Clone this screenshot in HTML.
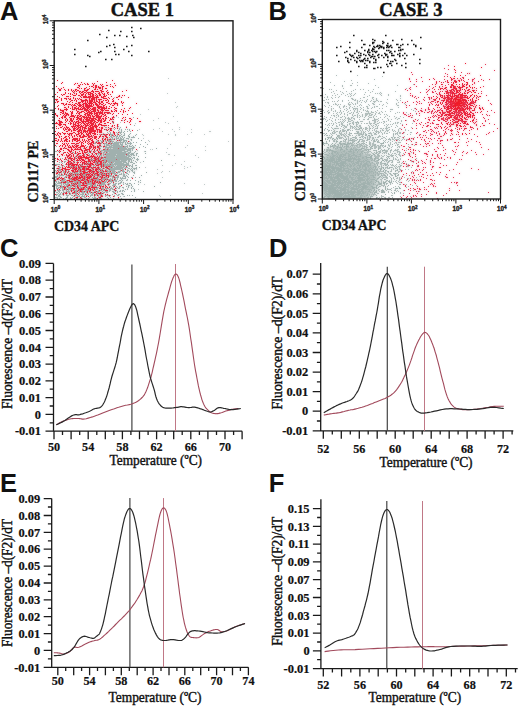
<!DOCTYPE html>
<html><head><meta charset="utf-8"><title>Figure</title>
<style>
html,body{margin:0;padding:0;background:#fff;}
body{width:520px;height:707px;position:relative;overflow:hidden;font-family:"Liberation Sans", sans-serif;}
</style></head><body>
<svg width="520" height="707" viewBox="0 0 520 707" style="position:absolute;left:0;top:0">
<defs><filter id="bl" x="-30%" y="-30%" width="160%" height="160%"><feGaussianBlur stdDeviation="5"/></filter><filter id="bl2" x="-100%" y="-100%" width="300%" height="300%"><feGaussianBlur stdDeviation="2.5"/></filter><filter id="sb" x="0" y="0" width="100%" height="100%"><feGaussianBlur stdDeviation="0.8"/></filter><filter id="hz" x="-5%" y="-5%" width="110%" height="110%"><feGaussianBlur stdDeviation="1.2"/></filter></defs>
<g>
<g opacity="0.5" filter="url(#hz)"><path d="M107 155.5h1M83 191.5h1M68 186.5h1M81 165.5h1M69 181.5h1M71 184.5h1M121 181.5h1M73 177.5h1M60 170.5h1M64 192.5h1M76 182.5h1M86 195.5h1M84 189.5h1M92 174.5h1M86 186.5h1M68 191.5h1M67 173.5h1M67 164.5h1M64 177.5h1M97 188.5h1M89 172.5h1M104 183.5h1M66 175.5h1M83 173.5h1M89 173.5h1M115 190.5h1M103 189.5h1M72 193.5h1M115 185.5h1M123 164.5h1M71 195.5h1M93 158.5h1M80 167.5h1M110 172.5h1M103 179.5h1M107 188.5h1M72 174.5h1M91 171.5h1M100 169.5h1M83 177.5h1M60 185.5h1M90 165.5h1M94 181.5h1M118 175.5h1M133 188.5h1M107 158.5h1M61 161.5h1M104 178.5h1M121 173.5h1M111 188.5h1M105 191.5h1M56 184.5h1M79 180.5h1M99 182.5h1M56 176.5h1M98 185.5h1M73 176.5h1M66 182.5h1M69 177.5h1M61 183.5h1M94 182.5h1M76 198.5h1M60 190.5h1M61 179.5h1M90 180.5h1M103 178.5h1M69 188.5h1M108 155.5h1M120 196.5h1M96 191.5h1M64 178.5h1M80 175.5h1M56 197.5h1M111 175.5h1M91 184.5h1M92 178.5h1M70 185.5h1M64 185.5h1M84 188.5h1M84 181.5h1M84 166.5h1M64 166.5h1M57 155.5h1M85 182.5h1M85 174.5h1M63 186.5h1M68 159.5h1M101 165.5h1M112 179.5h1M101 181.5h1M87 193.5h1M90 167.5h1M59 192.5h1M74 179.5h1M118 195.5h1M63 175.5h1M110 155.5h1M81 177.5h1M60 180.5h1M76 189.5h1M82 173.5h1M75 170.5h1M88 176.5h1M68 176.5h1M91 182.5h1M113 180.5h1M58 195.5h1M102 171.5h1M87 192.5h1M67 156.5h1M93 176.5h1M78 143.5h1M91 179.5h1M82 183.5h1M104 181.5h1M126 186.5h1M64 180.5h1M69 191.5h1M82 182.5h1M64 186.5h1M85 193.5h1M83 174.5h1M109 167.5h1M55 185.5h1M68 184.5h1M55 151.5h1M106 176.5h1M83 163.5h1M74 190.5h1M88 188.5h1M131 177.5h1M86 198.5h1M90 186.5h1M69 184.5h1M81 189.5h1M78 183.5h1M110 183.5h1M65 181.5h1M76 171.5h1M66 159.5h1M72 165.5h1M98 191.5h1M59 190.5h1M114 185.5h1M79 190.5h1M94 156.5h1M78 186.5h1M118 198.5h1M102 193.5h1M78 192.5h1M108 153.5h1M79 182.5h1M89 192.5h1M77 155.5h1M102 183.5h1M101 185.5h1M69 185.5h1M105 149.5h1M91 159.5h1M95 183.5h1M59 167.5h1M80 155.5h1M96 163.5h1M83 196.5h1M76 174.5h1M90 185.5h1M70 152.5h1M105 171.5h1M80 158.5h1M63 184.5h1M63 180.5h1M89 183.5h1M93 193.5h1M119 180.5h1M106 162.5h1M94 191.5h1M79 184.5h1M75 175.5h1M75 187.5h1M65 186.5h1M62 180.5h1M63 179.5h1M73 169.5h1M123 175.5h1M88 198.5h1M95 180.5h1M83 179.5h1M99 183.5h1M63 192.5h1M82 160.5h1M81 169.5h1M87 191.5h1M69 175.5h1M91 175.5h1M83 193.5h1M105 195.5h1M82 193.5h1M131 154.5h1M61 184.5h1M106 189.5h1M66 184.5h1M109 179.5h1M102 176.5h1M73 171.5h1M55 164.5h1M100 177.5h1M82 176.5h1M113 185.5h1M79 169.5h1M80 179.5h1M91 177.5h1M64 172.5h1M96 177.5h1M84 177.5h1M72 181.5h1M99 194.5h1M92 185.5h1M84 182.5h1M111 181.5h1M68 182.5h1M55 179.5h1M56 178.5h1M77 172.5h1M84 195.5h1M69 174.5h1M94 180.5h1M88 189.5h1M88 184.5h1M82 178.5h1M73 164.5h1M55 176.5h1M107 191.5h1M87 187.5h1M136 169.5h1M92 186.5h1M96 161.5h1M100 162.5h1M85 171.5h1M87 180.5h1M65 177.5h1M81 185.5h1M84 174.5h1M86 190.5h1M62 158.5h1M85 180.5h1M117 187.5h1M79 172.5h1M64 171.5h1M74 185.5h1M72 179.5h1M107 184.5h1M62 179.5h1M93 165.5h1M85 173.5h1M93 179.5h1M87 161.5h1M63 189.5h1M67 182.5h1M64 183.5h1M80 178.5h1M63 187.5h1M84 163.5h1M102 170.5h1M73 183.5h1M86 177.5h1M91 178.5h1M77 196.5h1M124 174.5h1M69 187.5h1M98 190.5h1M85 175.5h1M116 163.5h1M115 181.5h1M69 162.5h1M122 191.5h1M85 179.5h1M89 155.5h1M75 188.5h1M85 148.5h1M82 196.5h1M75 169.5h1M65 174.5h1M96 189.5h1M110 181.5h1M116 180.5h1M91 174.5h1M60 183.5h1M112 181.5h1M82 165.5h1M80 173.5h1M67 160.5h1M58 182.5h1M78 165.5h1M68 183.5h1M66 191.5h1M90 195.5h1M60 175.5h1M85 178.5h1M76 172.5h1M75 177.5h1M57 192.5h1M95 191.5h1M63 178.5h1M96 170.5h1M96 174.5h1M108 180.5h1M57 188.5h1M59 176.5h1M90 192.5h1M107 178.5h1M113 191.5h1M98 183.5h1M78 170.5h1M74 174.5h1M119 167.5h1M81 176.5h1M59 182.5h1M77 174.5h1M110 165.5h1M96 179.5h1M69 178.5h1M77 197.5h1M75 191.5h1M77 170.5h1M70 189.5h1M59 173.5h1M92 182.5h1M90 196.5h1M66 195.5h1M83 178.5h1M76 184.5h1M83 194.5h1M70 172.5h1M102 178.5h1M86 183.5h1M84 151.5h1M90 163.5h1M87 189.5h1M96 175.5h1M68 174.5h1M81 190.5h1M78 153.5h1M80 172.5h1M75 168.5h1M69 165.5h1M92 169.5h1M88 180.5h1M72 184.5h1M94 188.5h1M58 187.5h1M106 192.5h1M79 166.5h1M88 183.5h1M55 160.5h1M56 179.5h1M85 170.5h1M74 188.5h1M102 165.5h1M125 167.5h1M79 196.5h1M71 156.5h1M94 165.5h1M75 158.5h1M92 192.5h1M58 178.5h1M83 187.5h1M70 194.5h1M77 180.5h1M97 174.5h1M81 174.5h1M75 184.5h1M128 185.5h1M59 162.5h1M65 184.5h1M90 179.5h1M72 173.5h1M80 182.5h1M80 188.5h1M69 192.5h1M93 178.5h1M67 172.5h1M56 192.5h1M121 168.5h1M138 184.5h1M64 173.5h1M113 189.5h1M101 190.5h1M73 189.5h1M92 187.5h1M58 170.5h1M122 177.5h1M109 186.5h1M106 177.5h1M116 177.5h1M90 181.5h1M92 188.5h1M91 183.5h1M123 190.5h1M90 190.5h1M73 161.5h1M102 177.5h1M61 177.5h1M89 169.5h1M120 166.5h1M98 175.5h1M92 181.5h1M78 167.5h1M84 168.5h1M83 180.5h1M116 183.5h1M111 182.5h1M95 197.5h1M93 182.5h1M117 167.5h1M70 164.5h1M84 187.5h1M85 181.5h1M66 171.5h1M74 193.5h1M97 168.5h1M113 187.5h1M81 172.5h1M128 187.5h1M87 182.5h1M88 187.5h1M81 182.5h1M59 164.5h1M74 181.5h1M70 190.5h1M61 174.5h1M95 179.5h1M75 180.5h1M87 163.5h1M61 192.5h1M68 187.5h1M96 168.5h1M96 187.5h1M79 176.5h1M76 144.5h1M95 184.5h1M72 171.5h1M88 163.5h1M89 175.5h1M58 179.5h1M82 190.5h1M71 179.5h1M58 164.5h1M91 168.5h1M61 186.5h1M83 183.5h1M100 176.5h1M110 195.5h1M62 193.5h1M66 194.5h1M87 177.5h1M119 194.5h1M80 198.5h1M72 190.5h1M67 197.5h1M85 186.5h1M70 175.5h1M74 157.5h1M72 185.5h1M103 164.5h1M98 172.5h1M77 185.5h1M83 148.5h1M89 178.5h1M70 186.5h1M76 197.5h1M62 155.5h1M61 182.5h1M76 173.5h1M86 174.5h1M101 160.5h1M78 168.5h1M96 169.5h1M98 167.5h1M93 173.5h1M80 166.5h1M96 194.5h1M112 163.5h1M79 171.5h1M85 188.5h1M110 188.5h1M106 180.5h1M58 190.5h1M73 172.5h1M55 170.5h1M110 150.5h1M91 167.5h1M79 178.5h1M84 184.5h1M86 194.5h1M110 175.5h1M54 171.5h1M108 185.5h1M57 198.5h1M85 197.5h1M80 183.5h1M100 174.5h1M81 170.5h1M91 187.5h1M83 160.5h1M128 162.5h1M84 175.5h1M89 174.5h1M84 183.5h1M108 195.5h1M92 164.5h1M95 182.5h1M97 181.5h1M101 158.5h1M85 189.5h1M91 170.5h1M100 187.5h1M96 181.5h1M92 170.5h1M73 181.5h1M106 168.5h1M73 193.5h1M72 167.5h1M113 184.5h1M78 166.5h1M93 175.5h1M105 178.5h1M63 194.5h1M67 181.5h1M55 181.5h1M61 173.5h1M98 182.5h1M64 162.5h1M66 177.5h1M85 159.5h1M66 186.5h1M67 167.5h1M63 195.5h1M62 182.5h1M68 177.5h1M64 181.5h1M94 198.5h1M96 182.5h1M77 178.5h1M79 181.5h1M82 188.5h1M96 178.5h1M72 188.5h1M65 188.5h1M68 192.5h1M112 177.5h1M60 169.5h1M66 190.5h1M104 173.5h1M73 152.5h1M126 159.5h1M73 174.5h1M66 185.5h1M99 190.5h1M105 179.5h1M75 178.5h1M55 183.5h1M112 170.5h1M89 177.5h1M72 183.5h1M130 180.5h1M96 172.5h1M64 188.5h1M59 198.5h1M98 176.5h1M102 175.5h1M82 189.5h1M109 171.5h1M64 187.5h1M63 183.5h1M95 195.5h1M98 196.5h1M59 185.5h1M99 147.5h1M75 195.5h1M69 176.5h1M95 185.5h1M78 173.5h1M94 186.5h1M87 174.5h1M66 188.5h1M59 195.5h1M98 179.5h1M78 177.5h1M67 184.5h1M92 163.5h1M90 177.5h1M62 186.5h1M108 184.5h1M100 155.5h1M77 175.5h1M63 191.5h1M97 155.5h1M71 189.5h1M126 164.5h1M56 186.5h1M78 189.5h1M66 169.5h1M88 193.5h1M69 179.5h1M75 197.5h1M57 183.5h1M73 168.5h1M74 173.5h1M61 172.5h1M98 180.5h1M79 160.5h1M98 154.5h1M59 175.5h1M94 196.5h1M82 198.5h1M106 158.5h1M66 189.5h1M95 177.5h1M122 169.5h1M94 179.5h1M87 176.5h1M70 187.5h1M102 182.5h1M70 181.5h1M72 169.5h1M78 181.5h1M104 177.5h1M123 187.5h1M87 185.5h1M93 171.5h1M83 192.5h1M92 183.5h1M83 171.5h1M94 195.5h1M80 164.5h1M92 193.5h1M65 189.5h1M84 179.5h1M89 188.5h1M113 176.5h1M110 186.5h1M59 187.5h1M103 192.5h1M67 195.5h1M96 180.5h1M81 197.5h1M115 174.5h1M55 190.5h1M100 198.5h1M115 191.5h1M72 180.5h1M97 167.5h1M87 178.5h1M58 185.5h1M82 159.5h1M100 181.5h1M60 171.5h1M107 192.5h1M62 166.5h1M70 179.5h1M101 178.5h1M74 161.5h1M88 182.5h1M77 173.5h1M104 175.5h1M79 193.5h1M87 171.5h1M73 190.5h1M115 177.5h1M115 178.5h1M73 162.5h1M95 181.5h1M104 192.5h1M86 182.5h1M82 194.5h1M75 172.5h1M103 186.5h1M90 173.5h1M58 188.5h1M80 185.5h1M103 175.5h1M72 152.5h1M59 169.5h1M62 163.5h1M75 185.5h1M68 165.5h1M106 175.5h1M76 153.5h1M97 164.5h1M55 191.5h1M81 171.5h1M94 197.5h1M80 168.5h1M68 149.5h1M91 185.5h1M97 161.5h1M93 187.5h1M94 176.5h1M88 169.5h1M114 180.5h1M71 163.5h1M76 176.5h1M58 172.5h1M68 178.5h1M55 180.5h1M85 164.5h1M77 165.5h1M72 187.5h1M92 190.5h1M84 196.5h1M58 166.5h1M84 167.5h1M90 171.5h1M81 188.5h1M92 180.5h1M70 176.5h1M71 178.5h1M77 188.5h1M67 183.5h1M57 194.5h1M70 166.5h1M131 168.5h1M94 187.5h1M57 179.5h1M98 192.5h1M76 155.5h1M108 198.5h1M88 173.5h1M82 150.5h1M96 171.5h1M80 177.5h1M68 175.5h1M72 178.5h1M87 179.5h1M58 181.5h1M93 152.5h1M68 160.5h1M76 190.5h1M84 171.5h1M67 193.5h1M89 170.5h1M75 157.5h1M82 191.5h1M66 197.5h1M87 150.5h1M98 169.5h1M122 193.5h1M105 177.5h1M65 159.5h1M84 186.5h1M115 183.5h1M77 149.5h1M106 188.5h1M66 170.5h1M102 184.5h1M104 179.5h1M91 186.5h1M70 182.5h1M55 197.5h1M122 180.5h1M88 153.5h1M112 172.5h1M103 181.5h1M81 196.5h1M117 191.5h1M82 184.5h1M71 182.5h1M76 180.5h1M79 192.5h1M100 157.5h1M54 172.5h1M103 184.5h1M95 151.5h1M62 190.5h1M81 175.5h1M96 198.5h1M85 190.5h1M72 195.5h1M97 191.5h1M113 192.5h1M69 182.5h1M88 178.5h1M71 151.5h1M95 187.5h1M99 176.5h1M74 153.5h1M81 191.5h1M98 171.5h1M123 184.5h1M69 194.5h1M87 164.5h1M60 194.5h1M94 167.5h1M89 156.5h1M101 188.5h1M90 162.5h1M102 188.5h1M65 198.5h1M61 162.5h1M154 186.5h1M61 154.5h1M87 165.5h1M56 185.5h1M101 171.5h1M76 181.5h1M89 180.5h1M101 163.5h1M112 194.5h1M74 182.5h1M77 198.5h1M58 191.5h1M104 166.5h1M59 194.5h1M73 167.5h1M109 191.5h1M102 191.5h1M75 182.5h1M106 179.5h1M61 197.5h1M74 168.5h1M92 179.5h1M109 189.5h1M110 179.5h1M94 158.5h1M99 167.5h1M80 180.5h1M108 175.5h1M101 193.5h1M64 161.5h1M68 172.5h1M65 161.5h1M79 185.5h1M70 197.5h1M61 181.5h1M107 195.5h1M95 167.5h1M84 192.5h1M59 170.5h1M86 187.5h1M76 179.5h1M134 190.5h1M78 179.5h1M84 180.5h1M79 177.5h1M63 190.5h1M104 174.5h1M61 180.5h1M146 172.5h1M81 180.5h1M109 187.5h1M76 191.5h1M60 197.5h1M71 164.5h1M81 164.5h1M87 195.5h1M135 177.5h1M108 181.5h1M100 196.5h1M56 174.5h1M56 195.5h1M109 170.5h1M60 186.5h1M63 152.5h1M132 186.5h1M73 188.5h1M129 171.5h1M88 186.5h1M100 171.5h1M82 180.5h1M75 193.5h1M57 178.5h1M80 184.5h1M118 188.5h1M57 186.5h1M90 184.5h1M110 197.5h1M105 173.5h1M58 183.5h1M105 187.5h1M134 191.5h1M73 196.5h1M104 164.5h1M94 162.5h1M75 179.5h1M73 184.5h1M88 175.5h1M75 156.5h1M66 176.5h1M91 180.5h1M104 182.5h1M96 186.5h1M91 195.5h1M106 174.5h1M86 181.5h1M109 184.5h1M68 189.5h1M122 178.5h1M68 163.5h1M104 165.5h1M68 195.5h1M111 173.5h1M82 187.5h1M103 174.5h1M76 168.5h1M71 198.5h1M76 186.5h1M82 167.5h1M94 157.5h1M106 190.5h1M102 174.5h1M67 155.5h1M69 166.5h1M56 188.5h1M80 191.5h1M125 178.5h1M99 188.5h1M92 168.5h1M99 186.5h1M110 157.5h1M82 177.5h1M58 193.5h1M121 193.5h1M77 195.5h1M101 175.5h1M56 182.5h1M86 167.5h1M62 187.5h1M66 181.5h1M85 168.5h1M81 173.5h1M60 158.5h1M79 186.5h1M76 178.5h1M113 181.5h1M84 176.5h1M87 152.5h1M97 195.5h1M65 182.5h1M101 177.5h1M106 195.5h1M94 154.5h1M60 193.5h1M71 185.5h1M118 156.5h1M101 174.5h1M76 162.5h1M69 155.5h1M102 160.5h1M103 190.5h1M72 177.5h1M124 196.5h1M60 167.5h1M119 191.5h1M92 184.5h1M60 196.5h1M95 168.5h1M94 185.5h1M105 184.5h1M95 186.5h1M102 169.5h1M100 192.5h1M85 177.5h1M100 179.5h1M70 167.5h1M87 188.5h1M61 187.5h1M93 184.5h1M92 173.5h1M85 183.5h1M95 174.5h1M64 148.5h1M67 175.5h1M97 165.5h1M84 169.5h1M88 159.5h1M80 186.5h1M131 185.5h1M62 174.5h1M76 177.5h1M65 173.5h1M91 189.5h1M66 198.5h1M56 151.5h1M102 187.5h1M106 167.5h1M131 155.5h1M73 170.5h1M85 176.5h1M74 196.5h1M58 174.5h1M74 189.5h1M70 174.5h1M64 179.5h1M99 168.5h1M55 177.5h1M59 174.5h1M86 192.5h1M73 185.5h1M72 175.5h1M69 189.5h1M80 174.5h1M79 170.5h1M57 197.5h1M77 157.5h1M101 196.5h1M81 187.5h1M131 187.5h1M71 180.5h1M98 197.5h1M56 181.5h1M64 189.5h1M92 153.5h1M92 175.5h1M60 187.5h1M58 196.5h1M89 165.5h1M98 181.5h1M72 176.5h1M94 159.5h1M67 185.5h1M77 179.5h1M73 163.5h1M60 188.5h1M80 165.5h1M93 190.5h1M91 164.5h1M101 182.5h1M99 177.5h1M75 174.5h1M95 189.5h1M92 194.5h1M55 158.5h1M118 177.5h1M81 167.5h1M79 191.5h1M103 193.5h1M119 183.5h1M79 188.5h1M63 172.5h1M103 177.5h1M98 170.5h1M93 188.5h1M110 190.5h1M73 159.5h1M123 172.5h1M74 165.5h1M72 172.5h1M98 187.5h1M101 164.5h1M94 192.5h1M78 184.5h1M127 173.5h1M74 160.5h1M64 182.5h1M107 182.5h1M70 173.5h1M84 197.5h1M101 198.5h1M58 177.5h1M75 186.5h1M132 195.5h1M88 194.5h1M106 169.5h1M98 140.5h1M86 158.5h1M134 173.5h1M121 178.5h1M97 184.5h1M81 192.5h1M120 182.5h1M76 183.5h1M54 180.5h1M108 188.5h1M94 172.5h1M113 166.5h1M106 160.5h1M59 183.5h1M78 187.5h1M89 164.5h1M99 163.5h1M94 173.5h1M78 180.5h1M69 163.5h1M74 192.5h1M67 187.5h1M59 177.5h1M87 190.5h1M62 188.5h1M99 174.5h1M56 177.5h1M65 176.5h1M59 179.5h1M76 194.5h1M56 168.5h1M95 162.5h1M74 184.5h1M93 186.5h1M84 161.5h1M118 160.5h1M73 179.5h1M87 181.5h1M79 198.5h1M79 183.5h1M86 189.5h1M57 190.5h1M62 170.5h1M71 174.5h1M78 174.5h1M93 192.5h1M65 179.5h1M83 188.5h1M56 172.5h1M70 159.5h1M69 180.5h1M77 191.5h1M99 198.5h1M131 191.5h1M78 196.5h1M98 162.5h1M68 170.5h1M78 190.5h1M117 175.5h1M76 175.5h1M62 181.5h1M75 167.5h1M121 174.5h1M82 195.5h1M110 162.5h1M76 156.5h1M70 188.5h1M83 170.5h1M74 177.5h1M123 178.5h1M61 178.5h1M76 188.5h1M71 186.5h1M95 178.5h1M73 192.5h1M85 191.5h1M114 190.5h1M99 180.5h1M62 189.5h1M110 168.5h1M69 157.5h1M74 176.5h1M97 182.5h1M60 182.5h1M73 165.5h1M124 191.5h1M105 156.5h1M65 192.5h1M78 171.5h1M102 195.5h1M111 176.5h1M74 166.5h1M61 165.5h1M103 182.5h1M86 164.5h1M77 181.5h1M105 190.5h1M77 190.5h1M97 192.5h1M96 165.5h1M70 162.5h1M115 187.5h1M111 172.5h1M89 190.5h1M55 184.5h1M90 191.5h1M87 183.5h1M90 170.5h1M66 180.5h1M105 169.5h1M59 151.5h1M83 184.5h1M56 187.5h1M99 164.5h1M56 194.5h1M106 151.5h1M78 175.5h1M64 169.5h1M115 169.5h1M89 176.5h1M104 162.5h1M90 161.5h1M102 179.5h1M77 183.5h1M103 165.5h1M116 164.5h1M89 179.5h1M105 186.5h1M79 157.5h1M54 184.5h1M102 189.5h1M63 198.5h1M77 161.5h1M88 190.5h1M98 166.5h1M78 154.5h1M65 183.5h1M73 180.5h1M127 195.5h1M120 168.5h1M57 173.5h1M86 175.5h1M89 187.5h1M59 191.5h1M100 165.5h1M79 174.5h1M63 181.5h1M56 164.5h1M72 182.5h1M92 172.5h1M97 162.5h1M101 176.5h1M109 157.5h1M85 185.5h1M126 180.5h1M75 190.5h1M113 177.5h1M88 181.5h1M94 171.5h1M109 196.5h1M99 185.5h1M104 184.5h1M95 190.5h1M75 173.5h1M95 198.5h1M119 187.5h1M140 180.5h1M92 195.5h1M62 194.5h1M89 152.5h1M75 149.5h1M77 176.5h1M114 192.5h1M72 197.5h1M105 188.5h1M99 175.5h1M93 168.5h1M86 173.5h1M83 176.5h1M107 197.5h1M102 180.5h1M92 197.5h1M73 175.5h1M74 159.5h1M75 194.5h1M112 178.5h1M82 192.5h1M102 181.5h1M63 170.5h1M58 169.5h1M88 161.5h1M65 193.5h1M62 175.5h1M116 188.5h1M87 184.5h1M120 180.5h1M101 154.5h1M89 163.5h1M68 188.5h1M120 178.5h1M95 170.5h1M101 184.5h1M87 173.5h1M79 189.5h1M67 191.5h1M81 194.5h1M90 157.5h1M98 178.5h1M109 159.5h1M160 182.5h1M106 166.5h1M121 179.5h1M78 185.5h1M115 184.5h1M72 192.5h1M84 154.5h1M70 198.5h1M57 185.5h1M93 198.5h1M69 171.5h1M56 165.5h1M83 157.5h1M61 185.5h1M83 167.5h1M138 181.5h1M67 189.5h1M75 192.5h1M97 178.5h1M94 183.5h1M131 157.5h1M59 196.5h1M103 188.5h1M120 186.5h1M67 196.5h1M70 156.5h1M92 167.5h1M109 181.5h1M63 171.5h1M89 181.5h1M83 175.5h1M85 172.5h1M56 171.5h1M112 185.5h1M78 182.5h1M86 191.5h1M101 195.5h1M71 191.5h1M91 181.5h1M99 171.5h1M105 174.5h1M72 166.5h1M86 176.5h1M104 171.5h1M90 175.5h1M84 155.5h1M106 191.5h1M76 193.5h1M61 175.5h1M58 151.5h1M121 158.5h1M100 158.5h1M110 173.5h1M96 162.5h1M93 170.5h1M99 173.5h1M80 194.5h1M98 195.5h1M65 164.5h1M57 175.5h1M62 167.5h1M76 195.5h1M82 185.5h1M119 172.5h1M113 171.5h1M91 165.5h1M96 193.5h1M80 190.5h1M90 193.5h1M121 182.5h1M92 159.5h1M59 168.5h1M74 183.5h1M112 189.5h1M57 176.5h1M56 146.5h1M70 193.5h1M141 175.5h1M73 186.5h1M59 160.5h1M86 185.5h1M76 166.5h1M78 178.5h1M76 192.5h1M100 194.5h1M77 186.5h1M63 165.5h1M58 168.5h1M90 188.5h1M75 166.5h1M59 166.5h1M88 167.5h1M97 187.5h1M95 143.5h1M93 166.5h1M104 190.5h1M97 194.5h1M96 188.5h1M112 188.5h1M108 161.5h1M104 180.5h1M103 171.5h1M119 171.5h1M90 147.5h1M95 194.5h1M86 184.5h1M113 186.5h1M122 187.5h1M113 173.5h1M128 177.5h1M95 166.5h1M113 183.5h1M135 197.5h1M97 177.5h1M81 159.5h1M103 166.5h1M100 160.5h1M161 160.5h1M114 170.5h1M103 158.5h1M112 168.5h1M112 171.5h1M115 161.5h1M109 153.5h1M117 161.5h1M91 157.5h1M94 175.5h1M115 180.5h1M96 141.5h1M121 167.5h1M100 185.5h1M95 159.5h1M86 166.5h1M116 169.5h1M109 183.5h1M112 161.5h1M113 156.5h1M118 183.5h1M120 156.5h1M106 181.5h1M118 184.5h1M120 164.5h1M111 187.5h1M116 186.5h1M123 170.5h1M100 166.5h1M114 178.5h1M122 154.5h1M101 194.5h1M112 191.5h1M127 170.5h1M116 172.5h1M122 194.5h1M120 190.5h1M86 162.5h1M98 164.5h1M131 166.5h1M111 170.5h1M123 182.5h1M101 169.5h1M143 191.5h1M118 176.5h1M105 182.5h1M103 187.5h1M116 194.5h1M113 169.5h1M129 166.5h1M99 157.5h1M108 162.5h1M120 174.5h1M123 154.5h1M124 171.5h1M108 159.5h1M111 179.5h1M125 176.5h1M89 154.5h1M125 183.5h1M112 166.5h1M127 165.5h1M100 195.5h1M99 184.5h1M103 173.5h1M97 169.5h1M117 195.5h1M89 184.5h1M117 177.5h1M107 173.5h1M79 155.5h1M107 157.5h1M117 192.5h1M94 161.5h1M120 191.5h1M119 174.5h1M102 172.5h1M98 157.5h1M103 163.5h1M123 174.5h1M114 154.5h1M115 168.5h1M118 194.5h1M116 161.5h1M108 183.5h1M105 196.5h1M109 175.5h1M109 174.5h1M99 191.5h1M107 194.5h1M119 156.5h1M133 168.5h1M101 183.5h1M98 161.5h1M124 168.5h1M77 168.5h1M75 171.5h1M112 162.5h1M118 172.5h1M127 189.5h1M127 176.5h1M103 159.5h1M101 192.5h1M102 196.5h1M97 150.5h1M117 154.5h1M85 169.5h1M116 167.5h1M85 163.5h1M113 172.5h1M107 187.5h1M105 181.5h1M94 177.5h1M81 179.5h1M126 172.5h1M123 165.5h1M105 165.5h1M92 149.5h1M120 183.5h1M108 174.5h1M95 163.5h1M129 195.5h1M114 193.5h1M98 168.5h1M122 171.5h1M107 163.5h1M89 135.5h1M105 163.5h1M96 154.5h1M115 164.5h1M95 161.5h1M77 177.5h1M101 161.5h1M103 161.5h1M112 157.5h1M86 170.5h1M96 158.5h1M90 169.5h1M135 180.5h1M101 189.5h1M109 190.5h1M99 181.5h1M133 163.5h1M118 167.5h1M116 166.5h1M126 162.5h1M114 196.5h1M131 188.5h1M126 184.5h1M91 194.5h1M131 184.5h1M105 160.5h1M90 182.5h1M115 179.5h1M119 155.5h1M110 164.5h1M114 160.5h1M107 177.5h1M97 179.5h1M127 183.5h1M78 149.5h1M115 173.5h1M124 176.5h1M112 158.5h1M126 154.5h1M110 180.5h1M57 164.5h1M93 180.5h1M103 183.5h1M100 168.5h1M97 189.5h1M116 181.5h1M71 158.5h1M140 182.5h1M97 175.5h1M98 147.5h1M97 176.5h1M107 165.5h1M109 173.5h1M92 189.5h1M118 168.5h1M80 187.5h1M109 160.5h1M118 164.5h1M86 163.5h1M106 178.5h1M101 186.5h1M101 179.5h1M101 173.5h1M119 188.5h1M98 160.5h1M123 176.5h1M120 159.5h1M105 170.5h1M137 159.5h1M120 170.5h1M134 189.5h1M86 180.5h1M115 149.5h1M124 175.5h1M116 190.5h1M113 168.5h1M85 167.5h1M90 183.5h1M114 164.5h1M115 158.5h1M103 155.5h1M119 186.5h1M120 165.5h1M97 180.5h1M129 185.5h1M124 178.5h1M129 183.5h1M98 163.5h1M80 156.5h1M89 197.5h1M121 198.5h1M99 146.5h1M126 160.5h1M113 198.5h1M97 173.5h1M112 167.5h1M110 178.5h1M130 183.5h1M106 164.5h1M101 151.5h1M128 170.5h1M125 189.5h1M70 178.5h1M89 182.5h1M103 153.5h1M122 190.5h1M97 153.5h1M94 184.5h1M100 190.5h1M84 185.5h1M118 171.5h1M110 189.5h1M107 171.5h1M97 172.5h1M82 175.5h1M124 154.5h1M71 166.5h1M105 153.5h1M113 175.5h1M114 171.5h1M123 161.5h1M90 159.5h1M117 172.5h1M104 168.5h1M114 195.5h1M117 156.5h1M102 166.5h1M97 160.5h1M86 196.5h1M99 158.5h1M113 170.5h1M102 158.5h1M107 170.5h1M133 172.5h1M102 140.5h1M79 195.5h1M100 184.5h1M119 168.5h1M104 157.5h1M105 176.5h1M117 176.5h1M109 180.5h1M105 175.5h1M133 175.5h1M110 160.5h1M91 150.5h1M139 167.5h1M92 136.5h1M106 173.5h1M75 181.5h1M112 154.5h1M118 163.5h1M118 159.5h1M68 190.5h1M100 173.5h1M86 169.5h1M95 175.5h1M74 171.5h1M108 166.5h1M118 155.5h1M80 170.5h1M81 149.5h1M103 170.5h1M123 194.5h1M128 186.5h1M97 193.5h1M107 164.5h1M108 179.5h1M111 160.5h1M115 142.5h1M133 117.5h1M106 171.5h1M96 159.5h1M118 166.5h1M111 162.5h1M106 146.5h1M109 154.5h1M122 168.5h1M131 160.5h1M128 152.5h1M103 167.5h1M115 154.5h1M112 139.5h1M117 146.5h1M107 148.5h1M108 145.5h1M113 148.5h1M118 150.5h1M106 141.5h1M126 140.5h1M125 143.5h1M120 133.5h1M124 164.5h1M113 123.5h1M111 137.5h1M124 148.5h1M107 172.5h1M106 156.5h1M125 140.5h1M127 179.5h1M110 169.5h1M116 157.5h1M115 155.5h1M139 177.5h1M115 144.5h1M120 155.5h1M104 151.5h1M100 134.5h1M123 148.5h1M130 148.5h1M99 153.5h1M111 157.5h1M104 135.5h1M121 147.5h1M132 149.5h1M107 140.5h1M132 150.5h1M129 149.5h1M100 143.5h1M103 172.5h1M122 156.5h1M138 159.5h1M128 143.5h1M121 142.5h1M118 145.5h1M116 159.5h1M110 152.5h1M131 159.5h1M132 154.5h1M127 154.5h1M118 147.5h1M119 160.5h1M126 167.5h1M119 129.5h1M136 162.5h1M114 150.5h1M101 141.5h1M131 162.5h1M116 139.5h1M100 146.5h1M121 129.5h1M105 164.5h1M116 149.5h1M121 136.5h1M121 144.5h1M105 154.5h1M100 161.5h1M108 158.5h1M125 156.5h1M102 157.5h1M137 130.5h1M119 132.5h1M108 143.5h1M118 126.5h1M118 153.5h1M119 135.5h1M118 169.5h1M103 160.5h1M103 154.5h1M140 162.5h1M125 157.5h1M140 144.5h1M130 131.5h1M123 167.5h1M110 133.5h1M113 139.5h1M130 156.5h1M118 137.5h1M100 164.5h1M133 137.5h1M112 150.5h1M134 158.5h1M104 160.5h1M121 161.5h1M127 129.5h1M118 142.5h1M113 132.5h1M102 141.5h1M124 137.5h1M120 142.5h1M110 154.5h1M121 146.5h1M112 138.5h1M124 152.5h1M111 147.5h1M134 137.5h1M104 156.5h1M145 151.5h1M102 134.5h1M112 145.5h1M109 113.5h1M118 152.5h1M125 153.5h1M114 167.5h1M129 137.5h1M117 135.5h1M113 162.5h1M119 146.5h1M108 141.5h1M87 168.5h1M125 154.5h1M97 159.5h1M111 180.5h1M122 150.5h1M115 146.5h1M99 148.5h1M108 133.5h1M117 160.5h1M128 164.5h1M120 141.5h1M117 155.5h1M129 148.5h1M109 137.5h1M121 155.5h1M116 146.5h1M100 120.5h1M127 145.5h1M110 129.5h1M133 157.5h1M113 147.5h1M129 130.5h1M110 158.5h1M129 145.5h1M101 142.5h1M122 143.5h1M127 150.5h1M127 163.5h1M116 155.5h1M99 144.5h1M119 166.5h1M107 150.5h1M114 117.5h1M112 119.5h1M122 160.5h1M104 161.5h1M123 135.5h1M106 135.5h1M99 150.5h1M112 147.5h1M117 142.5h1M110 166.5h1M131 139.5h1M93 146.5h1M121 145.5h1M156 148.5h1M114 143.5h1M118 149.5h1M118 144.5h1M111 141.5h1M121 150.5h1M128 138.5h1M111 150.5h1M100 144.5h1M121 134.5h1M124 160.5h1M121 139.5h1M134 125.5h1M135 161.5h1M115 175.5h1M129 158.5h1M113 164.5h1M135 151.5h1M137 160.5h1M129 156.5h1M106 147.5h1M109 140.5h1M119 139.5h1M99 155.5h1M129 146.5h1M133 136.5h1M134 172.5h1M120 151.5h1M106 152.5h1M120 138.5h1M113 135.5h1M99 143.5h1M120 158.5h1M145 147.5h1M100 145.5h1M127 138.5h1M117 144.5h1M114 149.5h1M117 162.5h1M127 149.5h1M122 164.5h1M104 154.5h1M109 128.5h1M101 150.5h1M95 142.5h1M124 140.5h1M108 151.5h1M103 152.5h1M114 155.5h1M108 169.5h1M130 133.5h1M121 151.5h1M111 166.5h1M117 179.5h1M117 134.5h1M105 141.5h1M114 156.5h1M121 131.5h1M120 177.5h1M107 168.5h1M141 140.5h1M118 161.5h1M87 146.5h1M131 146.5h1M130 150.5h1M108 147.5h1M117 138.5h1M94 151.5h1M120 132.5h1M133 146.5h1M104 144.5h1M109 147.5h1M105 140.5h1M119 150.5h1M122 139.5h1M145 142.5h1M107 154.5h1M115 135.5h1M100 152.5h1M97 149.5h1M117 163.5h1M123 160.5h1M123 139.5h1M107 149.5h1M98 141.5h1M100 130.5h1M89 148.5h1M124 147.5h1M131 140.5h1M123 153.5h1M114 172.5h1M121 166.5h1M122 142.5h1M109 172.5h1M121 132.5h1M118 132.5h1M109 142.5h1M112 159.5h1M104 145.5h1M126 149.5h1M124 153.5h1M115 162.5h1M120 137.5h1M100 136.5h1M107 151.5h1M107 175.5h1M124 156.5h1M133 147.5h1M132 171.5h1M115 165.5h1M128 149.5h1M109 155.5h1M120 157.5h1M128 150.5h1M122 148.5h1M138 156.5h1M100 151.5h1M122 158.5h1M107 145.5h1M110 153.5h1M117 143.5h1M111 136.5h1M111 149.5h1M130 158.5h1M110 119.5h1M135 145.5h1M96 142.5h1M110 176.5h1M133 148.5h1M125 142.5h1M124 141.5h1M120 147.5h1M105 148.5h1M118 134.5h1M132 169.5h1M119 164.5h1M117 149.5h1M104 143.5h1M112 149.5h1M114 184.5h1M89 160.5h1M104 146.5h1M110 170.5h1M110 146.5h1M120 153.5h1M96 150.5h1M127 143.5h1M118 151.5h1M111 161.5h1M106 145.5h1M119 151.5h1M135 135.5h1M105 134.5h1M111 128.5h1M113 151.5h1M103 162.5h1M130 151.5h1M124 133.5h1M109 165.5h1M116 143.5h1M123 155.5h1M121 148.5h1M130 149.5h1M116 137.5h1M125 149.5h1M115 128.5h1M103 137.5h1M97 145.5h1M124 146.5h1M107 132.5h1M109 131.5h1M116 132.5h1M106 155.5h1M122 153.5h1M143 146.5h1M128 154.5h1M122 149.5h1M108 165.5h1M105 157.5h1M134 183.5h1M118 158.5h1M127 157.5h1M132 147.5h1M113 121.5h1M131 170.5h1M106 149.5h1M126 153.5h1M119 159.5h1M109 146.5h1M123 158.5h1M113 145.5h1M119 140.5h1M87 149.5h1M115 151.5h1M117 127.5h1M134 147.5h1M128 136.5h1M133 160.5h1M113 149.5h1M114 159.5h1M105 127.5h1M116 145.5h1M131 137.5h1M114 139.5h1M104 149.5h1M147 144.5h1M104 159.5h1M121 152.5h1M117 166.5h1M111 151.5h1M128 156.5h1M114 157.5h1M122 159.5h1M116 147.5h1M124 162.5h1M122 120.5h1M117 152.5h1M143 161.5h1M123 169.5h1M114 145.5h1M123 140.5h1M109 162.5h1M114 136.5h1M105 143.5h1M115 167.5h1M125 152.5h1M114 138.5h1M117 145.5h1M126 157.5h1M116 138.5h1M101 170.5h1M129 153.5h1M118 181.5h1M111 156.5h1M109 163.5h1M123 141.5h1M85 153.5h1M120 148.5h1M119 128.5h1M90 146.5h1M113 141.5h1M128 168.5h1M139 147.5h1M96 160.5h1M110 161.5h1M111 152.5h1M107 137.5h1M103 146.5h1M134 169.5h1M121 156.5h1M115 147.5h1M113 157.5h1M117 151.5h1M136 165.5h1M130 143.5h1M114 129.5h1M117 159.5h1M105 162.5h1M107 138.5h1M137 150.5h1M136 134.5h1M133 142.5h1M133 153.5h1M121 153.5h1M123 166.5h1M112 122.5h1M88 139.5h1M145 153.5h1M109 139.5h1M115 163.5h1M132 167.5h1M113 161.5h1M100 148.5h1M124 150.5h1M112 152.5h1M111 145.5h1M136 153.5h1M97 140.5h1M120 127.5h1M123 157.5h1M111 146.5h1M109 141.5h1M126 138.5h1M106 170.5h1M124 155.5h1M110 132.5h1M116 148.5h1M103 140.5h1M131 161.5h1M145 157.5h1M138 138.5h1M135 165.5h1M128 148.5h1M113 133.5h1M112 141.5h1M111 126.5h1M104 126.5h1M121 157.5h1M117 168.5h1M119 153.5h1M129 134.5h1M106 144.5h1M114 148.5h1M88 162.5h1M118 138.5h1M132 137.5h1M118 143.5h1M103 185.5h1M111 154.5h1M127 159.5h1M122 136.5h1M120 171.5h1M97 156.5h1M111 129.5h1M124 134.5h1M98 153.5h1M120 161.5h1M125 158.5h1M130 165.5h1M116 142.5h1M123 138.5h1M111 139.5h1M129 168.5h1M125 129.5h1M128 159.5h1M110 144.5h1M130 154.5h1M126 144.5h1M112 137.5h1M114 146.5h1M102 163.5h1M123 150.5h1M112 155.5h1M99 134.5h1M122 145.5h1M106 130.5h1M106 154.5h1M124 161.5h1M132 170.5h1M103 147.5h1M98 148.5h1M120 162.5h1M103 138.5h1M91 153.5h1" stroke="#a2b2b0" stroke-width="1.0" fill="none" id="d1"/></g>
<use href="#d1" stroke-opacity="1.0"/>
<g opacity="0.5" filter="url(#hz)"><path d="M111 176.5h1M159 195.5h1M138 182.5h1M195 155.5h1M160 196.5h1M114 97.5h1M228 141.5h1M140 162.5h1M134 171.5h1M162 131.5h1M143 138.5h1M144 151.5h1M127 153.5h1M118 124.5h1M115 164.5h1M153 120.5h1M153 129.5h1M140 114.5h1M123 196.5h1M161 172.5h1M143 135.5h1M130 144.5h1M176 107.5h1M120 151.5h1M139 129.5h1M105 141.5h1M116 116.5h1M159 128.5h1M64 155.5h1M210 131.5h1M138 189.5h1M123 175.5h1M177 121.5h1M114 136.5h1M152 149.5h1M175 135.5h1M187 134.5h1M136 169.5h1M169 171.5h1M114 156.5h1M157 169.5h1M187 145.5h1M113 128.5h1M144 184.5h1M205 146.5h1M117 156.5h1M190 166.5h1M165 122.5h1M168 154.5h1M94 130.5h1M157 173.5h1M170 144.5h1M111 152.5h1M184 183.5h1M166 152.5h1M170 195.5h1M172 129.5h1M142 134.5h1M162 165.5h1M174 131.5h1M125 148.5h1M174 155.5h1M168 134.5h1M162 171.5h1M116 146.5h1M209 131.5h1M168 78.5h1M101 146.5h1M191 129.5h1M162 177.5h1M169 154.5h1M204 184.5h1M126 126.5h1M179 127.5h1M184 166.5h1M74 92.5h1M191 132.5h1M122 180.5h1M117 128.5h1M173 116.5h1M135 123.5h1M111 111.5h1M148 109.5h1M148 140.5h1M184 161.5h1M150 149.5h1M137 150.5h1M167 93.5h1M198 157.5h1M204 134.5h1M167 148.5h1M127 188.5h1M120 122.5h1M119 131.5h1M125 156.5h1M145 167.5h1M127 180.5h1M123 188.5h1M175 163.5h1M129 172.5h1M175 102.5h1M184 168.5h1M185 147.5h1M100 160.5h1M127 169.5h1M130 139.5h1M128 139.5h1M149 141.5h1M205 150.5h1M202 193.5h1M168 123.5h1M115 149.5h1M123 183.5h1M179 129.5h1M172 165.5h1M118 117.5h1M91 151.5h1M158 118.5h1M175 134.5h1M181 164.5h1M187 167.5h1M99 164.5h1M132 177.5h1M177 106.5h1" stroke="#c3cccb" stroke-width="1.0" fill="none" id="d2"/></g>
<use href="#d2" stroke-opacity="1.0"/>
<g opacity="0.5" filter="url(#hz)"><path d="M77 128.5h1M93 128.5h1M91 109.5h1M99 106.5h1M95 121.5h1M86 126.5h1M85 110.5h1M89 109.5h1M89 96.5h1M97 117.5h1M83 141.5h1M102 110.5h1M89 148.5h1M84 103.5h1M84 136.5h1M84 108.5h1M86 96.5h1M89 130.5h1M87 120.5h1M89 92.5h1M110 118.5h1M95 86.5h1M87 115.5h1M76 108.5h1M106 112.5h1M90 96.5h1M92 116.5h1M80 84.5h1M84 100.5h1M110 113.5h1M84 97.5h1M89 126.5h1M84 83.5h1M97 109.5h1M96 103.5h1M98 108.5h1M99 88.5h1M96 101.5h1M95 124.5h1M101 120.5h1M99 92.5h1M98 107.5h1M88 134.5h1M82 122.5h1M73 124.5h1M100 88.5h1M103 125.5h1M86 107.5h1M104 112.5h1M96 100.5h1M101 99.5h1M91 113.5h1M105 138.5h1M83 101.5h1M82 129.5h1M87 109.5h1M79 92.5h1M88 103.5h1M105 104.5h1M79 103.5h1M91 111.5h1M80 128.5h1M91 130.5h1M88 107.5h1M74 107.5h1M80 141.5h1M100 103.5h1M95 113.5h1M76 113.5h1M85 102.5h1M91 86.5h1M107 93.5h1M88 136.5h1M86 113.5h1M97 129.5h1M105 100.5h1M83 108.5h1M91 136.5h1M93 108.5h1M79 113.5h1M103 91.5h1M75 138.5h1M101 129.5h1M70 101.5h1M92 115.5h1M110 139.5h1M88 122.5h1M79 105.5h1M101 92.5h1M89 101.5h1M111 110.5h1M98 121.5h1M73 98.5h1M85 109.5h1M104 129.5h1M97 131.5h1M78 111.5h1M77 136.5h1M85 103.5h1M96 85.5h1M94 114.5h1M96 113.5h1M93 124.5h1M100 131.5h1M89 136.5h1M70 94.5h1M84 89.5h1M90 101.5h1M90 132.5h1M99 118.5h1M98 142.5h1M82 137.5h1M96 98.5h1M80 102.5h1M94 102.5h1M92 101.5h1M89 112.5h1M104 94.5h1M106 108.5h1M82 91.5h1M75 103.5h1M89 128.5h1M78 123.5h1M97 116.5h1M107 134.5h1M98 117.5h1M107 110.5h1M100 112.5h1M84 130.5h1M98 106.5h1M99 94.5h1M118 132.5h1M92 109.5h1M102 104.5h1M94 137.5h1M95 97.5h1M83 104.5h1M81 123.5h1M83 116.5h1M103 97.5h1M80 96.5h1M96 117.5h1M90 120.5h1M83 122.5h1M92 120.5h1M101 110.5h1M88 105.5h1M87 121.5h1M79 116.5h1M101 125.5h1M91 120.5h1M72 106.5h1M100 90.5h1M85 84.5h1M84 92.5h1M95 133.5h1M94 89.5h1M81 101.5h1M90 100.5h1M81 94.5h1M108 122.5h1M99 117.5h1M95 85.5h1M77 119.5h1M108 117.5h1M84 107.5h1M81 143.5h1M77 117.5h1M99 137.5h1M90 102.5h1M100 106.5h1M105 114.5h1M116 108.5h1M80 115.5h1M88 94.5h1M85 119.5h1M87 125.5h1M92 137.5h1M108 97.5h1M85 88.5h1M91 102.5h1M94 118.5h1M104 121.5h1M91 106.5h1M98 105.5h1M80 91.5h1M89 119.5h1M94 110.5h1M107 112.5h1M101 107.5h1M99 120.5h1M85 126.5h1M91 118.5h1M89 107.5h1M82 127.5h1M104 120.5h1M101 127.5h1M91 101.5h1M106 85.5h1M96 127.5h1M98 151.5h1M104 98.5h1M89 106.5h1M90 130.5h1M91 143.5h1M97 96.5h1M103 136.5h1M103 149.5h1M86 128.5h1M85 108.5h1M73 90.5h1M86 121.5h1M101 109.5h1M78 90.5h1M89 103.5h1M78 108.5h1M101 131.5h1M100 111.5h1M107 140.5h1M88 133.5h1M79 118.5h1M83 105.5h1M92 95.5h1M88 115.5h1M105 167.5h1M99 123.5h1M91 103.5h1M92 96.5h1M91 132.5h1M85 104.5h1M74 124.5h1M100 84.5h1M82 128.5h1M86 109.5h1M109 103.5h1M72 102.5h1M93 105.5h1M83 103.5h1M108 108.5h1M95 125.5h1M95 89.5h1M100 143.5h1M89 115.5h1M97 130.5h1M92 129.5h1M93 95.5h1M82 136.5h1M86 105.5h1M77 131.5h1M97 126.5h1M98 97.5h1M96 116.5h1M90 126.5h1M91 91.5h1M83 117.5h1M89 88.5h1M116 97.5h1M90 110.5h1M80 93.5h1M89 137.5h1M92 153.5h1M103 141.5h1M93 110.5h1M102 118.5h1M72 109.5h1M86 99.5h1M89 105.5h1M85 97.5h1M90 108.5h1M96 137.5h1M98 138.5h1M79 125.5h1M99 132.5h1M93 123.5h1M99 103.5h1M74 130.5h1M106 129.5h1M101 121.5h1M91 121.5h1M88 97.5h1M87 124.5h1M80 104.5h1M87 84.5h1M87 100.5h1M84 112.5h1M97 134.5h1M112 91.5h1M88 130.5h1M102 142.5h1M102 89.5h1M90 105.5h1M84 121.5h1M89 102.5h1M106 102.5h1M84 109.5h1M94 126.5h1M104 123.5h1M83 120.5h1M94 108.5h1M110 147.5h1M104 109.5h1M100 120.5h1M110 104.5h1M86 119.5h1M102 93.5h1M99 116.5h1M78 95.5h1M89 124.5h1M106 106.5h1M99 124.5h1M106 98.5h1M91 128.5h1M69 129.5h1M79 114.5h1M83 97.5h1M83 106.5h1M95 137.5h1M86 120.5h1M98 143.5h1M78 122.5h1M102 114.5h1M103 108.5h1M86 125.5h1M91 122.5h1M98 111.5h1M94 100.5h1M80 109.5h1M89 120.5h1M93 98.5h1M95 108.5h1M98 110.5h1M84 150.5h1M81 95.5h1M83 153.5h1M81 117.5h1M101 130.5h1M100 122.5h1M98 119.5h1M78 105.5h1M92 100.5h1M87 107.5h1M107 102.5h1M96 86.5h1M92 118.5h1M97 185.5h1M96 99.5h1M82 146.5h1M83 96.5h1M113 103.5h1M97 97.5h1M87 110.5h1M75 130.5h1M79 142.5h1M85 114.5h1M63 150.5h1M87 101.5h1M81 112.5h1M88 139.5h1M107 122.5h1M90 125.5h1M86 93.5h1M91 125.5h1M106 110.5h1M90 115.5h1M74 84.5h1M81 105.5h1M94 134.5h1M102 113.5h1M80 136.5h1M82 104.5h1M82 142.5h1M95 126.5h1M85 136.5h1M85 158.5h1M77 108.5h1M69 99.5h1M92 133.5h1M92 123.5h1M100 107.5h1M81 111.5h1M94 109.5h1M100 118.5h1M93 133.5h1M98 86.5h1M76 127.5h1M79 88.5h1M100 136.5h1M79 127.5h1M88 116.5h1M107 90.5h1M79 131.5h1M99 148.5h1M107 85.5h1M94 83.5h1M96 97.5h1M86 123.5h1M74 108.5h1M93 111.5h1M81 92.5h1M86 104.5h1M68 129.5h1M76 122.5h1M104 107.5h1M88 135.5h1M102 97.5h1M85 100.5h1M81 130.5h1M102 127.5h1M95 115.5h1M103 138.5h1M102 128.5h1M91 105.5h1M80 112.5h1M116 103.5h1M77 111.5h1M86 134.5h1M76 121.5h1M78 134.5h1M90 134.5h1M112 99.5h1M96 115.5h1M77 112.5h1M99 99.5h1M79 98.5h1M76 91.5h1M74 117.5h1M87 108.5h1M99 114.5h1M81 100.5h1M96 126.5h1M93 119.5h1M83 132.5h1M81 118.5h1M82 100.5h1M90 127.5h1M90 112.5h1M88 111.5h1M85 121.5h1M87 135.5h1M85 131.5h1M92 124.5h1M108 113.5h1M81 126.5h1M87 90.5h1M110 123.5h1M99 112.5h1M85 122.5h1M98 115.5h1M86 149.5h1M116 110.5h1M80 116.5h1M85 106.5h1M105 119.5h1M100 132.5h1M97 112.5h1M87 104.5h1M87 119.5h1M84 124.5h1M83 91.5h1M74 138.5h1M99 127.5h1M97 147.5h1M67 101.5h1M97 95.5h1M96 105.5h1M90 118.5h1M71 156.5h1M88 127.5h1M112 114.5h1M80 153.5h1M77 98.5h1M101 113.5h1M85 101.5h1M95 130.5h1M86 97.5h1M92 121.5h1M91 140.5h1M96 96.5h1M66 118.5h1M89 118.5h1M87 114.5h1M101 124.5h1M95 103.5h1M102 108.5h1M88 121.5h1M89 129.5h1M83 121.5h1M77 126.5h1M93 122.5h1M100 135.5h1M100 130.5h1M92 86.5h1M108 110.5h1M103 98.5h1M97 91.5h1M91 104.5h1M89 97.5h1M103 103.5h1M81 142.5h1M85 94.5h1M99 102.5h1M91 114.5h1M77 121.5h1M104 105.5h1M73 92.5h1M80 130.5h1M75 105.5h1M110 128.5h1M100 117.5h1M112 92.5h1M100 87.5h1M83 94.5h1M85 105.5h1M94 98.5h1M100 121.5h1M102 91.5h1M93 87.5h1M84 96.5h1M97 110.5h1M96 112.5h1M89 122.5h1M94 121.5h1M90 117.5h1M95 102.5h1M88 117.5h1M93 117.5h1M98 102.5h1M81 120.5h1M69 140.5h1M109 120.5h1M94 107.5h1M112 101.5h1M100 116.5h1M87 117.5h1M83 111.5h1M113 119.5h1M85 96.5h1M112 111.5h1M76 135.5h1M95 111.5h1M85 132.5h1M86 136.5h1M81 119.5h1M78 130.5h1M77 123.5h1M85 99.5h1M90 113.5h1M82 151.5h1M109 143.5h1M91 99.5h1M88 108.5h1M86 106.5h1M92 83.5h1M99 142.5h1M96 128.5h1M111 103.5h1M90 131.5h1M88 93.5h1M87 118.5h1M98 112.5h1M99 129.5h1M89 113.5h1M108 101.5h1M88 114.5h1M78 99.5h1M91 131.5h1M94 111.5h1M92 119.5h1M96 91.5h1M83 125.5h1M79 112.5h1M106 91.5h1M93 126.5h1M96 119.5h1M103 114.5h1M103 94.5h1M93 104.5h1M78 124.5h1M78 87.5h1M94 132.5h1M102 88.5h1M87 102.5h1M77 129.5h1M85 113.5h1M87 131.5h1M74 121.5h1M89 99.5h1M79 129.5h1M78 127.5h1M97 104.5h1M93 141.5h1M100 99.5h1M97 132.5h1M96 122.5h1M80 99.5h1M88 84.5h1M108 112.5h1M93 118.5h1M106 82.5h1M85 115.5h1M101 106.5h1M96 114.5h1M90 123.5h1M93 107.5h1M93 130.5h1M91 144.5h1M75 90.5h1M92 97.5h1M100 113.5h1M90 128.5h1M72 112.5h1M92 108.5h1M94 116.5h1M97 115.5h1M86 133.5h1M93 102.5h1M97 105.5h1M95 93.5h1M84 151.5h1M98 129.5h1M88 110.5h1M94 99.5h1M80 119.5h1M101 85.5h1M81 131.5h1M114 107.5h1M83 135.5h1M111 119.5h1M81 133.5h1M92 130.5h1M101 96.5h1M79 106.5h1M74 126.5h1M92 127.5h1M86 118.5h1M85 128.5h1M89 104.5h1M92 145.5h1M88 128.5h1M88 144.5h1M105 117.5h1M83 136.5h1M75 139.5h1M95 107.5h1M110 119.5h1M80 108.5h1M96 87.5h1M78 102.5h1M84 140.5h1M78 147.5h1M92 90.5h1M85 117.5h1M88 125.5h1M101 108.5h1M84 88.5h1M85 142.5h1M104 125.5h1M92 103.5h1M117 104.5h1M84 117.5h1M113 101.5h1M93 120.5h1M90 148.5h1M90 129.5h1M75 95.5h1M90 116.5h1M103 143.5h1M87 123.5h1M72 126.5h1M72 120.5h1M90 156.5h1M75 122.5h1M87 130.5h1M90 93.5h1M107 130.5h1M87 168.5h1M91 119.5h1M92 98.5h1M69 128.5h1M117 126.5h1M97 122.5h1M81 88.5h1M102 86.5h1M89 139.5h1M101 102.5h1M92 125.5h1M101 101.5h1M99 104.5h1M80 135.5h1M106 127.5h1M84 129.5h1M91 112.5h1M104 115.5h1M76 119.5h1M88 106.5h1M89 132.5h1M114 111.5h1M82 108.5h1M99 149.5h1M95 95.5h1M106 134.5h1M92 106.5h1M76 106.5h1M91 129.5h1M102 101.5h1M70 96.5h1M93 99.5h1M86 111.5h1M88 142.5h1M97 107.5h1M93 116.5h1M90 106.5h1M111 128.5h1M104 113.5h1M91 142.5h1M109 106.5h1M92 131.5h1M84 127.5h1M87 105.5h1M105 123.5h1M82 121.5h1M94 122.5h1M81 115.5h1M105 135.5h1M98 120.5h1M88 96.5h1M74 132.5h1M96 125.5h1M106 137.5h1M97 163.5h1M85 92.5h1M100 94.5h1M73 105.5h1M84 114.5h1M99 93.5h1M91 93.5h1M69 104.5h1M101 115.5h1M94 120.5h1M95 123.5h1M92 126.5h1M88 129.5h1M92 94.5h1M112 125.5h1M97 89.5h1M106 136.5h1M98 116.5h1M90 136.5h1M121 120.5h1M85 125.5h1M95 118.5h1M82 84.5h1M66 104.5h1M73 126.5h1M85 130.5h1M83 143.5h1M89 94.5h1M77 83.5h1M106 125.5h1M81 109.5h1M110 140.5h1M73 129.5h1M103 106.5h1M89 98.5h1M99 95.5h1M80 122.5h1M103 100.5h1M107 113.5h1M103 118.5h1M95 119.5h1M78 115.5h1M79 86.5h1M88 120.5h1M88 119.5h1M89 111.5h1M81 121.5h1M75 125.5h1M93 84.5h1M105 96.5h1M84 110.5h1M82 95.5h1M90 92.5h1M82 126.5h1M82 116.5h1M113 116.5h1M92 91.5h1M93 96.5h1M83 130.5h1M103 121.5h1M80 126.5h1M81 125.5h1M93 91.5h1M101 112.5h1M113 105.5h1M97 113.5h1M103 116.5h1M101 97.5h1M103 105.5h1M76 101.5h1M93 92.5h1M105 98.5h1M99 145.5h1M79 104.5h1M108 103.5h1M101 104.5h1M90 103.5h1M94 101.5h1M77 139.5h1M82 139.5h1M78 107.5h1M84 135.5h1M83 107.5h1M77 118.5h1M98 87.5h1M93 109.5h1M69 169.5h1M99 152.5h1M95 178.5h1M110 141.5h1M72 158.5h1M68 164.5h1M97 162.5h1M93 146.5h1M67 131.5h1M98 140.5h1M87 180.5h1M89 171.5h1M72 164.5h1M92 156.5h1M77 125.5h1M88 168.5h1M58 171.5h1M106 152.5h1M85 172.5h1M88 164.5h1M96 161.5h1M105 179.5h1M91 160.5h1M78 194.5h1M78 169.5h1M109 169.5h1M97 146.5h1M84 167.5h1M86 177.5h1M105 171.5h1M92 189.5h1M93 164.5h1M93 127.5h1M107 190.5h1M84 172.5h1M94 187.5h1M79 178.5h1M86 175.5h1M71 151.5h1M92 160.5h1M57 179.5h1M94 195.5h1M89 143.5h1M68 149.5h1M96 173.5h1M62 168.5h1M64 174.5h1M67 167.5h1M78 187.5h1M80 157.5h1M97 173.5h1M71 181.5h1M91 163.5h1M113 122.5h1M80 178.5h1M81 191.5h1M86 179.5h1M86 169.5h1M74 186.5h1M72 165.5h1M91 170.5h1M80 189.5h1M91 167.5h1M101 157.5h1M102 173.5h1M93 156.5h1M107 144.5h1M71 162.5h1M77 177.5h1M104 146.5h1M70 174.5h1M76 167.5h1M65 167.5h1M64 159.5h1M96 168.5h1M115 160.5h1M61 177.5h1M109 170.5h1M88 169.5h1M72 145.5h1M83 189.5h1M57 178.5h1M92 168.5h1M104 139.5h1M77 185.5h1M75 177.5h1M70 147.5h1M95 173.5h1M115 167.5h1M89 151.5h1M71 170.5h1M77 155.5h1M112 135.5h1M94 146.5h1M84 191.5h1M61 139.5h1M112 180.5h1M90 166.5h1M83 155.5h1M68 171.5h1M66 193.5h1M67 156.5h1M126 166.5h1M100 161.5h1M101 196.5h1M99 182.5h1M84 185.5h1M79 151.5h1M93 142.5h1M65 170.5h1M101 174.5h1M80 182.5h1M89 177.5h1M78 178.5h1M68 150.5h1M73 185.5h1M101 153.5h1M89 176.5h1M70 163.5h1M89 166.5h1M88 178.5h1M88 177.5h1M76 171.5h1M71 191.5h1M93 160.5h1M93 155.5h1M85 182.5h1M94 147.5h1M104 149.5h1M108 165.5h1M77 186.5h1M83 166.5h1M72 153.5h1M97 156.5h1M67 189.5h1M81 180.5h1M86 162.5h1M104 150.5h1M78 190.5h1M111 174.5h1M81 176.5h1M96 129.5h1M88 189.5h1M72 177.5h1M56 143.5h1M117 167.5h1M75 170.5h1M84 178.5h1M116 151.5h1M90 133.5h1M81 177.5h1M77 149.5h1M62 155.5h1M73 174.5h1M91 176.5h1M109 156.5h1M98 161.5h1M101 166.5h1M71 178.5h1M71 158.5h1M71 173.5h1M97 175.5h1M96 191.5h1M69 176.5h1M99 169.5h1M87 163.5h1M74 191.5h1M118 158.5h1M101 172.5h1M72 193.5h1M85 149.5h1M74 149.5h1M102 175.5h1M71 165.5h1M85 161.5h1M80 149.5h1M103 160.5h1M90 188.5h1M82 180.5h1M121 170.5h1M106 175.5h1M80 170.5h1M102 170.5h1M91 187.5h1M77 193.5h1M84 139.5h1M90 175.5h1M106 165.5h1M90 169.5h1M89 188.5h1M99 160.5h1M125 172.5h1M83 188.5h1M70 157.5h1M71 188.5h1M115 175.5h1M114 177.5h1M71 148.5h1M84 181.5h1M107 175.5h1M106 181.5h1M89 149.5h1M75 144.5h1M85 163.5h1M132 178.5h1M65 171.5h1M71 155.5h1M78 131.5h1M94 150.5h1M83 173.5h1M73 168.5h1M76 179.5h1M82 176.5h1M108 184.5h1M92 179.5h1M93 169.5h1M86 172.5h1M84 168.5h1M59 150.5h1M92 181.5h1M90 190.5h1M74 157.5h1M78 162.5h1M88 175.5h1M118 148.5h1M88 155.5h1M81 188.5h1M107 152.5h1M92 163.5h1M93 190.5h1M82 153.5h1M100 172.5h1M89 186.5h1M86 158.5h1M67 169.5h1M85 185.5h1M95 181.5h1M106 161.5h1M78 188.5h1M100 170.5h1M90 143.5h1M77 162.5h1M85 152.5h1M68 163.5h1M99 181.5h1M96 157.5h1M97 181.5h1M72 168.5h1M83 162.5h1M87 179.5h1M80 175.5h1M67 157.5h1M108 168.5h1M101 156.5h1M92 154.5h1M81 145.5h1M90 171.5h1M102 160.5h1M101 162.5h1M90 164.5h1M68 162.5h1M69 161.5h1M87 177.5h1M87 191.5h1M83 187.5h1M67 172.5h1M100 179.5h1M83 183.5h1M75 174.5h1M69 193.5h1M82 183.5h1M78 143.5h1M87 174.5h1M69 155.5h1M64 188.5h1M75 164.5h1M72 171.5h1M78 166.5h1M66 155.5h1M98 159.5h1M85 181.5h1M93 173.5h1M105 185.5h1M68 158.5h1M102 196.5h1M98 147.5h1M115 188.5h1M89 157.5h1M84 176.5h1M76 197.5h1M82 159.5h1M100 176.5h1M92 164.5h1M92 185.5h1M109 166.5h1M73 183.5h1M61 171.5h1M84 177.5h1M94 182.5h1M64 189.5h1M113 171.5h1M79 176.5h1M88 149.5h1M98 172.5h1M89 178.5h1M68 161.5h1M94 174.5h1M98 146.5h1M90 163.5h1M104 180.5h1M90 161.5h1M55 194.5h1M83 160.5h1M57 158.5h1M75 175.5h1M73 171.5h1M77 182.5h1M80 169.5h1M114 186.5h1M114 153.5h1M110 171.5h1M85 166.5h1M114 179.5h1M89 159.5h1M80 160.5h1M74 167.5h1M88 157.5h1M77 191.5h1M69 157.5h1M71 167.5h1M128 141.5h1M84 157.5h1M67 180.5h1M64 137.5h1M90 160.5h1M93 178.5h1M89 167.5h1M95 156.5h1M93 177.5h1M87 154.5h1M88 159.5h1M115 168.5h1M91 135.5h1M116 172.5h1M78 165.5h1M93 184.5h1M74 172.5h1M87 151.5h1M69 164.5h1M89 165.5h1M93 143.5h1M79 189.5h1M101 158.5h1M87 149.5h1M75 169.5h1M72 160.5h1M83 169.5h1M87 158.5h1M77 174.5h1M91 179.5h1M94 171.5h1M103 166.5h1M79 167.5h1M101 152.5h1M103 162.5h1M99 161.5h1M86 185.5h1M110 164.5h1M66 174.5h1M62 179.5h1M80 191.5h1M106 186.5h1M111 155.5h1M87 169.5h1M90 173.5h1M73 161.5h1M101 189.5h1M69 180.5h1M93 171.5h1M105 190.5h1M68 166.5h1M95 157.5h1M81 173.5h1M61 182.5h1M103 181.5h1M79 158.5h1M104 157.5h1M93 180.5h1M125 169.5h1M109 146.5h1M84 166.5h1M69 158.5h1M93 167.5h1M81 150.5h1M83 167.5h1M75 178.5h1M89 191.5h1M66 163.5h1M82 155.5h1M77 154.5h1M88 161.5h1M76 169.5h1M76 164.5h1M81 189.5h1M84 164.5h1M89 174.5h1M78 154.5h1M113 176.5h1M66 166.5h1M88 181.5h1M62 178.5h1M58 166.5h1M84 152.5h1M76 177.5h1M99 179.5h1M91 156.5h1M78 160.5h1M82 168.5h1M76 168.5h1M96 171.5h1M69 175.5h1M79 147.5h1M103 165.5h1M91 192.5h1M100 188.5h1M116 175.5h1M80 162.5h1M103 186.5h1M57 172.5h1M107 182.5h1M74 192.5h1M73 155.5h1M100 187.5h1M103 133.5h1M96 159.5h1M78 158.5h1M82 174.5h1M74 135.5h1M81 158.5h1M108 176.5h1M71 159.5h1M92 157.5h1M83 146.5h1M77 187.5h1M94 160.5h1M81 159.5h1M87 172.5h1M82 166.5h1M87 155.5h1M104 156.5h1M125 147.5h1M119 146.5h1M84 148.5h1M94 181.5h1M82 162.5h1M90 144.5h1M78 180.5h1M80 197.5h1M73 159.5h1M90 139.5h1M83 178.5h1M55 140.5h1M68 167.5h1M121 167.5h1M90 181.5h1M105 154.5h1M91 174.5h1M83 145.5h1M94 136.5h1M77 176.5h1M97 165.5h1M72 149.5h1M101 178.5h1M87 178.5h1M67 186.5h1M86 154.5h1M86 161.5h1M59 189.5h1M83 184.5h1M73 164.5h1M88 188.5h1M78 157.5h1M69 178.5h1M98 174.5h1M80 173.5h1M93 145.5h1M68 185.5h1M114 189.5h1M80 165.5h1M87 157.5h1M80 146.5h1M69 184.5h1M85 148.5h1M89 170.5h1M88 180.5h1M82 189.5h1M109 187.5h1M72 188.5h1M94 189.5h1M109 158.5h1M97 198.5h1M102 139.5h1M90 177.5h1M97 172.5h1M90 176.5h1M93 187.5h1M87 141.5h1M79 153.5h1M94 167.5h1M61 174.5h1M95 158.5h1M93 162.5h1M103 158.5h1M90 189.5h1M73 156.5h1M73 165.5h1M111 143.5h1M102 177.5h1M86 196.5h1M108 181.5h1M74 169.5h1M65 181.5h1M101 165.5h1M98 157.5h1M77 159.5h1M72 185.5h1M95 170.5h1M107 167.5h1M114 147.5h1M86 183.5h1M106 159.5h1M87 192.5h1M79 168.5h1M84 156.5h1M95 180.5h1M86 152.5h1M89 172.5h1M92 171.5h1M80 156.5h1M95 187.5h1M82 164.5h1M86 140.5h1M100 182.5h1M94 176.5h1M95 167.5h1M107 179.5h1M61 149.5h1M69 185.5h1M82 157.5h1M84 161.5h1M76 176.5h1M105 170.5h1M75 168.5h1M74 177.5h1M95 153.5h1M70 152.5h1M88 167.5h1M97 171.5h1M98 164.5h1M94 158.5h1M84 147.5h1M80 177.5h1M96 170.5h1M85 141.5h1M88 174.5h1M83 182.5h1M69 181.5h1M68 175.5h1M97 141.5h1M89 164.5h1M69 154.5h1M103 154.5h1M101 150.5h1M89 160.5h1M74 198.5h1M77 170.5h1M95 160.5h1M106 160.5h1M99 190.5h1M84 162.5h1M100 164.5h1M84 160.5h1M97 174.5h1M68 153.5h1M89 187.5h1M113 196.5h1M94 192.5h1M106 167.5h1M69 173.5h1M107 172.5h1M101 161.5h1M93 183.5h1M85 157.5h1M77 164.5h1M106 162.5h1M82 145.5h1M95 147.5h1M94 149.5h1M84 169.5h1M115 190.5h1M74 195.5h1M92 174.5h1M68 165.5h1M74 158.5h1M97 167.5h1M94 188.5h1M75 171.5h1M67 145.5h1M77 146.5h1M84 171.5h1M104 175.5h1M108 153.5h1M76 149.5h1M96 187.5h1M81 156.5h1M82 150.5h1M82 177.5h1M103 164.5h1M80 132.5h1M83 168.5h1M81 157.5h1M91 158.5h1M89 141.5h1M96 193.5h1M70 158.5h1M81 175.5h1M92 187.5h1M98 167.5h1M88 171.5h1M80 181.5h1M99 185.5h1M77 143.5h1M81 146.5h1M85 186.5h1M73 179.5h1M57 159.5h1M106 166.5h1M89 161.5h1M93 172.5h1M90 151.5h1M72 181.5h1M70 176.5h1M103 161.5h1M81 182.5h1M109 195.5h1M105 160.5h1M98 183.5h1M81 198.5h1M100 193.5h1M93 151.5h1M84 163.5h1M88 158.5h1M79 159.5h1M70 154.5h1M100 186.5h1M77 197.5h1M92 182.5h1M83 171.5h1M111 173.5h1M111 167.5h1M112 162.5h1M91 172.5h1M101 163.5h1M77 163.5h1M77 171.5h1M78 156.5h1M73 170.5h1M100 192.5h1M96 165.5h1M104 189.5h1M82 109.5h1M75 153.5h1M81 99.5h1M82 106.5h1M76 139.5h1M57 99.5h1M79 164.5h1M102 176.5h1M87 83.5h1M109 149.5h1M71 183.5h1M71 133.5h1M66 126.5h1M101 90.5h1M68 114.5h1M97 143.5h1M74 178.5h1M63 193.5h1M79 133.5h1M106 173.5h1M82 111.5h1M87 97.5h1M86 91.5h1M108 166.5h1M94 178.5h1M86 90.5h1M85 145.5h1M99 136.5h1M75 89.5h1M109 159.5h1M90 94.5h1M106 118.5h1M72 170.5h1M86 157.5h1M63 103.5h1M116 159.5h1M92 139.5h1M59 124.5h1M94 183.5h1M97 182.5h1M80 129.5h1M83 172.5h1M82 185.5h1M75 128.5h1M115 103.5h1M84 187.5h1M71 114.5h1M94 112.5h1M86 100.5h1M71 123.5h1M86 168.5h1M114 127.5h1M71 119.5h1M114 139.5h1M94 138.5h1M105 194.5h1M64 144.5h1M84 179.5h1M72 141.5h1M74 143.5h1M81 107.5h1M75 124.5h1M101 122.5h1M100 159.5h1M80 124.5h1M70 116.5h1M73 139.5h1M65 146.5h1M96 94.5h1M99 156.5h1M96 178.5h1M77 152.5h1M86 103.5h1M67 162.5h1M111 166.5h1M89 131.5h1M74 184.5h1M80 171.5h1M87 92.5h1M72 108.5h1M72 133.5h1M65 187.5h1M73 147.5h1M80 137.5h1M62 167.5h1M76 156.5h1M105 125.5h1M64 133.5h1M84 146.5h1M102 157.5h1M70 146.5h1M69 167.5h1M107 187.5h1M85 95.5h1M76 145.5h1M102 181.5h1M82 169.5h1M98 193.5h1M105 110.5h1M59 156.5h1M117 128.5h1M93 129.5h1M78 125.5h1M79 180.5h1M91 123.5h1M63 111.5h1M102 193.5h1M92 93.5h1M100 151.5h1M95 131.5h1M76 147.5h1M68 123.5h1M55 190.5h1M68 160.5h1M57 141.5h1M83 157.5h1M61 154.5h1M71 118.5h1M77 90.5h1M79 156.5h1M108 177.5h1M105 108.5h1M64 187.5h1M72 104.5h1M95 127.5h1M121 156.5h1M59 123.5h1M105 136.5h1M77 104.5h1M57 143.5h1M60 186.5h1M69 117.5h1M68 169.5h1M94 152.5h1M97 101.5h1M87 106.5h1M65 182.5h1M65 158.5h1M86 117.5h1M94 131.5h1M102 112.5h1M82 163.5h1M74 127.5h1M103 146.5h1M79 177.5h1M91 98.5h1M73 109.5h1M99 130.5h1M70 108.5h1M94 130.5h1M76 138.5h1M79 139.5h1M75 83.5h1M92 161.5h1M65 137.5h1M78 85.5h1M80 120.5h1M105 156.5h1M100 163.5h1M70 133.5h1M89 114.5h1M81 134.5h1M94 125.5h1M91 96.5h1M71 121.5h1M62 165.5h1M64 173.5h1M99 159.5h1M68 155.5h1M79 136.5h1M80 127.5h1M73 188.5h1M85 124.5h1M83 119.5h1M96 154.5h1M104 173.5h1M77 148.5h1M114 132.5h1M96 142.5h1M55 114.5h1M89 147.5h1M88 182.5h1M92 111.5h1M60 121.5h1M80 174.5h1M85 90.5h1M83 100.5h1M56 99.5h1M101 164.5h1M97 81.5h1M92 186.5h1M60 180.5h1M105 120.5h1M57 189.5h1M90 122.5h1M68 177.5h1M98 99.5h1M89 169.5h1M126 127.5h1M84 123.5h1M78 153.5h1M110 94.5h1M70 151.5h1M93 97.5h1M66 99.5h1M105 187.5h1M69 141.5h1M64 105.5h1M77 87.5h1M108 125.5h1M91 155.5h1M63 182.5h1M86 147.5h1M87 138.5h1M58 120.5h1M82 140.5h1M67 114.5h1M57 106.5h1M66 192.5h1M71 175.5h1M79 174.5h1M104 152.5h1M87 112.5h1M83 123.5h1M105 153.5h1M84 173.5h1M61 94.5h1M92 144.5h1M78 145.5h1M102 84.5h1M113 182.5h1M74 129.5h1M92 128.5h1M96 182.5h1M80 147.5h1M113 132.5h1M84 90.5h1M55 158.5h1M62 141.5h1M59 120.5h1M99 87.5h1M71 160.5h1M76 93.5h1M80 106.5h1M55 165.5h1M106 190.5h1M104 134.5h1M71 113.5h1M90 145.5h1M55 113.5h1M63 194.5h1M71 134.5h1M108 143.5h1M115 135.5h1M94 194.5h1M92 141.5h1M88 92.5h1M86 187.5h1M69 151.5h1M106 150.5h1M104 177.5h1M73 189.5h1M105 162.5h1M99 164.5h1M80 190.5h1M101 167.5h1M110 142.5h1M101 134.5h1M85 194.5h1M82 160.5h1M64 116.5h1M84 118.5h1M98 118.5h1M98 175.5h1M90 138.5h1M70 129.5h1M101 195.5h1M90 95.5h1M76 125.5h1M101 91.5h1M90 146.5h1M100 153.5h1M75 183.5h1M93 94.5h1M69 130.5h1M63 124.5h1M108 175.5h1M110 86.5h1M73 150.5h1M56 126.5h1M81 185.5h1M66 169.5h1M80 105.5h1M76 109.5h1M75 140.5h1M70 104.5h1M81 137.5h1M83 127.5h1M78 140.5h1M92 180.5h1M95 91.5h1M68 143.5h1M74 105.5h1M77 160.5h1M94 143.5h1M64 109.5h1M100 197.5h1M88 166.5h1M72 179.5h1M77 141.5h1M91 100.5h1M63 112.5h1M75 108.5h1M96 153.5h1M100 183.5h1M91 147.5h1M79 95.5h1M63 153.5h1M99 131.5h1M82 102.5h1M94 157.5h1M115 85.5h1M115 149.5h1M106 171.5h1M72 111.5h1M76 100.5h1M103 86.5h1M82 92.5h1M99 158.5h1M67 119.5h1M107 194.5h1M95 88.5h1M98 91.5h1M109 135.5h1M102 136.5h1M73 138.5h1M76 146.5h1M107 168.5h1M93 131.5h1M123 117.5h1M65 169.5h1M68 180.5h1M57 161.5h1M59 90.5h1M83 137.5h1M72 94.5h1M104 108.5h1M110 130.5h1M98 168.5h1M90 162.5h1M123 112.5h1M74 100.5h1M102 168.5h1M105 157.5h1M78 117.5h1M95 138.5h1M75 152.5h1M98 93.5h1M82 94.5h1M86 150.5h1M108 127.5h1M73 123.5h1M89 150.5h1M99 193.5h1M80 148.5h1M125 119.5h1M102 138.5h1M64 152.5h1M119 140.5h1M64 94.5h1M107 99.5h1M81 161.5h1M73 132.5h1M94 156.5h1M110 165.5h1M103 134.5h1M58 124.5h1M95 169.5h1M72 139.5h1M64 107.5h1M88 89.5h1M55 102.5h1M66 131.5h1M78 167.5h1M109 134.5h1M91 138.5h1M95 87.5h1M110 84.5h1M73 166.5h1M96 169.5h1M94 162.5h1M92 183.5h1M93 148.5h1M87 143.5h1M72 146.5h1M79 91.5h1M105 129.5h1M76 160.5h1M55 99.5h1M73 154.5h1M84 131.5h1M88 160.5h1M61 164.5h1M71 190.5h1M115 102.5h1M74 104.5h1M103 96.5h1M103 140.5h1M95 192.5h1M90 170.5h1M54 172.5h1M91 146.5h1M65 128.5h1M77 183.5h1M66 164.5h1M105 139.5h1M119 147.5h1M79 102.5h1M78 132.5h1M83 154.5h1M91 124.5h1M90 152.5h1M81 166.5h1M120 152.5h1M86 131.5h1M75 148.5h1M74 179.5h1M89 100.5h1M82 179.5h1M102 87.5h1M65 140.5h1M79 85.5h1M75 115.5h1M101 132.5h1M58 140.5h1M89 133.5h1M75 146.5h1M67 152.5h1M97 169.5h1M87 176.5h1M73 167.5h1M97 158.5h1M114 133.5h1M74 162.5h1M88 123.5h1M75 151.5h1M74 128.5h1M57 116.5h1M69 102.5h1M82 152.5h1M118 197.5h1M66 154.5h1M125 111.5h1M79 122.5h1M84 116.5h1M88 137.5h1M70 123.5h1M96 136.5h1M107 137.5h1M76 143.5h1M92 175.5h1M88 112.5h1M108 129.5h1M99 119.5h1M78 126.5h1M86 116.5h1M111 96.5h1M106 149.5h1M83 131.5h1M84 128.5h1M81 144.5h1M56 86.5h1M76 94.5h1M97 195.5h1M78 120.5h1M117 97.5h1M103 119.5h1M95 164.5h1M73 178.5h1M92 142.5h1M64 143.5h1M85 127.5h1M78 149.5h1M68 106.5h1M65 193.5h1M136 149.5h1M71 116.5h1M59 118.5h1M105 112.5h1M112 121.5h1M73 118.5h1M57 123.5h1M57 168.5h1M75 98.5h1M84 170.5h1M82 101.5h1M63 129.5h1M76 178.5h1M81 132.5h1M112 118.5h1M71 112.5h1M71 150.5h1M132 130.5h1M103 168.5h1M107 149.5h1M103 175.5h1M106 142.5h1M66 108.5h1M76 184.5h1M68 104.5h1M78 103.5h1M105 118.5h1M86 110.5h1M73 130.5h1M90 121.5h1M60 123.5h1M66 114.5h1M95 146.5h1M72 121.5h1M77 138.5h1M63 115.5h1M79 135.5h1M70 118.5h1M91 127.5h1M89 86.5h1M80 158.5h1M68 90.5h1M85 183.5h1M92 140.5h1M92 99.5h1M107 139.5h1M63 168.5h1M55 138.5h1M71 115.5h1M82 171.5h1M68 130.5h1M60 109.5h1M70 119.5h1M66 109.5h1M59 97.5h1M105 88.5h1M80 118.5h1M61 138.5h1M105 148.5h1M54 118.5h1M97 106.5h1M77 115.5h1M95 134.5h1M97 177.5h1M69 133.5h1M106 176.5h1M64 130.5h1M73 192.5h1M86 164.5h1M95 148.5h1M93 85.5h1M78 113.5h1M98 158.5h1M87 89.5h1M101 177.5h1M75 99.5h1M64 168.5h1M99 100.5h1M126 154.5h1M115 193.5h1M102 186.5h1M57 133.5h1M66 159.5h1M65 120.5h1M101 119.5h1M73 115.5h1M86 156.5h1M67 109.5h1M111 150.5h1M69 177.5h1M120 163.5h1M95 159.5h1M66 129.5h1M59 133.5h1M100 154.5h1M76 110.5h1M64 182.5h1M97 149.5h1M87 166.5h1M99 188.5h1M67 120.5h1M75 180.5h1M57 80.5h1M82 133.5h1M99 143.5h1M72 163.5h1M112 86.5h1M71 153.5h1M64 98.5h1M59 177.5h1M75 107.5h1M67 149.5h1M68 134.5h1M74 165.5h1M93 147.5h1M86 174.5h1M107 92.5h1M83 185.5h1M66 127.5h1M61 140.5h1M74 139.5h1M65 148.5h1M81 149.5h1M66 113.5h1M76 141.5h1M65 129.5h1M108 171.5h1M65 113.5h1M98 125.5h1M61 124.5h1M74 180.5h1M81 82.5h1M83 156.5h1M57 173.5h1M70 111.5h1M83 159.5h1M96 139.5h1M65 133.5h1M99 197.5h1M96 104.5h1M94 97.5h1M109 180.5h1M78 118.5h1M77 116.5h1M87 134.5h1M92 113.5h1M110 143.5h1M90 165.5h1M77 145.5h1M70 181.5h1M83 180.5h1M98 165.5h1M92 149.5h1M60 141.5h1M56 140.5h1M76 117.5h1M79 138.5h1M75 126.5h1M62 143.5h1M89 146.5h1M95 136.5h1M111 134.5h1M98 160.5h1M65 157.5h1M96 164.5h1M72 91.5h1M98 152.5h1M81 97.5h1M71 130.5h1M97 120.5h1M88 196.5h1M68 89.5h1M98 124.5h1M114 109.5h1M101 180.5h1M65 107.5h1M106 174.5h1M76 158.5h1M66 177.5h1M111 164.5h1M59 125.5h1M83 134.5h1M100 162.5h1M113 156.5h1M105 115.5h1M101 151.5h1M77 179.5h1M94 161.5h1M72 137.5h1M111 162.5h1M121 185.5h1M103 171.5h1M108 173.5h1M66 148.5h1M85 150.5h1M72 107.5h1M64 114.5h1M69 121.5h1M60 149.5h1M111 130.5h1M100 145.5h1M65 152.5h1M97 150.5h1M101 116.5h1M74 136.5h1M83 93.5h1M78 128.5h1M100 95.5h1M109 98.5h1M111 111.5h1M70 93.5h1M122 118.5h1M113 117.5h1M113 100.5h1M110 129.5h1M100 109.5h1M118 134.5h1M130 120.5h1M127 121.5h1M108 92.5h1M118 99.5h1M99 108.5h1M130 121.5h1M87 132.5h1M90 97.5h1M114 134.5h1M127 114.5h1M99 101.5h1M72 115.5h1M129 108.5h1M112 126.5h1M74 91.5h1M124 95.5h1M114 104.5h1M106 100.5h1M129 118.5h1M139 121.5h1M93 135.5h1M130 118.5h1M95 110.5h1M113 131.5h1M87 113.5h1M97 114.5h1M113 113.5h1M115 108.5h1M116 111.5h1M94 133.5h1M112 80.5h1M89 117.5h1M122 95.5h1M102 102.5h1M140 121.5h1M100 124.5h1M109 108.5h1M128 110.5h1M125 117.5h1M79 130.5h1M117 125.5h1M123 146.5h1M120 111.5h1M119 96.5h1M69 134.5h1M117 103.5h1M119 95.5h1M86 87.5h1M71 100.5h1M113 87.5h1M68 115.5h1M113 98.5h1M121 102.5h1M112 105.5h1M117 140.5h1M122 103.5h1M108 100.5h1M136 103.5h1M121 97.5h1M106 88.5h1M109 139.5h1M111 107.5h1M121 101.5h1M99 107.5h1M103 110.5h1M117 124.5h1M131 119.5h1M104 96.5h1M112 117.5h1M99 113.5h1M121 109.5h1M73 119.5h1M124 108.5h1M123 111.5h1M130 124.5h1M137 118.5h1M116 115.5h1M102 125.5h1M104 93.5h1M124 122.5h1M79 109.5h1M103 107.5h1M102 111.5h1M104 95.5h1M109 112.5h1M108 94.5h1M114 125.5h1M118 96.5h1M114 103.5h1M118 113.5h1M117 105.5h1M123 102.5h1M94 113.5h1M124 120.5h1M106 107.5h1M95 104.5h1M101 128.5h1M122 105.5h1M115 110.5h1M129 122.5h1M122 114.5h1M114 83.5h1M132 113.5h1M126 90.5h1M102 107.5h1M106 116.5h1M102 109.5h1M122 91.5h1M106 95.5h1M128 97.5h1M95 109.5h1M123 110.5h1M130 107.5h1M72 136.5h1M58 105.5h1M62 154.5h1M61 110.5h1M73 143.5h1M76 134.5h1M56 123.5h1M62 132.5h1M60 148.5h1M74 93.5h1M61 98.5h1M72 113.5h1M77 134.5h1M63 113.5h1M63 104.5h1M68 146.5h1M78 133.5h1M58 101.5h1M65 122.5h1M70 168.5h1M73 95.5h1M55 180.5h1M61 127.5h1M60 151.5h1M60 178.5h1M71 143.5h1M74 188.5h1M71 135.5h1M70 120.5h1M71 126.5h1M64 134.5h1M57 134.5h1M71 89.5h1M73 146.5h1M63 138.5h1M76 89.5h1M62 113.5h1M68 107.5h1M56 128.5h1M73 125.5h1M62 111.5h1M65 119.5h1M57 154.5h1M57 170.5h1M65 125.5h1M56 100.5h1M60 172.5h1M62 116.5h1M71 90.5h1M63 144.5h1M65 104.5h1M70 122.5h1M55 131.5h1M88 140.5h1M64 117.5h1M70 98.5h1M63 110.5h1M59 137.5h1M63 133.5h1M78 121.5h1M62 169.5h1M65 117.5h1M67 128.5h1M66 96.5h1M67 113.5h1M60 133.5h1M62 82.5h1M69 137.5h1M65 93.5h1M56 173.5h1M71 147.5h1M78 109.5h1M62 126.5h1M59 136.5h1M73 97.5h1M66 110.5h1M62 103.5h1M61 122.5h1M61 121.5h1M61 99.5h1M58 108.5h1M72 143.5h1M69 138.5h1M65 172.5h1M57 150.5h1M66 140.5h1M61 100.5h1M65 98.5h1M58 109.5h1M59 172.5h1M65 116.5h1M72 100.5h1M68 98.5h1M72 127.5h1M62 122.5h1M67 127.5h1M57 102.5h1M77 140.5h1M66 139.5h1M68 93.5h1M74 116.5h1M79 119.5h1M66 141.5h1M76 103.5h1M68 127.5h1M62 118.5h1M66 115.5h1M58 132.5h1M79 140.5h1M64 124.5h1M55 145.5h1M63 87.5h1M67 144.5h1M65 90.5h1M56 115.5h1M61 88.5h1M70 164.5h1M56 138.5h1M69 150.5h1M65 112.5h1M67 141.5h1M55 94.5h1M67 96.5h1M60 122.5h1M58 128.5h1M65 145.5h1M58 159.5h1M65 109.5h1M65 136.5h1M61 169.5h1M62 170.5h1M74 164.5h1M62 117.5h1M61 112.5h1M71 131.5h1M60 125.5h1M73 128.5h1M74 159.5h1M65 115.5h1M71 105.5h1M74 109.5h1M66 143.5h1M55 123.5h1M66 138.5h1M64 127.5h1M62 146.5h1M60 127.5h1M60 112.5h1M68 136.5h1M69 135.5h1M75 133.5h1M62 110.5h1M55 108.5h1M61 83.5h1M58 139.5h1M63 148.5h1M60 124.5h1M61 136.5h1M75 123.5h1M60 134.5h1M67 133.5h1M63 178.5h1M70 161.5h1M60 145.5h1M63 94.5h1M66 103.5h1M70 99.5h1M60 90.5h1M69 147.5h1M64 141.5h1M79 149.5h1M76 129.5h1M55 134.5h1M64 89.5h1M63 186.5h1M60 89.5h1M68 96.5h1M60 159.5h1M57 96.5h1M59 146.5h1M68 147.5h1M61 160.5h1M66 136.5h1M61 148.5h1M58 178.5h1M59 152.5h1M59 122.5h1M57 92.5h1M56 135.5h1M64 147.5h1M68 156.5h1M57 115.5h1M75 149.5h1M73 122.5h1M57 101.5h1M61 117.5h1M59 121.5h1M74 95.5h1M62 145.5h1M72 140.5h1M76 165.5h1M74 140.5h1M71 163.5h1M65 92.5h1M60 110.5h1M58 135.5h1M58 168.5h1M71 149.5h1M63 128.5h1M62 95.5h1M56 122.5h1M65 168.5h1M74 147.5h1M58 88.5h1M72 116.5h1M65 139.5h1M70 124.5h1M73 116.5h1M69 145.5h1M66 121.5h1M62 161.5h1M74 145.5h1M64 140.5h1M67 139.5h1M71 120.5h1M65 124.5h1M61 103.5h1M66 98.5h1M59 89.5h1M60 114.5h1" stroke="#ec2238" stroke-width="1.0" fill="none" id="d3"/></g>
<use href="#d3" stroke-opacity="1.0"/>
<g opacity="0.5" filter="url(#hz)"><path d="M114 148.5h1M119 165.5h1M104 156.5h1M125 157.5h1M122 163.5h1M113 149.5h1M123 149.5h1M118 147.5h1M121 154.5h1M105 156.5h1M127 164.5h1M104 163.5h1M112 145.5h1M110 149.5h1M120 153.5h1M110 138.5h1M127 131.5h1M111 164.5h1M119 156.5h1M101 143.5h1M119 139.5h1M118 150.5h1M124 158.5h1M135 168.5h1M117 158.5h1M114 143.5h1M111 135.5h1M114 152.5h1M120 147.5h1M110 146.5h1M118 152.5h1M108 165.5h1M109 158.5h1M120 161.5h1M111 147.5h1M111 166.5h1M125 177.5h1M121 161.5h1M107 160.5h1M117 159.5h1M121 158.5h1M116 142.5h1M113 148.5h1M131 153.5h1M132 158.5h1M112 156.5h1M107 164.5h1M108 148.5h1M116 161.5h1M110 165.5h1M118 163.5h1M123 155.5h1M109 156.5h1M118 158.5h1M111 152.5h1M110 152.5h1M126 146.5h1M119 142.5h1M116 160.5h1M106 157.5h1M119 161.5h1M117 168.5h1M126 158.5h1M109 167.5h1M125 156.5h1M115 150.5h1M109 149.5h1M95 156.5h1M121 160.5h1M108 149.5h1M114 151.5h1M111 155.5h1M113 139.5h1M136 159.5h1M112 160.5h1M110 163.5h1M119 162.5h1M113 151.5h1M125 142.5h1M111 154.5h1M119 158.5h1M125 164.5h1M108 156.5h1M115 143.5h1M132 153.5h1M102 168.5h1M121 142.5h1M107 161.5h1M107 155.5h1M137 158.5h1M109 155.5h1M115 149.5h1M121 150.5h1M125 146.5h1M125 167.5h1M123 150.5h1M106 143.5h1M136 167.5h1M122 156.5h1M121 144.5h1M112 143.5h1M111 159.5h1M115 164.5h1M124 148.5h1M109 176.5h1M126 156.5h1M118 153.5h1M122 167.5h1M123 161.5h1M115 153.5h1M116 149.5h1M128 165.5h1M112 154.5h1M113 152.5h1M120 168.5h1M118 159.5h1M116 164.5h1M120 169.5h1M113 157.5h1M129 136.5h1M110 148.5h1M113 146.5h1M117 156.5h1M125 144.5h1M114 164.5h1M108 171.5h1M113 158.5h1M120 139.5h1M125 152.5h1M109 141.5h1M102 165.5h1M123 152.5h1M120 140.5h1M115 154.5h1M113 159.5h1M108 150.5h1M124 160.5h1M111 149.5h1M117 157.5h1M105 153.5h1M117 150.5h1M110 154.5h1M126 155.5h1M122 180.5h1M114 145.5h1M117 152.5h1M109 150.5h1M107 153.5h1M111 145.5h1M123 170.5h1M119 147.5h1M121 156.5h1M124 157.5h1M112 157.5h1M124 156.5h1M121 145.5h1M103 138.5h1M128 150.5h1M103 161.5h1M134 147.5h1M110 156.5h1M120 157.5h1M119 148.5h1M129 129.5h1M129 153.5h1M121 153.5h1M124 168.5h1M109 161.5h1M128 161.5h1M113 168.5h1M126 149.5h1M114 149.5h1M106 162.5h1M114 153.5h1M129 159.5h1M128 160.5h1M116 156.5h1M120 163.5h1M112 162.5h1M124 150.5h1M105 149.5h1M114 174.5h1M112 164.5h1M117 162.5h1M116 169.5h1M111 151.5h1M127 157.5h1M133 154.5h1M121 168.5h1M125 158.5h1M123 154.5h1M120 143.5h1M116 137.5h1M98 153.5h1M128 174.5h1M124 147.5h1M103 167.5h1M116 162.5h1M111 153.5h1M121 155.5h1M114 138.5h1M129 148.5h1M113 154.5h1M119 136.5h1M109 153.5h1M124 155.5h1M116 136.5h1M111 180.5h1M109 145.5h1M109 164.5h1M105 163.5h1M117 155.5h1M116 158.5h1M129 165.5h1M117 148.5h1M112 153.5h1M111 158.5h1M116 141.5h1M110 150.5h1M129 155.5h1M117 143.5h1M126 163.5h1M110 160.5h1M115 163.5h1M122 144.5h1M118 154.5h1M113 145.5h1M127 158.5h1M112 149.5h1M129 160.5h1M131 143.5h1M127 153.5h1M111 169.5h1M112 152.5h1M130 154.5h1M99 159.5h1M123 148.5h1M125 159.5h1M128 135.5h1M117 167.5h1M115 171.5h1M114 156.5h1M118 144.5h1M122 170.5h1M115 151.5h1M125 151.5h1M115 158.5h1M113 143.5h1M114 159.5h1M121 162.5h1M112 173.5h1M115 165.5h1M101 156.5h1M109 151.5h1M125 161.5h1M116 144.5h1M113 136.5h1M123 175.5h1M110 162.5h1M116 167.5h1M115 160.5h1M101 146.5h1M119 154.5h1M126 148.5h1M112 147.5h1M113 171.5h1M115 148.5h1M107 144.5h1M122 149.5h1M114 167.5h1M114 161.5h1M106 127.5h1M106 149.5h1M124 161.5h1M121 166.5h1M125 148.5h1M111 163.5h1M136 155.5h1M117 136.5h1M103 157.5h1M126 151.5h1M107 159.5h1M112 138.5h1M134 152.5h1M121 165.5h1M109 146.5h1M124 175.5h1M123 132.5h1M118 151.5h1M128 158.5h1M110 168.5h1M123 147.5h1M128 152.5h1M101 155.5h1M122 155.5h1M128 154.5h1M121 147.5h1M105 151.5h1M118 140.5h1M118 130.5h1M117 145.5h1M107 172.5h1M116 155.5h1M111 146.5h1M118 161.5h1M113 155.5h1M105 150.5h1M116 168.5h1M123 162.5h1M127 155.5h1M112 167.5h1M120 155.5h1M104 152.5h1M117 161.5h1M109 171.5h1M116 139.5h1M102 150.5h1M118 157.5h1M120 159.5h1M127 167.5h1M119 151.5h1M123 157.5h1M116 145.5h1M112 150.5h1M123 159.5h1M126 157.5h1M104 150.5h1M129 150.5h1M122 165.5h1M120 167.5h1M123 142.5h1M119 153.5h1M105 160.5h1M112 151.5h1M126 173.5h1M114 157.5h1M106 150.5h1M108 140.5h1M120 148.5h1M119 146.5h1M121 148.5h1M130 169.5h1M115 144.5h1M121 167.5h1M110 155.5h1M131 170.5h1M109 152.5h1M104 162.5h1M106 169.5h1M127 184.5h1M113 144.5h1M108 158.5h1M117 163.5h1M113 153.5h1M111 165.5h1M103 150.5h1M120 135.5h1M107 152.5h1M118 162.5h1M119 157.5h1M113 165.5h1M122 154.5h1M110 142.5h1M112 141.5h1M124 154.5h1M108 164.5h1M117 151.5h1M109 170.5h1M103 133.5h1M122 150.5h1M118 156.5h1M110 151.5h1M127 147.5h1M119 145.5h1M121 164.5h1M115 157.5h1M111 134.5h1M120 162.5h1M109 157.5h1M114 176.5h1M116 152.5h1M126 165.5h1M103 159.5h1M120 149.5h1M113 160.5h1M121 159.5h1M123 164.5h1M114 150.5h1M118 149.5h1M117 147.5h1M112 165.5h1M105 165.5h1M97 141.5h1M114 155.5h1M117 173.5h1M122 152.5h1M112 169.5h1M114 173.5h1M134 155.5h1M115 161.5h1M112 142.5h1M117 166.5h1M120 152.5h1M105 166.5h1M126 160.5h1M119 152.5h1M99 163.5h1M103 154.5h1M130 152.5h1M117 169.5h1M133 160.5h1M134 163.5h1M94 146.5h1M115 152.5h1M132 166.5h1M100 140.5h1M107 157.5h1M108 159.5h1M129 141.5h1M131 148.5h1M98 163.5h1M120 144.5h1M130 149.5h1M114 154.5h1M128 157.5h1M107 147.5h1M132 165.5h1M101 151.5h1M112 158.5h1M106 141.5h1M129 156.5h1M127 146.5h1M120 151.5h1M120 154.5h1M116 151.5h1M118 168.5h1M108 155.5h1M130 146.5h1M124 164.5h1M120 146.5h1M117 142.5h1M124 151.5h1M106 144.5h1M106 164.5h1M103 153.5h1M133 153.5h1M107 151.5h1M108 151.5h1M124 159.5h1M114 158.5h1M132 162.5h1M127 171.5h1M130 159.5h1M115 159.5h1M112 170.5h1M130 142.5h1M107 166.5h1M136 168.5h1M115 146.5h1M115 168.5h1M111 172.5h1M99 158.5h1M117 178.5h1M126 164.5h1M125 153.5h1M105 161.5h1M116 163.5h1M114 146.5h1M109 162.5h1M119 160.5h1M112 155.5h1M125 160.5h1M126 162.5h1M110 147.5h1M128 163.5h1M123 171.5h1M123 173.5h1M112 163.5h1M114 163.5h1M119 163.5h1M108 157.5h1M109 159.5h1M124 166.5h1M118 165.5h1M112 176.5h1M122 145.5h1M103 158.5h1M108 144.5h1M110 143.5h1M134 168.5h1M121 163.5h1M137 153.5h1M113 169.5h1M114 144.5h1M122 158.5h1M110 157.5h1M106 154.5h1M124 165.5h1M129 158.5h1M108 145.5h1M119 166.5h1M130 144.5h1M136 142.5h1M129 143.5h1M117 154.5h1M118 146.5h1M114 142.5h1M132 154.5h1M123 166.5h1M122 146.5h1M123 158.5h1M134 157.5h1M110 170.5h1M115 145.5h1M106 181.5h1M122 164.5h1M130 151.5h1M113 162.5h1M111 156.5h1M120 150.5h1M130 162.5h1M114 166.5h1M110 153.5h1M120 171.5h1M117 172.5h1M114 147.5h1M117 165.5h1M124 149.5h1M109 168.5h1M106 165.5h1M127 142.5h1M111 144.5h1M128 153.5h1M101 152.5h1M112 159.5h1M104 161.5h1M123 156.5h1M112 134.5h1M105 146.5h1M132 164.5h1M136 154.5h1M94 143.5h1M111 168.5h1M118 166.5h1M114 168.5h1M116 153.5h1M120 156.5h1M115 147.5h1M115 167.5h1M104 160.5h1M106 158.5h1M106 159.5h1M119 155.5h1M115 155.5h1M105 148.5h1M90 160.5h1M108 139.5h1M111 140.5h1M96 164.5h1M124 140.5h1M100 171.5h1M99 155.5h1M110 158.5h1M125 162.5h1M127 150.5h1M109 163.5h1M128 155.5h1M113 150.5h1M121 157.5h1M121 140.5h1M107 156.5h1M126 175.5h1M116 148.5h1M129 146.5h1M110 134.5h1M124 152.5h1M111 141.5h1M110 159.5h1M110 140.5h1M129 152.5h1M122 147.5h1M126 141.5h1M122 137.5h1M122 153.5h1M123 163.5h1M124 131.5h1M112 168.5h1M105 147.5h1M119 149.5h1M127 159.5h1M118 167.5h1M105 159.5h1M102 134.5h1M127 151.5h1M125 165.5h1M113 156.5h1M121 151.5h1M123 153.5h1M116 150.5h1M116 143.5h1M129 161.5h1M117 153.5h1M101 150.5h1M108 154.5h1M100 157.5h1M117 133.5h1M122 161.5h1M122 157.5h1M133 155.5h1M124 135.5h1M108 160.5h1M118 143.5h1M132 148.5h1M114 169.5h1M121 130.5h1M125 147.5h1M123 141.5h1M105 158.5h1M102 164.5h1M114 136.5h1M121 149.5h1M132 145.5h1M116 174.5h1M117 164.5h1M130 150.5h1M130 156.5h1M119 167.5h1M111 161.5h1M119 169.5h1M120 141.5h1M108 153.5h1M111 157.5h1M118 155.5h1M102 163.5h1M105 129.5h1M132 170.5h1M122 148.5h1M119 164.5h1M112 179.5h1M118 142.5h1M104 144.5h1M121 152.5h1M92 160.5h1M118 172.5h1M121 138.5h1M110 136.5h1M125 168.5h1M110 167.5h1M111 150.5h1M116 146.5h1M106 153.5h1M119 172.5h1M115 162.5h1" stroke="#a0b0ae" stroke-width="1.0" fill="none" id="d4"/></g>
<use href="#d4" stroke-opacity="1.0"/>
</g>
<path d="M140 28.5h1.6M131 27.5h1.6M108 30.5h1.6M120 31.5h1.6M131 31.5h1.6M99 34.5h1.6M114 35.5h1.6M119 35.5h1.6M126 36.5h1.6M132 35.5h1.6M106 37.5h1.6M133 37.5h1.6M87 40.5h1.6M113 44.5h1.6M109 45.5h1.6M106 46.5h1.6M126 46.5h1.6M131 45.5h1.6M114 47.5h1.6M74 49.5h1.6M123 49.5h1.6M100 51.5h1.6M98 52.5h1.6M114 51.5h1.6M128 51.5h1.6M148 51.5h1.6M74 54.5h1.6M115 54.5h1.6M118 54.5h1.6M131 55.5h1.6M87 55.5h1.6M89 56.5h1.6M105 59.5h1.6M111 59.5h1.6M85 66.5h1.6" stroke="#1a1a1a" stroke-width="1.6" stroke-opacity="1.0" fill="none"/>
<rect x="54.2" y="20.8" width="178.8" height="178.7" fill="none" stroke="#1a1a1a" stroke-width="1.4"/>
<path d="M54.2,199.5v4.5M54.2,199.5h-4.5M67.7,199.5v2.2M54.2,186.1h-2.2M75.5,199.5v2.2M54.2,178.2h-2.2M81.1,199.5v2.2M54.2,172.6h-2.2M85.4,199.5v2.2M54.2,168.3h-2.2M89.0,199.5v2.2M54.2,164.7h-2.2M92.0,199.5v2.2M54.2,161.7h-2.2M94.6,199.5v2.2M54.2,159.2h-2.2M96.9,199.5v2.2M54.2,156.9h-2.2M98.9,199.5v4.5M54.2,154.8h-4.5M112.4,199.5v2.2M54.2,141.4h-2.2M120.2,199.5v2.2M54.2,133.5h-2.2M125.8,199.5v2.2M54.2,127.9h-2.2M130.1,199.5v2.2M54.2,123.6h-2.2M133.7,199.5v2.2M54.2,120.1h-2.2M136.7,199.5v2.2M54.2,117.1h-2.2M139.3,199.5v2.2M54.2,114.5h-2.2M141.6,199.5v2.2M54.2,112.2h-2.2M143.6,199.5v4.5M54.2,110.2h-4.5M157.1,199.5v2.2M54.2,96.7h-2.2M164.9,199.5v2.2M54.2,88.8h-2.2M170.5,199.5v2.2M54.2,83.3h-2.2M174.8,199.5v2.2M54.2,78.9h-2.2M178.4,199.5v2.2M54.2,75.4h-2.2M181.4,199.5v2.2M54.2,72.4h-2.2M184.0,199.5v2.2M54.2,69.8h-2.2M186.3,199.5v2.2M54.2,67.5h-2.2M188.3,199.5v4.5M54.2,65.5h-4.5M201.8,199.5v2.2M54.2,52.0h-2.2M209.6,199.5v2.2M54.2,44.2h-2.2M215.2,199.5v2.2M54.2,38.6h-2.2M219.5,199.5v2.2M54.2,34.2h-2.2M223.1,199.5v2.2M54.2,30.7h-2.2M226.1,199.5v2.2M54.2,27.7h-2.2M228.7,199.5v2.2M54.2,25.1h-2.2M231.0,199.5v2.2M54.2,22.8h-2.2M233,199.5v4.5M54.2,20.8h-4.5" stroke="#1a1a1a" stroke-width="1" fill="none"/>
<text x="50.7" y="211.5" font-family='"Liberation Sans", sans-serif' font-weight="bold" font-size="6.3" fill="#222" stroke="#222" stroke-width="0.35">10<tspan dy="-2.5" font-size="4.6">0</tspan></text>
<text transform="translate(48.2,203.0) rotate(-90)" font-family='"Liberation Sans", sans-serif' font-weight="bold" font-size="6.3" fill="#222" stroke="#222" stroke-width="0.35">10<tspan dy="-2.5" font-size="4.6">0</tspan></text>
<text x="95.4" y="211.5" font-family='"Liberation Sans", sans-serif' font-weight="bold" font-size="6.3" fill="#222" stroke="#222" stroke-width="0.35">10<tspan dy="-2.5" font-size="4.6">1</tspan></text>
<text transform="translate(48.2,158.3) rotate(-90)" font-family='"Liberation Sans", sans-serif' font-weight="bold" font-size="6.3" fill="#222" stroke="#222" stroke-width="0.35">10<tspan dy="-2.5" font-size="4.6">1</tspan></text>
<text x="140.1" y="211.5" font-family='"Liberation Sans", sans-serif' font-weight="bold" font-size="6.3" fill="#222" stroke="#222" stroke-width="0.35">10<tspan dy="-2.5" font-size="4.6">2</tspan></text>
<text transform="translate(48.2,113.7) rotate(-90)" font-family='"Liberation Sans", sans-serif' font-weight="bold" font-size="6.3" fill="#222" stroke="#222" stroke-width="0.35">10<tspan dy="-2.5" font-size="4.6">2</tspan></text>
<text x="184.8" y="211.5" font-family='"Liberation Sans", sans-serif' font-weight="bold" font-size="6.3" fill="#222" stroke="#222" stroke-width="0.35">10<tspan dy="-2.5" font-size="4.6">3</tspan></text>
<text transform="translate(48.2,69.0) rotate(-90)" font-family='"Liberation Sans", sans-serif' font-weight="bold" font-size="6.3" fill="#222" stroke="#222" stroke-width="0.35">10<tspan dy="-2.5" font-size="4.6">3</tspan></text>
<text x="229.5" y="211.5" font-family='"Liberation Sans", sans-serif' font-weight="bold" font-size="6.3" fill="#222" stroke="#222" stroke-width="0.35">10<tspan dy="-2.5" font-size="4.6">4</tspan></text>
<text transform="translate(48.2,24.3) rotate(-90)" font-family='"Liberation Sans", sans-serif' font-weight="bold" font-size="6.3" fill="#222" stroke="#222" stroke-width="0.35">10<tspan dy="-2.5" font-size="4.6">4</tspan></text>
<clipPath id="cpB"><rect x="322.3" y="19.5" width="178.2" height="179.5"/></clipPath>
<g clip-path="url(#cpB)"><ellipse cx="346" cy="177" rx="31" ry="30" fill="#9eafac" filter="url(#bl)"/></g>
<g>
<g opacity="0.5" filter="url(#hz)"><path d="M329 168.5h1M343 177.5h1M328 181.5h1M362 170.5h1M385 165.5h1M341 179.5h1M339 173.5h1M336 160.5h1M399 188.5h1M385 182.5h1M358 196.5h1M367 149.5h1M326 133.5h1M371 148.5h1M342 193.5h1M361 185.5h1M351 158.5h1M345 194.5h1M373 177.5h1M349 151.5h1M353 165.5h1M369 137.5h1M359 164.5h1M355 191.5h1M342 161.5h1M371 176.5h1M334 172.5h1M332 158.5h1M341 178.5h1M353 137.5h1M397 132.5h1M339 147.5h1M357 186.5h1M353 151.5h1M323 166.5h1M361 152.5h1M343 197.5h1M360 196.5h1M324 118.5h1M325 176.5h1M347 184.5h1M328 187.5h1M331 137.5h1M366 147.5h1M332 143.5h1M360 165.5h1M342 188.5h1M330 186.5h1M335 148.5h1M354 174.5h1M328 177.5h1M382 178.5h1M346 193.5h1M323 187.5h1M340 168.5h1M362 152.5h1M366 162.5h1M387 189.5h1M340 173.5h1M346 165.5h1M343 163.5h1M326 179.5h1M343 169.5h1M370 173.5h1M365 156.5h1M342 186.5h1M356 140.5h1M379 168.5h1M330 172.5h1M332 190.5h1M378 162.5h1M358 181.5h1M375 178.5h1M363 151.5h1M345 177.5h1M337 128.5h1M326 193.5h1M373 182.5h1M346 139.5h1M324 196.5h1M353 163.5h1M332 189.5h1M356 191.5h1M352 146.5h1M328 171.5h1M383 190.5h1M348 171.5h1M355 187.5h1M349 178.5h1M334 169.5h1M338 195.5h1M355 150.5h1M348 188.5h1M353 144.5h1M351 160.5h1M339 180.5h1M331 192.5h1M334 176.5h1M336 177.5h1M355 186.5h1M363 178.5h1M346 176.5h1M384 177.5h1M387 158.5h1M358 172.5h1M329 191.5h1M381 173.5h1M344 182.5h1M334 196.5h1M361 165.5h1M384 175.5h1M331 168.5h1M350 180.5h1M338 167.5h1M368 159.5h1M388 149.5h1M370 137.5h1M325 196.5h1M334 165.5h1M353 181.5h1M371 186.5h1M373 166.5h1M344 173.5h1M367 194.5h1M346 133.5h1M339 196.5h1M354 185.5h1M371 174.5h1M328 188.5h1M350 172.5h1M341 141.5h1M346 194.5h1M368 157.5h1M358 141.5h1M356 146.5h1M349 174.5h1M347 161.5h1M325 168.5h1M345 193.5h1M346 174.5h1M380 184.5h1M354 172.5h1M356 143.5h1M374 169.5h1M355 188.5h1M355 160.5h1M342 168.5h1M363 173.5h1M365 178.5h1M342 169.5h1M358 169.5h1M333 179.5h1M370 174.5h1M344 144.5h1M356 174.5h1M352 168.5h1M363 182.5h1M350 161.5h1M358 122.5h1M327 150.5h1M371 152.5h1M338 184.5h1M347 196.5h1M331 193.5h1M347 142.5h1M379 177.5h1M328 185.5h1M361 179.5h1M349 185.5h1M348 147.5h1M383 142.5h1M349 177.5h1M371 184.5h1M343 161.5h1M350 159.5h1M372 135.5h1M383 143.5h1M349 157.5h1M361 195.5h1M392 144.5h1M364 190.5h1M350 151.5h1M352 145.5h1M335 185.5h1M369 175.5h1M348 169.5h1M323 197.5h1M355 178.5h1M334 151.5h1M327 162.5h1M364 157.5h1M325 162.5h1M337 151.5h1M344 179.5h1M349 190.5h1M387 168.5h1M331 166.5h1M356 194.5h1M355 155.5h1M382 150.5h1M339 193.5h1M369 177.5h1M378 163.5h1M346 152.5h1M348 137.5h1M365 179.5h1M356 135.5h1M377 174.5h1M360 191.5h1M384 174.5h1M331 160.5h1M346 158.5h1M376 192.5h1M351 148.5h1M371 179.5h1M356 188.5h1M342 178.5h1M344 161.5h1M352 184.5h1M346 157.5h1M366 195.5h1M390 139.5h1M392 164.5h1M342 182.5h1M329 175.5h1M345 162.5h1M358 171.5h1M351 154.5h1M398 174.5h1M328 183.5h1M341 163.5h1M365 164.5h1M338 178.5h1M334 171.5h1M370 164.5h1M334 194.5h1M324 158.5h1M356 166.5h1M367 187.5h1M359 151.5h1M340 176.5h1M333 167.5h1M345 190.5h1M335 170.5h1M357 176.5h1M346 153.5h1M358 160.5h1M349 175.5h1M336 187.5h1M348 129.5h1M335 162.5h1M353 189.5h1M369 178.5h1M366 164.5h1M337 170.5h1M342 143.5h1M342 176.5h1M358 192.5h1M353 191.5h1M330 197.5h1M353 170.5h1M375 180.5h1M374 141.5h1M392 160.5h1M370 167.5h1M381 157.5h1M366 163.5h1M385 187.5h1M357 191.5h1M334 144.5h1M367 161.5h1M333 169.5h1M345 182.5h1M344 176.5h1M351 186.5h1M332 145.5h1M382 158.5h1M378 181.5h1M327 179.5h1M374 193.5h1M367 164.5h1M323 169.5h1M361 178.5h1M373 167.5h1M339 179.5h1M365 146.5h1M362 185.5h1M361 151.5h1M328 186.5h1M361 182.5h1M348 155.5h1M349 167.5h1M391 175.5h1M348 184.5h1M337 196.5h1M356 172.5h1M325 177.5h1M369 191.5h1M330 185.5h1M358 129.5h1M358 173.5h1M327 129.5h1M365 166.5h1M371 183.5h1M365 182.5h1M352 142.5h1M360 186.5h1M351 178.5h1M378 160.5h1M363 192.5h1M327 157.5h1M363 168.5h1M339 175.5h1M345 159.5h1M338 136.5h1M346 154.5h1M367 188.5h1M349 154.5h1M336 158.5h1M332 174.5h1M332 177.5h1M357 152.5h1M326 195.5h1M358 197.5h1M362 154.5h1M331 169.5h1M362 157.5h1M343 125.5h1M373 141.5h1M357 132.5h1M330 187.5h1M326 189.5h1M364 186.5h1M373 125.5h1M348 157.5h1M336 165.5h1M362 169.5h1M385 189.5h1M346 168.5h1M338 157.5h1M348 189.5h1M356 160.5h1M337 193.5h1M358 191.5h1M353 164.5h1M332 175.5h1M341 176.5h1M375 174.5h1M344 150.5h1M340 150.5h1M330 167.5h1M369 143.5h1M350 149.5h1M329 185.5h1M324 197.5h1M357 170.5h1M357 160.5h1M361 144.5h1M341 175.5h1M344 135.5h1M359 171.5h1M325 175.5h1M371 157.5h1M348 187.5h1M349 173.5h1M357 175.5h1M328 163.5h1M331 171.5h1M335 172.5h1M346 177.5h1M340 155.5h1M333 165.5h1M375 168.5h1M358 167.5h1M369 194.5h1M374 189.5h1M350 174.5h1M341 166.5h1M360 195.5h1M340 192.5h1M354 161.5h1M344 186.5h1M353 166.5h1M331 164.5h1M362 183.5h1M355 158.5h1M381 190.5h1M333 160.5h1M369 183.5h1M389 156.5h1M386 161.5h1M386 173.5h1M351 173.5h1M374 119.5h1M350 171.5h1M357 146.5h1M340 175.5h1M342 155.5h1M388 181.5h1M342 173.5h1M345 176.5h1M374 160.5h1M346 180.5h1M370 175.5h1M385 164.5h1M389 145.5h1M373 172.5h1M374 159.5h1M324 181.5h1M340 171.5h1M333 194.5h1M369 154.5h1M376 187.5h1M348 181.5h1M379 184.5h1M359 197.5h1M385 186.5h1M374 145.5h1M362 172.5h1M389 182.5h1M351 179.5h1M347 183.5h1M349 193.5h1M379 171.5h1M374 179.5h1M325 186.5h1M349 179.5h1M374 177.5h1M334 179.5h1M341 180.5h1M352 177.5h1M367 159.5h1M350 140.5h1M345 163.5h1M334 188.5h1M365 174.5h1M331 183.5h1M350 156.5h1M349 155.5h1M365 185.5h1M345 154.5h1M328 174.5h1M364 177.5h1M390 171.5h1M333 186.5h1M331 161.5h1M332 182.5h1M333 178.5h1M376 185.5h1M364 175.5h1M329 137.5h1M327 163.5h1M335 145.5h1M356 184.5h1M359 172.5h1M375 157.5h1M393 165.5h1M375 171.5h1M344 180.5h1M346 146.5h1M390 173.5h1M328 176.5h1M364 163.5h1M373 175.5h1M360 153.5h1M339 169.5h1M386 183.5h1M360 181.5h1M358 179.5h1M349 181.5h1M355 180.5h1M353 171.5h1M326 174.5h1M346 164.5h1M353 175.5h1M329 183.5h1M360 171.5h1M341 185.5h1M359 176.5h1M350 191.5h1M346 182.5h1M348 195.5h1M347 164.5h1M383 170.5h1M355 167.5h1M327 173.5h1M345 166.5h1M350 193.5h1M366 172.5h1M373 169.5h1M361 188.5h1M338 161.5h1M375 124.5h1M336 192.5h1M354 178.5h1M367 189.5h1M365 170.5h1M354 151.5h1M331 181.5h1M382 153.5h1M360 155.5h1M382 151.5h1M349 188.5h1M361 171.5h1M395 173.5h1M354 166.5h1M359 177.5h1M360 158.5h1M344 143.5h1M344 177.5h1M326 184.5h1M377 164.5h1M379 182.5h1M332 157.5h1M358 142.5h1M348 170.5h1M344 183.5h1M360 172.5h1M355 166.5h1M349 168.5h1M328 155.5h1M351 175.5h1M364 161.5h1M375 172.5h1M365 157.5h1M342 191.5h1M351 188.5h1M356 150.5h1M364 187.5h1M337 164.5h1M338 156.5h1M376 173.5h1M334 191.5h1M327 176.5h1M372 187.5h1M325 179.5h1M350 194.5h1M347 191.5h1M337 188.5h1M347 190.5h1M329 192.5h1M363 156.5h1M331 134.5h1M362 143.5h1M353 152.5h1M347 175.5h1M332 146.5h1M334 167.5h1M356 149.5h1M336 140.5h1M374 152.5h1M328 138.5h1M323 183.5h1M388 153.5h1M353 196.5h1M331 179.5h1M351 149.5h1M354 176.5h1M371 146.5h1M330 176.5h1M325 192.5h1M371 190.5h1M350 189.5h1M324 183.5h1M375 165.5h1M343 166.5h1M369 135.5h1M377 170.5h1M336 171.5h1M369 184.5h1M324 171.5h1M354 159.5h1M329 193.5h1M362 195.5h1M350 190.5h1M357 147.5h1M324 188.5h1M377 185.5h1M346 145.5h1M359 167.5h1M353 154.5h1M331 163.5h1M343 183.5h1M372 192.5h1M346 185.5h1M373 181.5h1M361 184.5h1M362 161.5h1M362 146.5h1M359 191.5h1M381 158.5h1M349 170.5h1M372 163.5h1M338 146.5h1M355 148.5h1M372 186.5h1M347 169.5h1M366 174.5h1M324 174.5h1M363 174.5h1M355 183.5h1M344 168.5h1M364 188.5h1M339 166.5h1M352 170.5h1M365 162.5h1M374 164.5h1M327 135.5h1M359 166.5h1M327 175.5h1M381 179.5h1M335 186.5h1M352 185.5h1M327 183.5h1M369 161.5h1M355 164.5h1M341 170.5h1M331 173.5h1M351 193.5h1M386 180.5h1M325 174.5h1M383 191.5h1M348 185.5h1M347 168.5h1M371 158.5h1M357 172.5h1M380 146.5h1M353 161.5h1M354 171.5h1M357 151.5h1M327 188.5h1M352 193.5h1M367 193.5h1M345 184.5h1M350 198.5h1M347 145.5h1M356 165.5h1M350 170.5h1M366 166.5h1M344 155.5h1M365 137.5h1M337 180.5h1M349 163.5h1M369 186.5h1M343 191.5h1M372 180.5h1M386 165.5h1M336 184.5h1M351 169.5h1M353 182.5h1M341 152.5h1M357 181.5h1M378 175.5h1M336 195.5h1M388 171.5h1M395 118.5h1M344 163.5h1M350 168.5h1M347 194.5h1M342 170.5h1M333 148.5h1M340 158.5h1M347 192.5h1M388 185.5h1M362 191.5h1M338 149.5h1M332 186.5h1M357 173.5h1M325 167.5h1M335 132.5h1M371 160.5h1M341 182.5h1M334 158.5h1M352 179.5h1M384 172.5h1M336 169.5h1M334 187.5h1M361 163.5h1M332 151.5h1M364 167.5h1M361 160.5h1M338 174.5h1M336 176.5h1M392 167.5h1M360 179.5h1M377 168.5h1M351 145.5h1M365 165.5h1M341 155.5h1M331 180.5h1M336 117.5h1M370 176.5h1M348 164.5h1M366 169.5h1M365 129.5h1M343 171.5h1M346 178.5h1M338 168.5h1M362 148.5h1M323 142.5h1M354 150.5h1M363 176.5h1M377 184.5h1M338 190.5h1M385 176.5h1M375 134.5h1M351 180.5h1M344 151.5h1M359 149.5h1M374 170.5h1M358 190.5h1M341 151.5h1M339 153.5h1M329 140.5h1M345 197.5h1M381 161.5h1M347 171.5h1M392 197.5h1M356 185.5h1M363 157.5h1M380 176.5h1M383 150.5h1M380 183.5h1M338 155.5h1M351 151.5h1M350 188.5h1M351 170.5h1M352 167.5h1M368 191.5h1M324 189.5h1M357 144.5h1M392 155.5h1M341 177.5h1M350 155.5h1M393 159.5h1M352 191.5h1M347 181.5h1M327 147.5h1M359 185.5h1M335 180.5h1M336 188.5h1M350 167.5h1M364 160.5h1M394 153.5h1M330 190.5h1M349 159.5h1M367 179.5h1M351 196.5h1M331 188.5h1M325 194.5h1M342 149.5h1M326 173.5h1M353 150.5h1M384 191.5h1M326 151.5h1M356 177.5h1M327 194.5h1M355 149.5h1M328 194.5h1M326 159.5h1M343 192.5h1M351 182.5h1M383 183.5h1M358 182.5h1M348 146.5h1M383 171.5h1M360 180.5h1M328 152.5h1M337 153.5h1M333 183.5h1M343 159.5h1M330 170.5h1M372 148.5h1M324 178.5h1M328 167.5h1M372 188.5h1M339 154.5h1M371 156.5h1M342 181.5h1M336 159.5h1M362 177.5h1M371 181.5h1M373 184.5h1M374 155.5h1M361 170.5h1M335 128.5h1M342 167.5h1M355 138.5h1M356 164.5h1M325 160.5h1M346 149.5h1M375 192.5h1M338 173.5h1M377 154.5h1M362 178.5h1M361 183.5h1M331 187.5h1M332 180.5h1M337 168.5h1M351 171.5h1M350 192.5h1M371 168.5h1M368 193.5h1M374 174.5h1M359 157.5h1M337 148.5h1M386 160.5h1M380 145.5h1M351 181.5h1M347 180.5h1M341 169.5h1M329 171.5h1M331 157.5h1M362 168.5h1M353 162.5h1M334 141.5h1M343 167.5h1M344 198.5h1M366 148.5h1M326 170.5h1M359 152.5h1M358 176.5h1M357 193.5h1M345 191.5h1M327 149.5h1M332 195.5h1M368 166.5h1M346 192.5h1M354 194.5h1M397 160.5h1M339 189.5h1M324 190.5h1M342 152.5h1M340 184.5h1M342 177.5h1M329 176.5h1M364 145.5h1M337 190.5h1M365 169.5h1M350 150.5h1M395 190.5h1M329 159.5h1M341 184.5h1M340 130.5h1M374 190.5h1M343 154.5h1M355 175.5h1M358 174.5h1M344 156.5h1M361 162.5h1M384 153.5h1M327 180.5h1M336 175.5h1M354 189.5h1M363 193.5h1M344 141.5h1M379 152.5h1M329 195.5h1M343 185.5h1M388 172.5h1M328 154.5h1M372 146.5h1M342 172.5h1M328 147.5h1M376 197.5h1M348 163.5h1M339 163.5h1M346 148.5h1M340 167.5h1M360 174.5h1M360 176.5h1M337 156.5h1M334 139.5h1M325 128.5h1M385 194.5h1M329 186.5h1M351 189.5h1M349 187.5h1M357 178.5h1M367 182.5h1M348 140.5h1M323 182.5h1M370 180.5h1M362 174.5h1M359 161.5h1M353 173.5h1M367 181.5h1M330 179.5h1M331 167.5h1M350 143.5h1M388 165.5h1M360 146.5h1M329 162.5h1M331 146.5h1M359 186.5h1M327 171.5h1M359 174.5h1M348 168.5h1M326 121.5h1M364 156.5h1M376 179.5h1M350 186.5h1M342 192.5h1M363 160.5h1M350 173.5h1M360 183.5h1M361 158.5h1M382 192.5h1M328 172.5h1M333 171.5h1M327 185.5h1M345 192.5h1M353 156.5h1M355 153.5h1M348 183.5h1M337 165.5h1M390 150.5h1M343 195.5h1M364 178.5h1M348 153.5h1M344 190.5h1M336 193.5h1M381 168.5h1M345 156.5h1M350 166.5h1M366 190.5h1M359 156.5h1M369 162.5h1M332 164.5h1M378 148.5h1M363 162.5h1M326 166.5h1M357 149.5h1M371 163.5h1M334 155.5h1M338 179.5h1M327 196.5h1M362 158.5h1M347 157.5h1M376 172.5h1M346 144.5h1M337 173.5h1M355 171.5h1M354 197.5h1M371 166.5h1M332 173.5h1M368 184.5h1M356 158.5h1M354 192.5h1M340 178.5h1M358 186.5h1M334 145.5h1M340 144.5h1M374 192.5h1M330 191.5h1M364 164.5h1M338 135.5h1M386 151.5h1M348 152.5h1M342 160.5h1M359 188.5h1M371 196.5h1M328 165.5h1M347 189.5h1M347 170.5h1M366 156.5h1M343 173.5h1M357 131.5h1M345 169.5h1M373 154.5h1M341 189.5h1M363 148.5h1M360 168.5h1M358 132.5h1M366 181.5h1M363 169.5h1M337 147.5h1M339 177.5h1M367 154.5h1M325 161.5h1M333 156.5h1M372 179.5h1M373 179.5h1M394 192.5h1M351 138.5h1M353 187.5h1M362 194.5h1M365 133.5h1M366 192.5h1M381 166.5h1M380 173.5h1M351 161.5h1M324 182.5h1M375 167.5h1M328 162.5h1M363 163.5h1M387 167.5h1M371 171.5h1M367 165.5h1M328 170.5h1M346 147.5h1M354 149.5h1M322 166.5h1M385 198.5h1M364 185.5h1M358 150.5h1M355 165.5h1M374 175.5h1M334 173.5h1M363 170.5h1M347 185.5h1M369 167.5h1M348 196.5h1M369 168.5h1M354 179.5h1M341 191.5h1M360 154.5h1M356 173.5h1M334 197.5h1M371 169.5h1M352 156.5h1M376 132.5h1M334 164.5h1M370 157.5h1M357 157.5h1M373 127.5h1M357 194.5h1M363 185.5h1M351 133.5h1M354 186.5h1M338 176.5h1M343 184.5h1M376 180.5h1M362 165.5h1M341 148.5h1M342 187.5h1M325 185.5h1M361 148.5h1M354 154.5h1M345 168.5h1M343 160.5h1M354 157.5h1M365 192.5h1M359 147.5h1M368 173.5h1M340 154.5h1M371 155.5h1M351 143.5h1M360 150.5h1M352 196.5h1M376 181.5h1M349 164.5h1M356 155.5h1M360 139.5h1M324 168.5h1M385 163.5h1M389 158.5h1M365 135.5h1M335 168.5h1M338 189.5h1M376 156.5h1M343 181.5h1M341 126.5h1M383 168.5h1M366 159.5h1M384 185.5h1M336 141.5h1M357 162.5h1M334 182.5h1M353 167.5h1M372 168.5h1M335 152.5h1M396 166.5h1M353 168.5h1M328 137.5h1M346 175.5h1M359 145.5h1M341 192.5h1M341 183.5h1M361 128.5h1M348 178.5h1M358 163.5h1M351 166.5h1M347 158.5h1M359 140.5h1M339 155.5h1M355 169.5h1M346 184.5h1M347 162.5h1M367 184.5h1M332 156.5h1M391 137.5h1M358 168.5h1M365 197.5h1M324 143.5h1M370 163.5h1M336 168.5h1M336 161.5h1M369 166.5h1M329 112.5h1M357 185.5h1M323 177.5h1M349 171.5h1M370 149.5h1M329 150.5h1M334 161.5h1M351 194.5h1M339 138.5h1M332 154.5h1M379 183.5h1M332 139.5h1M350 185.5h1M379 159.5h1M330 180.5h1M384 161.5h1M356 128.5h1M342 146.5h1M354 152.5h1M360 133.5h1M358 156.5h1M329 153.5h1M385 168.5h1M325 139.5h1M384 163.5h1M383 167.5h1M342 185.5h1M330 192.5h1M326 149.5h1M377 128.5h1M345 153.5h1M365 184.5h1M386 150.5h1M350 160.5h1M364 183.5h1M338 188.5h1M339 176.5h1M345 175.5h1M363 165.5h1M337 185.5h1M351 144.5h1M328 179.5h1M323 159.5h1M370 197.5h1M378 178.5h1M374 139.5h1M337 167.5h1M376 169.5h1M400 184.5h1M380 170.5h1M354 187.5h1M343 168.5h1M394 193.5h1M340 170.5h1M366 180.5h1M362 192.5h1M335 169.5h1M342 195.5h1M333 158.5h1M339 181.5h1M330 156.5h1M338 177.5h1M325 190.5h1M332 132.5h1M333 151.5h1M340 149.5h1M335 184.5h1M367 168.5h1M332 185.5h1M356 122.5h1M328 149.5h1M367 139.5h1M329 160.5h1M339 161.5h1M349 176.5h1M333 188.5h1M366 134.5h1M356 145.5h1M326 154.5h1M348 144.5h1M337 184.5h1M344 174.5h1M328 196.5h1M350 196.5h1M336 162.5h1M335 149.5h1M360 156.5h1M373 187.5h1M352 165.5h1M384 192.5h1M369 165.5h1M375 182.5h1M370 192.5h1M362 151.5h1M335 179.5h1M376 152.5h1M370 178.5h1M340 110.5h1M355 157.5h1M323 161.5h1M346 186.5h1M356 171.5h1M347 144.5h1M370 145.5h1M341 187.5h1M348 179.5h1M352 181.5h1M336 147.5h1M339 184.5h1M366 142.5h1M332 150.5h1M326 164.5h1M352 163.5h1M335 165.5h1M326 156.5h1M359 189.5h1M359 182.5h1M385 175.5h1M340 147.5h1M328 178.5h1M339 167.5h1M362 173.5h1M349 180.5h1M337 138.5h1M342 175.5h1M325 178.5h1M342 145.5h1M361 157.5h1M359 135.5h1M347 146.5h1M343 182.5h1M346 190.5h1M376 191.5h1M357 177.5h1M346 187.5h1M337 136.5h1M355 194.5h1M369 138.5h1M354 165.5h1M325 171.5h1M375 133.5h1M344 160.5h1M335 188.5h1M370 196.5h1M358 187.5h1M329 173.5h1M348 173.5h1M382 176.5h1M363 190.5h1M368 161.5h1M330 166.5h1M359 181.5h1M328 144.5h1M327 184.5h1M326 171.5h1M364 176.5h1M334 160.5h1M374 161.5h1M344 178.5h1M361 181.5h1M350 195.5h1M348 180.5h1M351 157.5h1M371 133.5h1M377 162.5h1M323 144.5h1M361 149.5h1M360 137.5h1M343 178.5h1M324 193.5h1M376 150.5h1M339 151.5h1M371 175.5h1M362 188.5h1M343 151.5h1M332 179.5h1M392 175.5h1M360 178.5h1M330 149.5h1M328 180.5h1M351 140.5h1M394 137.5h1M363 164.5h1M330 173.5h1M355 185.5h1M382 143.5h1M384 179.5h1M384 184.5h1M343 196.5h1M359 168.5h1M395 171.5h1M348 197.5h1M385 172.5h1M332 169.5h1M363 133.5h1M340 177.5h1M341 156.5h1M333 176.5h1M368 149.5h1M330 193.5h1M354 170.5h1M341 168.5h1M344 162.5h1M352 139.5h1M336 167.5h1M341 190.5h1M342 158.5h1M361 177.5h1M329 158.5h1M367 147.5h1M358 164.5h1M339 143.5h1M326 141.5h1M337 192.5h1M333 138.5h1M383 156.5h1M335 151.5h1M339 157.5h1M329 166.5h1M387 156.5h1M340 164.5h1M341 160.5h1M327 165.5h1M328 169.5h1M341 149.5h1M377 178.5h1M364 148.5h1M369 190.5h1M366 175.5h1M397 188.5h1M344 158.5h1M338 150.5h1M327 169.5h1M347 172.5h1M346 188.5h1M347 122.5h1M400 165.5h1M356 180.5h1M349 134.5h1M361 180.5h1M347 130.5h1M361 168.5h1M335 178.5h1M377 169.5h1M351 191.5h1M363 167.5h1M338 183.5h1M356 167.5h1M378 182.5h1M356 169.5h1M352 178.5h1M331 170.5h1M352 195.5h1M347 186.5h1M370 165.5h1M345 181.5h1M366 160.5h1M374 150.5h1M339 188.5h1M382 191.5h1M333 164.5h1M343 172.5h1M334 162.5h1M360 197.5h1M378 187.5h1M381 192.5h1M354 167.5h1M340 186.5h1M399 187.5h1M354 193.5h1M373 160.5h1M348 176.5h1M346 191.5h1M337 162.5h1M335 158.5h1M332 166.5h1M372 175.5h1M370 143.5h1M328 161.5h1M338 154.5h1M365 172.5h1M339 171.5h1M323 156.5h1M369 157.5h1M347 166.5h1M335 191.5h1M393 169.5h1M343 135.5h1M323 171.5h1M354 163.5h1M376 162.5h1M355 177.5h1M332 170.5h1M359 158.5h1M392 161.5h1M371 192.5h1M379 151.5h1M365 167.5h1M340 143.5h1M376 195.5h1M368 189.5h1M344 187.5h1M361 192.5h1M344 169.5h1M348 166.5h1M329 198.5h1M356 193.5h1M354 190.5h1M355 182.5h1M356 161.5h1M325 187.5h1M330 158.5h1M353 155.5h1M323 153.5h1M351 176.5h1M323 172.5h1M343 164.5h1M362 190.5h1M357 192.5h1M367 171.5h1M398 142.5h1M339 132.5h1M345 186.5h1M348 143.5h1M331 172.5h1M361 167.5h1M340 182.5h1M372 169.5h1M352 140.5h1M352 149.5h1M325 184.5h1M369 176.5h1M333 197.5h1M350 187.5h1M374 165.5h1M360 187.5h1M357 155.5h1M387 174.5h1M329 179.5h1M369 146.5h1M351 159.5h1M344 196.5h1M375 146.5h1M368 197.5h1M344 188.5h1M382 190.5h1M345 155.5h1M334 152.5h1M355 174.5h1M365 181.5h1M388 139.5h1M341 193.5h1M340 137.5h1M383 182.5h1M377 145.5h1M333 161.5h1M333 170.5h1M346 179.5h1M342 194.5h1M362 166.5h1M364 182.5h1M357 184.5h1M325 169.5h1M349 186.5h1M326 187.5h1M378 198.5h1M353 172.5h1M357 182.5h1M341 164.5h1M354 181.5h1M352 166.5h1M343 131.5h1M337 169.5h1M336 172.5h1M369 189.5h1M337 141.5h1M328 198.5h1M326 191.5h1M397 175.5h1M326 185.5h1M360 151.5h1M352 171.5h1M327 182.5h1M330 155.5h1M386 177.5h1M367 185.5h1M342 196.5h1M356 190.5h1M356 154.5h1M354 160.5h1M332 162.5h1M365 149.5h1M340 152.5h1M359 179.5h1M342 180.5h1M378 174.5h1M351 172.5h1M384 159.5h1M384 169.5h1M334 132.5h1M363 189.5h1M336 154.5h1M340 156.5h1M325 165.5h1M338 193.5h1M338 192.5h1M369 155.5h1M325 193.5h1M327 166.5h1M350 146.5h1M338 159.5h1M341 147.5h1M364 146.5h1M335 183.5h1M338 160.5h1M373 171.5h1M336 191.5h1M355 184.5h1M361 132.5h1M334 181.5h1M325 166.5h1M384 182.5h1M375 144.5h1M361 145.5h1M324 157.5h1M351 168.5h1M377 158.5h1M336 151.5h1M334 140.5h1M343 193.5h1M355 170.5h1M323 162.5h1M395 174.5h1M353 124.5h1M325 172.5h1M336 180.5h1M329 184.5h1M337 159.5h1M361 190.5h1M329 167.5h1M342 179.5h1M378 147.5h1M347 173.5h1M359 146.5h1M393 173.5h1M359 195.5h1M343 153.5h1M335 155.5h1M343 187.5h1M369 139.5h1M346 166.5h1M367 197.5h1M362 184.5h1M351 174.5h1M366 196.5h1M359 163.5h1M342 159.5h1M396 188.5h1M360 166.5h1M370 147.5h1M376 188.5h1M352 155.5h1M391 181.5h1M359 128.5h1M366 171.5h1M357 133.5h1M397 170.5h1M373 191.5h1M347 149.5h1M333 147.5h1M388 156.5h1M365 138.5h1M344 157.5h1M342 184.5h1M385 146.5h1M383 160.5h1M377 141.5h1M341 144.5h1M341 154.5h1M349 166.5h1M362 139.5h1M376 163.5h1M371 159.5h1M345 173.5h1M356 178.5h1M339 162.5h1M336 186.5h1M377 173.5h1M347 177.5h1M340 188.5h1M357 139.5h1M344 166.5h1M346 131.5h1M370 169.5h1M345 152.5h1M352 176.5h1M337 181.5h1M355 127.5h1M336 149.5h1M325 154.5h1M326 143.5h1M382 160.5h1M352 186.5h1M347 143.5h1M332 183.5h1M336 137.5h1M333 159.5h1M333 187.5h1M368 155.5h1M375 145.5h1M366 150.5h1M381 177.5h1M337 150.5h1M364 143.5h1M380 152.5h1M336 185.5h1M359 162.5h1M375 161.5h1M359 180.5h1M353 153.5h1M343 175.5h1M324 186.5h1M330 138.5h1M341 165.5h1M389 167.5h1M374 154.5h1M370 128.5h1M375 166.5h1M362 182.5h1M356 168.5h1M342 183.5h1M353 185.5h1M339 158.5h1M345 134.5h1M372 162.5h1M367 195.5h1M362 147.5h1M361 194.5h1M364 196.5h1M334 190.5h1M354 141.5h1M343 179.5h1M340 185.5h1M349 165.5h1M361 143.5h1M329 196.5h1M345 180.5h1M325 188.5h1M327 186.5h1M347 188.5h1M356 156.5h1M323 143.5h1M370 198.5h1M362 115.5h1M336 142.5h1M359 154.5h1M331 159.5h1M337 195.5h1M330 177.5h1M323 170.5h1M366 184.5h1M338 162.5h1M368 168.5h1M366 152.5h1M366 158.5h1M327 155.5h1M372 196.5h1M362 153.5h1M374 166.5h1M358 165.5h1M368 170.5h1M367 157.5h1M357 165.5h1M331 184.5h1M334 154.5h1M344 175.5h1M348 151.5h1M343 174.5h1M360 130.5h1M344 184.5h1M374 140.5h1M328 148.5h1M370 132.5h1M375 137.5h1M335 192.5h1M349 183.5h1M334 130.5h1M341 161.5h1M335 175.5h1M381 182.5h1M373 194.5h1M358 151.5h1M381 165.5h1M358 144.5h1M372 159.5h1M379 186.5h1M365 196.5h1M347 156.5h1M328 150.5h1M385 188.5h1M348 162.5h1M360 149.5h1M368 135.5h1M336 156.5h1M366 183.5h1M374 184.5h1M373 183.5h1M363 183.5h1M331 175.5h1M361 175.5h1M381 169.5h1M327 167.5h1M343 156.5h1M336 170.5h1M375 169.5h1M330 175.5h1M395 176.5h1M355 162.5h1M356 126.5h1M352 174.5h1M391 167.5h1M370 159.5h1M356 157.5h1M375 175.5h1M341 174.5h1M340 172.5h1M331 194.5h1M365 163.5h1M332 153.5h1M361 191.5h1M330 146.5h1M388 161.5h1M336 179.5h1M339 133.5h1M378 155.5h1M342 162.5h1M332 125.5h1M358 135.5h1M368 139.5h1M330 183.5h1M349 191.5h1M366 157.5h1M379 166.5h1M331 190.5h1M348 172.5h1M328 182.5h1M362 162.5h1M335 171.5h1M345 196.5h1M327 187.5h1M361 176.5h1M361 161.5h1M326 169.5h1M352 164.5h1M350 176.5h1M374 187.5h1M348 186.5h1M391 178.5h1M338 169.5h1M360 159.5h1M358 155.5h1M366 149.5h1M374 158.5h1M353 180.5h1M368 150.5h1M360 144.5h1M337 146.5h1M381 143.5h1M342 144.5h1M355 145.5h1M370 158.5h1M345 174.5h1M345 144.5h1M390 182.5h1M340 180.5h1M331 153.5h1M359 187.5h1M369 171.5h1M329 130.5h1M332 152.5h1M355 159.5h1M356 183.5h1M325 173.5h1M368 183.5h1M341 135.5h1M366 173.5h1M387 164.5h1M349 143.5h1M331 150.5h1M334 128.5h1M370 189.5h1M359 170.5h1M389 181.5h1M352 180.5h1M356 163.5h1M354 148.5h1M361 169.5h1M331 136.5h1M324 149.5h1M355 195.5h1M345 142.5h1M348 174.5h1M375 158.5h1M395 153.5h1M347 155.5h1M328 173.5h1M397 169.5h1M368 165.5h1M361 156.5h1M357 166.5h1M338 166.5h1M352 190.5h1M351 185.5h1M330 162.5h1M390 189.5h1M330 161.5h1M384 150.5h1M358 177.5h1M377 160.5h1M378 149.5h1M334 184.5h1M337 178.5h1M330 184.5h1M377 152.5h1M369 179.5h1M373 176.5h1M323 163.5h1M328 197.5h1M383 177.5h1M338 145.5h1M364 152.5h1M364 169.5h1M356 182.5h1M344 146.5h1M381 175.5h1M369 172.5h1M376 160.5h1M380 169.5h1M372 171.5h1M330 150.5h1M359 126.5h1M376 186.5h1M373 138.5h1M395 175.5h1M377 172.5h1M346 173.5h1M350 177.5h1M368 178.5h1M323 157.5h1M347 178.5h1M354 126.5h1M330 164.5h1M330 181.5h1M360 134.5h1M343 143.5h1M385 170.5h1M359 173.5h1M355 192.5h1M330 168.5h1M357 169.5h1M400 188.5h1M327 159.5h1M336 174.5h1M331 176.5h1M376 198.5h1M331 165.5h1M370 156.5h1M325 163.5h1M349 158.5h1M362 160.5h1M325 170.5h1M393 134.5h1M355 172.5h1M370 182.5h1M346 189.5h1M361 197.5h1M325 138.5h1M381 180.5h1M360 160.5h1M327 177.5h1M383 175.5h1M345 170.5h1M347 195.5h1M341 188.5h1M348 159.5h1M339 160.5h1M350 179.5h1M333 173.5h1M341 172.5h1M380 162.5h1M340 196.5h1M363 171.5h1M361 189.5h1M400 169.5h1M333 155.5h1M335 164.5h1M327 139.5h1M340 141.5h1M384 183.5h1M365 160.5h1M345 140.5h1M358 166.5h1M376 153.5h1M387 180.5h1M381 183.5h1M340 195.5h1M338 170.5h1M373 173.5h1M369 133.5h1M378 159.5h1M368 176.5h1M359 178.5h1M378 171.5h1M363 177.5h1M369 181.5h1M377 165.5h1M376 190.5h1M379 155.5h1M331 162.5h1M337 152.5h1M348 158.5h1M361 134.5h1M329 161.5h1M363 119.5h1M350 162.5h1M353 148.5h1M322 161.5h1M373 188.5h1M350 169.5h1" stroke="#a0b1ae" stroke-width="1.0" fill="none" id="d6"/></g>
<use href="#d6" stroke-opacity="1.0"/>
<g opacity="0.5" filter="url(#hz)"><path d="M393 181.5h1M377 126.5h1M338 155.5h1M358 172.5h1M347 162.5h1M375 153.5h1M357 121.5h1M374 102.5h1M381 165.5h1M371 108.5h1M356 137.5h1M383 123.5h1M380 92.5h1M327 97.5h1M387 163.5h1M391 126.5h1M329 158.5h1M381 181.5h1M386 181.5h1M379 122.5h1M360 190.5h1M355 108.5h1M331 115.5h1M339 185.5h1M396 180.5h1M347 152.5h1M364 171.5h1M384 132.5h1M350 178.5h1M369 95.5h1M376 146.5h1M346 135.5h1M368 174.5h1M383 163.5h1M397 140.5h1M360 104.5h1M398 191.5h1M343 157.5h1M385 171.5h1M361 143.5h1M398 159.5h1M398 172.5h1M354 111.5h1M381 184.5h1M341 143.5h1M366 127.5h1M333 171.5h1M359 126.5h1M374 115.5h1M326 182.5h1M369 151.5h1M372 143.5h1M378 87.5h1M339 106.5h1M390 151.5h1M375 155.5h1M371 115.5h1M350 195.5h1M347 94.5h1M374 194.5h1M346 154.5h1M327 177.5h1M372 130.5h1M362 170.5h1M355 172.5h1M362 129.5h1M379 113.5h1M371 140.5h1M366 173.5h1M352 182.5h1M367 140.5h1M374 156.5h1M386 139.5h1M376 179.5h1M333 108.5h1M369 175.5h1M372 107.5h1M357 158.5h1M362 182.5h1M324 133.5h1M358 149.5h1M390 167.5h1M343 138.5h1M342 158.5h1M374 148.5h1M328 154.5h1M342 172.5h1M372 165.5h1M367 171.5h1M369 142.5h1M362 152.5h1M400 136.5h1M364 137.5h1M329 184.5h1M369 123.5h1M369 167.5h1M328 113.5h1M384 149.5h1M342 123.5h1M345 146.5h1M366 128.5h1M344 126.5h1M380 147.5h1M353 156.5h1M345 152.5h1M325 162.5h1M395 168.5h1M397 178.5h1M340 145.5h1M345 172.5h1M324 129.5h1M329 105.5h1M397 190.5h1M375 165.5h1M379 93.5h1M381 191.5h1M399 142.5h1M380 168.5h1M385 138.5h1M338 146.5h1M343 150.5h1M400 156.5h1M359 141.5h1M337 188.5h1M377 157.5h1M359 144.5h1M376 98.5h1M343 174.5h1M355 137.5h1M354 156.5h1M389 148.5h1M381 197.5h1M382 119.5h1M363 146.5h1M378 154.5h1M370 151.5h1M344 128.5h1M330 155.5h1M355 127.5h1M331 169.5h1M362 147.5h1M349 188.5h1M388 130.5h1M355 179.5h1M361 136.5h1M386 128.5h1M385 151.5h1M327 192.5h1M335 164.5h1M374 163.5h1M335 179.5h1M379 197.5h1M397 183.5h1M347 169.5h1M365 133.5h1M365 131.5h1M386 159.5h1M367 151.5h1M369 117.5h1M377 175.5h1M386 176.5h1M369 164.5h1M364 168.5h1M360 89.5h1M383 156.5h1M378 177.5h1M371 159.5h1M348 162.5h1M395 137.5h1M377 131.5h1M382 151.5h1M351 80.5h1M347 155.5h1M375 177.5h1M375 147.5h1M345 134.5h1M362 139.5h1M397 152.5h1M333 124.5h1M334 166.5h1M351 167.5h1M367 145.5h1M349 170.5h1M378 190.5h1M352 167.5h1M391 154.5h1M335 111.5h1M357 116.5h1M399 177.5h1M357 100.5h1M375 131.5h1M365 114.5h1M378 140.5h1M345 143.5h1M362 115.5h1M364 181.5h1M394 130.5h1M373 153.5h1M337 151.5h1M343 181.5h1M334 165.5h1M400 133.5h1M354 150.5h1M348 138.5h1M381 144.5h1M329 178.5h1M386 133.5h1M348 142.5h1M340 131.5h1M345 120.5h1M335 120.5h1M381 95.5h1M369 105.5h1M345 175.5h1M335 110.5h1M359 171.5h1M336 104.5h1M374 107.5h1M366 154.5h1M391 150.5h1M366 114.5h1M344 171.5h1M349 105.5h1M383 186.5h1M353 149.5h1M364 194.5h1M377 161.5h1M355 99.5h1M387 159.5h1M386 136.5h1M387 118.5h1M370 132.5h1M353 139.5h1M399 153.5h1M339 136.5h1M359 139.5h1M326 150.5h1M347 142.5h1M361 156.5h1M363 178.5h1M389 189.5h1M353 108.5h1M353 116.5h1M333 146.5h1M379 155.5h1M324 112.5h1M400 152.5h1M342 101.5h1M342 155.5h1M339 189.5h1M389 116.5h1M396 182.5h1M369 122.5h1M381 167.5h1M361 176.5h1M364 149.5h1M346 138.5h1M368 151.5h1M373 182.5h1M378 158.5h1M354 194.5h1M363 107.5h1M358 174.5h1M343 147.5h1M348 121.5h1M361 160.5h1M329 135.5h1M377 127.5h1M390 124.5h1M352 122.5h1M332 138.5h1M374 152.5h1M339 133.5h1M399 162.5h1M328 184.5h1M388 94.5h1M335 154.5h1M380 136.5h1M351 154.5h1M393 169.5h1M345 142.5h1M354 139.5h1M357 82.5h1M333 140.5h1M391 119.5h1M354 151.5h1M382 136.5h1M372 168.5h1M391 156.5h1M373 181.5h1M373 123.5h1M393 139.5h1M327 151.5h1M368 172.5h1M330 82.5h1M386 157.5h1M338 144.5h1M336 142.5h1M355 151.5h1M366 178.5h1M372 139.5h1M375 137.5h1M392 167.5h1M388 172.5h1M338 147.5h1M354 119.5h1M326 135.5h1M333 123.5h1M378 146.5h1M354 161.5h1M331 120.5h1M352 114.5h1M327 171.5h1M326 175.5h1M369 179.5h1M332 197.5h1M344 81.5h1M352 159.5h1M365 115.5h1M324 135.5h1M383 174.5h1M363 136.5h1M379 173.5h1M393 177.5h1M337 158.5h1M378 166.5h1M367 155.5h1M346 108.5h1M355 148.5h1M370 136.5h1M354 183.5h1M339 153.5h1M354 162.5h1M391 170.5h1M363 141.5h1M347 124.5h1M384 153.5h1M364 141.5h1M386 173.5h1M325 94.5h1M345 137.5h1M389 173.5h1M371 169.5h1M363 170.5h1M340 111.5h1M341 151.5h1M325 119.5h1M359 134.5h1M381 179.5h1M360 150.5h1M361 127.5h1M397 100.5h1M323 88.5h1M350 126.5h1M382 129.5h1M385 131.5h1M342 187.5h1M351 147.5h1M343 106.5h1M369 136.5h1M344 105.5h1M370 178.5h1M342 160.5h1M375 128.5h1M383 104.5h1M362 150.5h1M354 147.5h1M385 164.5h1M357 155.5h1M391 190.5h1M343 134.5h1M336 148.5h1M326 156.5h1M385 159.5h1M353 127.5h1M342 134.5h1M398 139.5h1M366 106.5h1M399 146.5h1M379 146.5h1M384 117.5h1M345 148.5h1M375 111.5h1M383 152.5h1M328 150.5h1M353 167.5h1M350 128.5h1M373 120.5h1M339 142.5h1M336 157.5h1M382 158.5h1M324 154.5h1M336 182.5h1M391 171.5h1M383 192.5h1M395 122.5h1M363 150.5h1M347 125.5h1M328 110.5h1M373 99.5h1M357 184.5h1M373 144.5h1M331 89.5h1M339 172.5h1M323 118.5h1M341 181.5h1M363 138.5h1M390 111.5h1M358 189.5h1M326 163.5h1M346 169.5h1M398 151.5h1M387 160.5h1M355 136.5h1M376 139.5h1M400 123.5h1M346 127.5h1M363 132.5h1M355 133.5h1M351 120.5h1M367 137.5h1M383 147.5h1M361 108.5h1M347 114.5h1M369 129.5h1M359 119.5h1M361 153.5h1M372 114.5h1M365 157.5h1M395 149.5h1M363 109.5h1M373 145.5h1M350 119.5h1M368 133.5h1M392 130.5h1M371 147.5h1M389 146.5h1M338 100.5h1M373 160.5h1M363 119.5h1M343 173.5h1M371 148.5h1M359 145.5h1M361 132.5h1M385 111.5h1M387 130.5h1M380 186.5h1M375 156.5h1M387 128.5h1M387 115.5h1M357 145.5h1M365 150.5h1M391 175.5h1M396 191.5h1M380 163.5h1M369 154.5h1M364 132.5h1M377 145.5h1M346 151.5h1M351 118.5h1M370 101.5h1M345 167.5h1M386 129.5h1M350 174.5h1M374 101.5h1M356 154.5h1M392 193.5h1M336 174.5h1M361 159.5h1M362 163.5h1M341 137.5h1M352 160.5h1M355 152.5h1M361 158.5h1M372 98.5h1M346 133.5h1M331 92.5h1M375 194.5h1M368 193.5h1M385 179.5h1M330 181.5h1M395 91.5h1M388 145.5h1M358 153.5h1M364 147.5h1M366 149.5h1M379 135.5h1M369 138.5h1M332 133.5h1M347 163.5h1M369 181.5h1M375 85.5h1M374 120.5h1M379 152.5h1M350 133.5h1M366 155.5h1M383 173.5h1M367 172.5h1M397 150.5h1M395 159.5h1M364 167.5h1M362 134.5h1M400 96.5h1M336 146.5h1M341 179.5h1M386 106.5h1M399 152.5h1M360 134.5h1M361 144.5h1M334 175.5h1M387 151.5h1M365 196.5h1M392 146.5h1M332 135.5h1M329 171.5h1M382 175.5h1M365 184.5h1M365 116.5h1M349 179.5h1M345 141.5h1M352 98.5h1M327 197.5h1M368 104.5h1M354 133.5h1M375 191.5h1M388 191.5h1M381 162.5h1M363 110.5h1M363 89.5h1M357 112.5h1M339 112.5h1M328 131.5h1M348 144.5h1M330 147.5h1M362 176.5h1M329 123.5h1M367 96.5h1M341 112.5h1M365 175.5h1M376 128.5h1M332 95.5h1M342 169.5h1M347 181.5h1M333 133.5h1M354 128.5h1M327 143.5h1M377 142.5h1M346 110.5h1M396 178.5h1M363 151.5h1M367 147.5h1M353 140.5h1M382 156.5h1M354 177.5h1M337 135.5h1M391 174.5h1M346 198.5h1M369 159.5h1M359 151.5h1M382 134.5h1M376 160.5h1M349 133.5h1M373 103.5h1M354 148.5h1M333 178.5h1M345 118.5h1M356 148.5h1M390 121.5h1M334 85.5h1M387 175.5h1M396 104.5h1M339 107.5h1M378 123.5h1M386 155.5h1M365 197.5h1M363 142.5h1M354 166.5h1M378 167.5h1M360 107.5h1M359 129.5h1M330 137.5h1M344 147.5h1M353 118.5h1M370 117.5h1M350 185.5h1M364 162.5h1M375 101.5h1M386 114.5h1M389 168.5h1M369 174.5h1M395 186.5h1M379 136.5h1M358 183.5h1M364 174.5h1M378 113.5h1M370 143.5h1M366 172.5h1M363 134.5h1M374 139.5h1M387 183.5h1M359 150.5h1M358 133.5h1M380 131.5h1M379 191.5h1M333 194.5h1M386 121.5h1M353 122.5h1M336 172.5h1M373 195.5h1M373 143.5h1M371 178.5h1M370 115.5h1M378 137.5h1M379 108.5h1M382 185.5h1M337 101.5h1M352 99.5h1M361 102.5h1M388 119.5h1M346 106.5h1M371 166.5h1M383 181.5h1M346 162.5h1M364 195.5h1M366 184.5h1M356 179.5h1M398 171.5h1M357 169.5h1M363 144.5h1M352 127.5h1M373 142.5h1M350 179.5h1M350 173.5h1M373 174.5h1M330 138.5h1M342 191.5h1M355 145.5h1M371 135.5h1M385 173.5h1M348 141.5h1M357 111.5h1M370 191.5h1M355 93.5h1M374 188.5h1M332 163.5h1M327 137.5h1M354 187.5h1M341 94.5h1M368 152.5h1M361 131.5h1M354 178.5h1M390 140.5h1M338 136.5h1M342 116.5h1M398 166.5h1M390 142.5h1M341 133.5h1M394 143.5h1M334 147.5h1M340 108.5h1M382 196.5h1M400 142.5h1M381 171.5h1M356 126.5h1M371 189.5h1M389 139.5h1M379 156.5h1M384 197.5h1M344 183.5h1M381 177.5h1M348 96.5h1M352 103.5h1M352 130.5h1M337 128.5h1M378 136.5h1M378 157.5h1M358 166.5h1M344 125.5h1M353 95.5h1M379 153.5h1M366 123.5h1M331 163.5h1M366 115.5h1M367 153.5h1M351 157.5h1M355 115.5h1M380 179.5h1M334 173.5h1M398 162.5h1M337 165.5h1M371 174.5h1M381 169.5h1M344 156.5h1M358 144.5h1M385 172.5h1M362 162.5h1M366 192.5h1M327 102.5h1M367 136.5h1M345 126.5h1M346 174.5h1M356 123.5h1M341 159.5h1M334 115.5h1M339 135.5h1M338 119.5h1M333 91.5h1M362 197.5h1M344 106.5h1M340 104.5h1M365 102.5h1M357 160.5h1M372 144.5h1M377 100.5h1M328 173.5h1M369 113.5h1M379 142.5h1M361 154.5h1M331 127.5h1M347 147.5h1M372 182.5h1M324 152.5h1M343 152.5h1M399 168.5h1M343 130.5h1M399 133.5h1M342 124.5h1M353 121.5h1M382 159.5h1M357 106.5h1M354 145.5h1M381 138.5h1M386 165.5h1M336 126.5h1M353 178.5h1M355 103.5h1M326 167.5h1M374 121.5h1M336 138.5h1M327 125.5h1M337 105.5h1M355 109.5h1M351 85.5h1M393 123.5h1M362 159.5h1M364 101.5h1M328 152.5h1M357 124.5h1M367 169.5h1M340 138.5h1M376 140.5h1M331 181.5h1M346 167.5h1M352 83.5h1M361 192.5h1M356 133.5h1M382 176.5h1M374 161.5h1M357 122.5h1M369 149.5h1M374 172.5h1M367 152.5h1M389 132.5h1M383 196.5h1M395 158.5h1M366 181.5h1M360 158.5h1M365 161.5h1M355 153.5h1M379 176.5h1M376 156.5h1M375 126.5h1M344 164.5h1M355 193.5h1M348 118.5h1M333 163.5h1M374 184.5h1M346 194.5h1M342 196.5h1M344 130.5h1M352 123.5h1M387 162.5h1M349 162.5h1M359 146.5h1M331 156.5h1M335 156.5h1M399 138.5h1M382 105.5h1M370 180.5h1M359 137.5h1M382 146.5h1M357 164.5h1M342 86.5h1M373 112.5h1M352 144.5h1M355 129.5h1M338 116.5h1M348 163.5h1M366 148.5h1M355 89.5h1M344 167.5h1M395 167.5h1M359 182.5h1M339 131.5h1M384 191.5h1M372 158.5h1M380 130.5h1M356 128.5h1M344 139.5h1M353 112.5h1M349 121.5h1M370 173.5h1M365 134.5h1M356 125.5h1M352 143.5h1M354 118.5h1M363 156.5h1M357 179.5h1M340 121.5h1M363 159.5h1M328 130.5h1M336 117.5h1M351 180.5h1M391 195.5h1M369 186.5h1M351 164.5h1M364 190.5h1M371 192.5h1M372 103.5h1M359 125.5h1M343 129.5h1M381 195.5h1M355 104.5h1M371 100.5h1M363 140.5h1M354 160.5h1M356 135.5h1M385 176.5h1M397 122.5h1M348 140.5h1M362 185.5h1M379 172.5h1M382 171.5h1M375 93.5h1M364 145.5h1M326 117.5h1M381 145.5h1M372 170.5h1M356 168.5h1M350 168.5h1M397 133.5h1M364 160.5h1M357 101.5h1M382 133.5h1M356 167.5h1M331 164.5h1M331 108.5h1M393 168.5h1M326 142.5h1M362 181.5h1M342 125.5h1M338 104.5h1M335 104.5h1M338 189.5h1M342 185.5h1M336 166.5h1M377 163.5h1M385 177.5h1M372 180.5h1M384 155.5h1M385 168.5h1M359 111.5h1M346 185.5h1M335 175.5h1M357 75.5h1M399 161.5h1M354 115.5h1M347 194.5h1M336 90.5h1M360 121.5h1M340 148.5h1M348 104.5h1M378 147.5h1M341 124.5h1M363 167.5h1M395 189.5h1M386 184.5h1M387 171.5h1M355 165.5h1M360 145.5h1M345 151.5h1M385 116.5h1M332 121.5h1M372 138.5h1M345 117.5h1M384 125.5h1M326 179.5h1M361 182.5h1M341 132.5h1M356 124.5h1M345 156.5h1M340 137.5h1M371 125.5h1M386 153.5h1M386 167.5h1M380 94.5h1M373 170.5h1M324 97.5h1M324 116.5h1M351 98.5h1M342 129.5h1M324 130.5h1M328 162.5h1M382 145.5h1M347 156.5h1M339 167.5h1M378 142.5h1M369 163.5h1M336 149.5h1M359 115.5h1M340 114.5h1M379 147.5h1M367 167.5h1M373 166.5h1M360 194.5h1M372 137.5h1M380 114.5h1M382 198.5h1M371 187.5h1M356 129.5h1M334 146.5h1M357 115.5h1M377 106.5h1M331 97.5h1M348 120.5h1M356 191.5h1M372 155.5h1M342 192.5h1M360 188.5h1M344 119.5h1M386 178.5h1M328 112.5h1M391 180.5h1M359 152.5h1M336 125.5h1M348 145.5h1M359 157.5h1M352 190.5h1M372 163.5h1M376 99.5h1M359 117.5h1M363 173.5h1M393 178.5h1M331 106.5h1M389 160.5h1M356 138.5h1M393 151.5h1M361 185.5h1M373 117.5h1M359 188.5h1M330 145.5h1M349 119.5h1M384 137.5h1M377 170.5h1M339 151.5h1M352 120.5h1M367 107.5h1M352 107.5h1M375 114.5h1M349 108.5h1M343 160.5h1M359 164.5h1M341 157.5h1M359 147.5h1M373 132.5h1M346 188.5h1M374 155.5h1M357 196.5h1M379 174.5h1M351 176.5h1M400 100.5h1M328 164.5h1M334 140.5h1M324 105.5h1M333 145.5h1M361 181.5h1M365 144.5h1M349 132.5h1M328 127.5h1M368 196.5h1M350 96.5h1M381 180.5h1M351 126.5h1M357 198.5h1M364 156.5h1M342 130.5h1M343 125.5h1M366 196.5h1M339 164.5h1M366 135.5h1M365 180.5h1M359 105.5h1M366 193.5h1M354 171.5h1M335 103.5h1M349 102.5h1M397 139.5h1M390 152.5h1M335 122.5h1M354 94.5h1M345 127.5h1M389 197.5h1M339 191.5h1M399 140.5h1M392 129.5h1M364 191.5h1M390 184.5h1M391 147.5h1M343 93.5h1M338 166.5h1M395 153.5h1M383 185.5h1M381 185.5h1M370 177.5h1M358 151.5h1M348 100.5h1M363 143.5h1M353 180.5h1M370 144.5h1M352 151.5h1M350 153.5h1M361 165.5h1M353 113.5h1M395 131.5h1M389 138.5h1M361 187.5h1M355 176.5h1M373 116.5h1M398 137.5h1M380 171.5h1M347 154.5h1M338 115.5h1M357 110.5h1M382 112.5h1M360 98.5h1M391 149.5h1M372 173.5h1M352 186.5h1M324 180.5h1M392 139.5h1M374 146.5h1M374 79.5h1M349 104.5h1M375 134.5h1M371 194.5h1M357 103.5h1M327 111.5h1M354 149.5h1M350 162.5h1M329 119.5h1M389 176.5h1M351 186.5h1M368 139.5h1M400 132.5h1M324 150.5h1M354 108.5h1M324 100.5h1M387 178.5h1M347 157.5h1M336 155.5h1M377 156.5h1M340 161.5h1M395 170.5h1M360 109.5h1M376 134.5h1M383 145.5h1M362 121.5h1M331 134.5h1M370 123.5h1M395 133.5h1M344 136.5h1M386 124.5h1M371 114.5h1M359 133.5h1M376 112.5h1M354 143.5h1M389 145.5h1M378 132.5h1M389 161.5h1M387 186.5h1M372 167.5h1M340 172.5h1M393 131.5h1M381 182.5h1M376 116.5h1M394 140.5h1M383 128.5h1M361 170.5h1M381 93.5h1M367 138.5h1M336 140.5h1M366 166.5h1M354 146.5h1M387 103.5h1M360 125.5h1M371 163.5h1M335 132.5h1M363 190.5h1M378 145.5h1M360 183.5h1M381 174.5h1M397 149.5h1M353 141.5h1M356 198.5h1M348 177.5h1M335 143.5h1M364 157.5h1M392 124.5h1M349 157.5h1M382 76.5h1M344 141.5h1M357 176.5h1M339 124.5h1M396 166.5h1M364 119.5h1M325 193.5h1M373 165.5h1M338 186.5h1M335 197.5h1M349 124.5h1M340 134.5h1M360 151.5h1M337 94.5h1M382 189.5h1M367 185.5h1M376 158.5h1M325 176.5h1M349 190.5h1M334 154.5h1M363 163.5h1M354 172.5h1M356 140.5h1M375 148.5h1M351 144.5h1M342 143.5h1M352 126.5h1M367 190.5h1M337 171.5h1M375 159.5h1M378 125.5h1M349 129.5h1M348 166.5h1M398 160.5h1M335 158.5h1M334 153.5h1M352 156.5h1M375 150.5h1M327 96.5h1M383 175.5h1M346 158.5h1M364 123.5h1M362 137.5h1M343 120.5h1M366 101.5h1M384 174.5h1M394 190.5h1M332 128.5h1M359 143.5h1M339 154.5h1M385 145.5h1M386 190.5h1M343 186.5h1M381 101.5h1M368 175.5h1M343 127.5h1M372 112.5h1M338 162.5h1M394 173.5h1M371 111.5h1M370 142.5h1M352 154.5h1M343 107.5h1M357 185.5h1M327 164.5h1M376 161.5h1M369 115.5h1M397 151.5h1M348 103.5h1M343 122.5h1M346 91.5h1M355 100.5h1M379 132.5h1M358 127.5h1M379 168.5h1M372 160.5h1M350 142.5h1M327 190.5h1M351 95.5h1M356 178.5h1M364 178.5h1M352 115.5h1M344 131.5h1M390 143.5h1M398 181.5h1M388 192.5h1M325 134.5h1M337 166.5h1M384 133.5h1M385 142.5h1M333 115.5h1M373 101.5h1M371 162.5h1M377 155.5h1M343 140.5h1M367 111.5h1M376 130.5h1M354 153.5h1M369 195.5h1M348 175.5h1M349 144.5h1M379 148.5h1M350 163.5h1M392 160.5h1M350 125.5h1M400 166.5h1M344 175.5h1M384 121.5h1M362 146.5h1M380 150.5h1M368 90.5h1M385 128.5h1M333 150.5h1M380 151.5h1M371 133.5h1M329 155.5h1M339 162.5h1M348 130.5h1M358 123.5h1M354 180.5h1M345 130.5h1M385 167.5h1M343 153.5h1M340 128.5h1M325 152.5h1M340 153.5h1M375 113.5h1M375 173.5h1M397 145.5h1M340 184.5h1M372 145.5h1M353 164.5h1M392 165.5h1M383 140.5h1M370 168.5h1M350 123.5h1M367 168.5h1M388 168.5h1M323 119.5h1M390 160.5h1M374 123.5h1M386 170.5h1M355 187.5h1M360 176.5h1M365 113.5h1M364 197.5h1M373 150.5h1M388 127.5h1M376 100.5h1M397 112.5h1M346 161.5h1M378 189.5h1M341 153.5h1M376 167.5h1M330 197.5h1M349 107.5h1M385 152.5h1M366 159.5h1M336 131.5h1M340 117.5h1M334 116.5h1M387 99.5h1M359 183.5h1M385 150.5h1M376 172.5h1M386 127.5h1M337 160.5h1M351 117.5h1M398 144.5h1M348 117.5h1M368 116.5h1M370 145.5h1M347 173.5h1M389 154.5h1M387 150.5h1M390 144.5h1M349 174.5h1M347 115.5h1M374 122.5h1M357 166.5h1M377 193.5h1M348 137.5h1M391 192.5h1M335 146.5h1M323 151.5h1M392 109.5h1M365 92.5h1M332 175.5h1M366 165.5h1M380 148.5h1M358 113.5h1M350 187.5h1M389 129.5h1M373 127.5h1M359 169.5h1M346 183.5h1M393 135.5h1M352 146.5h1M357 85.5h1M366 140.5h1M323 133.5h1M376 157.5h1M350 155.5h1M336 147.5h1M357 109.5h1M362 160.5h1M396 156.5h1M346 190.5h1M366 129.5h1M328 149.5h1M367 113.5h1M336 115.5h1M350 135.5h1M344 174.5h1M369 137.5h1M397 134.5h1M356 190.5h1M396 99.5h1M366 152.5h1M380 117.5h1M343 144.5h1M345 150.5h1M368 125.5h1M363 181.5h1M388 141.5h1M396 173.5h1M378 101.5h1M337 144.5h1M341 138.5h1M347 109.5h1M372 172.5h1M391 162.5h1M346 166.5h1M353 142.5h1M373 89.5h1M327 183.5h1M372 194.5h1M335 163.5h1M364 97.5h1M325 179.5h1M389 156.5h1M375 122.5h1M369 121.5h1M347 151.5h1M329 149.5h1M350 130.5h1M360 126.5h1M350 139.5h1M356 164.5h1M336 179.5h1M384 146.5h1M375 184.5h1M391 169.5h1M374 106.5h1M380 164.5h1M335 97.5h1M332 176.5h1M395 123.5h1M368 119.5h1M357 181.5h1M335 149.5h1M357 117.5h1M368 180.5h1M344 109.5h1M335 160.5h1M378 120.5h1M353 123.5h1M345 95.5h1M349 149.5h1M336 113.5h1M329 162.5h1M374 118.5h1M350 127.5h1M377 179.5h1M336 152.5h1M349 167.5h1M345 136.5h1M342 137.5h1M325 106.5h1M361 133.5h1M395 139.5h1M381 196.5h1M394 138.5h1M372 91.5h1M343 172.5h1M356 112.5h1M331 109.5h1M328 179.5h1M368 187.5h1M372 97.5h1M360 100.5h1M356 196.5h1M370 174.5h1M364 150.5h1M335 119.5h1M376 173.5h1M360 116.5h1M351 169.5h1M362 114.5h1M386 164.5h1M392 183.5h1M373 163.5h1M370 170.5h1M394 174.5h1M335 170.5h1M338 122.5h1M368 113.5h1M363 168.5h1M371 176.5h1M389 127.5h1M325 181.5h1M339 96.5h1M347 129.5h1M352 168.5h1M366 111.5h1M349 193.5h1M331 197.5h1M345 169.5h1M390 164.5h1M368 177.5h1M379 104.5h1M342 166.5h1M377 123.5h1M341 122.5h1M368 185.5h1M328 99.5h1M384 141.5h1M339 125.5h1M356 195.5h1M388 95.5h1M356 177.5h1M382 138.5h1M362 130.5h1M349 178.5h1M383 121.5h1M334 93.5h1M368 159.5h1M400 179.5h1M335 139.5h1M375 169.5h1M350 106.5h1M361 167.5h1M328 186.5h1M368 155.5h1M388 189.5h1M375 146.5h1M381 149.5h1M338 156.5h1M337 139.5h1M329 137.5h1M350 110.5h1M338 137.5h1M376 124.5h1M362 135.5h1M398 129.5h1M399 184.5h1M344 114.5h1M373 140.5h1M327 154.5h1M361 139.5h1M330 117.5h1M332 101.5h1M354 100.5h1M393 187.5h1M367 188.5h1M374 104.5h1M350 94.5h1M373 190.5h1M399 154.5h1M385 181.5h1M359 163.5h1M381 111.5h1M333 113.5h1M335 186.5h1M385 140.5h1M344 160.5h1M352 166.5h1M371 112.5h1M359 162.5h1M378 163.5h1M366 182.5h1M355 140.5h1M338 97.5h1M342 119.5h1M384 164.5h1M376 125.5h1M391 179.5h1M361 172.5h1M398 142.5h1M380 143.5h1M354 140.5h1M357 102.5h1M397 147.5h1M397 119.5h1M353 176.5h1M333 173.5h1M377 188.5h1M392 153.5h1M360 160.5h1M328 124.5h1M349 168.5h1M360 127.5h1M368 154.5h1M386 152.5h1M358 196.5h1M365 138.5h1M355 147.5h1M362 154.5h1M341 117.5h1M399 155.5h1M356 172.5h1M343 195.5h1M374 133.5h1M365 190.5h1M379 189.5h1M397 85.5h1M325 124.5h1M375 145.5h1M368 168.5h1M361 105.5h1M371 188.5h1M374 174.5h1M362 116.5h1M374 165.5h1M373 137.5h1M357 131.5h1M331 151.5h1M335 159.5h1M395 142.5h1M349 123.5h1M376 147.5h1M355 122.5h1M347 112.5h1M390 109.5h1M378 193.5h1M374 147.5h1M355 167.5h1M365 146.5h1M328 107.5h1M366 177.5h1M387 131.5h1M336 128.5h1M363 131.5h1M354 106.5h1M349 184.5h1M383 137.5h1M349 113.5h1M336 189.5h1M328 103.5h1M399 180.5h1M348 176.5h1M363 128.5h1M361 123.5h1M369 188.5h1M345 180.5h1M378 118.5h1M375 178.5h1M368 118.5h1M350 104.5h1M344 153.5h1M350 148.5h1M341 134.5h1M340 91.5h1M393 136.5h1M369 144.5h1M386 102.5h1M351 172.5h1M394 116.5h1M352 117.5h1M378 151.5h1M370 159.5h1M340 119.5h1M370 92.5h1M357 108.5h1M379 112.5h1M347 158.5h1M365 153.5h1M381 164.5h1M397 157.5h1M358 167.5h1M352 137.5h1M394 153.5h1M398 154.5h1M376 162.5h1M390 198.5h1M333 111.5h1M396 117.5h1M364 140.5h1M370 148.5h1M398 175.5h1M366 171.5h1M394 150.5h1M373 141.5h1M324 118.5h1M391 160.5h1M366 146.5h1M334 132.5h1M387 166.5h1M361 141.5h1M326 99.5h1M372 192.5h1M338 149.5h1M330 168.5h1M349 147.5h1M400 182.5h1M341 113.5h1M390 155.5h1M348 136.5h1M399 167.5h1M377 168.5h1M393 155.5h1M342 179.5h1M351 184.5h1M360 130.5h1M349 93.5h1M367 108.5h1M366 144.5h1M387 147.5h1M364 189.5h1M362 164.5h1M342 85.5h1M382 167.5h1M368 131.5h1M353 90.5h1M331 152.5h1M394 166.5h1M387 142.5h1M391 109.5h1M344 135.5h1M369 114.5h1M377 152.5h1M392 141.5h1M383 130.5h1M349 153.5h1M370 113.5h1M334 131.5h1M352 165.5h1M342 100.5h1M344 116.5h1M331 165.5h1M386 150.5h1M387 188.5h1M400 155.5h1M367 99.5h1M339 122.5h1M348 164.5h1M367 128.5h1M347 161.5h1M337 150.5h1M358 171.5h1M351 138.5h1M374 175.5h1M390 177.5h1M349 140.5h1M361 166.5h1M365 127.5h1M361 112.5h1M351 102.5h1M369 126.5h1M349 135.5h1M357 126.5h1M354 137.5h1M344 133.5h1M327 176.5h1M395 155.5h1M353 104.5h1M330 133.5h1M364 117.5h1M362 169.5h1M368 108.5h1M393 158.5h1M382 153.5h1M349 186.5h1M392 162.5h1M375 121.5h1M347 188.5h1M352 181.5h1M372 128.5h1M343 141.5h1M333 165.5h1M397 162.5h1M386 161.5h1M342 131.5h1M377 110.5h1M346 191.5h1M378 153.5h1M387 168.5h1M325 143.5h1M341 123.5h1M376 131.5h1M350 138.5h1M391 182.5h1M372 153.5h1M355 190.5h1M388 197.5h1M353 147.5h1M386 126.5h1M365 162.5h1M334 128.5h1M361 121.5h1M362 194.5h1M350 189.5h1M363 97.5h1M387 177.5h1M367 119.5h1M361 157.5h1M346 156.5h1M360 133.5h1M360 128.5h1M356 175.5h1M355 161.5h1M369 128.5h1M348 111.5h1M391 188.5h1M376 106.5h1M371 123.5h1M343 135.5h1M385 160.5h1M357 142.5h1M340 152.5h1M368 160.5h1M329 141.5h1M369 176.5h1M331 162.5h1M391 165.5h1M400 192.5h1M399 118.5h1M337 154.5h1M365 179.5h1M358 155.5h1M357 146.5h1M322 95.5h1M384 152.5h1M373 104.5h1M381 128.5h1M365 152.5h1M351 112.5h1M355 160.5h1M352 162.5h1M360 162.5h1M331 130.5h1M370 154.5h1M370 176.5h1M395 181.5h1M372 177.5h1M350 121.5h1M338 150.5h1M355 163.5h1M344 158.5h1M394 179.5h1M380 128.5h1M377 121.5h1M378 173.5h1M348 152.5h1M350 113.5h1M352 185.5h1M329 89.5h1M346 164.5h1M355 157.5h1M344 172.5h1M366 100.5h1M357 129.5h1M334 176.5h1M332 98.5h1M373 97.5h1M340 142.5h1M392 138.5h1M329 151.5h1M386 180.5h1M347 118.5h1M371 152.5h1M374 134.5h1M360 173.5h1M347 136.5h1M370 137.5h1M323 110.5h1M352 128.5h1M390 171.5h1M388 157.5h1M367 106.5h1M346 126.5h1M366 113.5h1M379 182.5h1M385 197.5h1M323 100.5h1M374 129.5h1M335 95.5h1M388 154.5h1M354 174.5h1M348 147.5h1M378 184.5h1M332 195.5h1M371 195.5h1M371 117.5h1M377 93.5h1M396 170.5h1M353 99.5h1M381 163.5h1M381 122.5h1M327 161.5h1M398 130.5h1M367 114.5h1M366 145.5h1M399 178.5h1M344 113.5h1M353 145.5h1M388 120.5h1M369 127.5h1M347 145.5h1M356 146.5h1M355 183.5h1M395 165.5h1M393 157.5h1M384 177.5h1M376 166.5h1M399 112.5h1M362 100.5h1M334 186.5h1M332 173.5h1M328 148.5h1M359 155.5h1M372 178.5h1M387 133.5h1M387 125.5h1M346 155.5h1M384 122.5h1M345 139.5h1M339 137.5h1M354 184.5h1M391 155.5h1M388 148.5h1M376 119.5h1M364 94.5h1M340 178.5h1M369 166.5h1M377 197.5h1M380 101.5h1M353 109.5h1M375 119.5h1M373 171.5h1M392 156.5h1M344 121.5h1M337 181.5h1M348 134.5h1M396 159.5h1M368 190.5h1M360 157.5h1M351 171.5h1M343 111.5h1M334 101.5h1M338 128.5h1M339 177.5h1M336 123.5h1M374 144.5h1M370 183.5h1M350 85.5h1M382 163.5h1M393 133.5h1M356 158.5h1M367 130.5h1M342 168.5h1M350 171.5h1M342 152.5h1M354 176.5h1M377 174.5h1M392 164.5h1M397 173.5h1M372 193.5h1M370 124.5h1M360 168.5h1M381 157.5h1M354 110.5h1M334 133.5h1M368 112.5h1M373 169.5h1M353 144.5h1M388 162.5h1M336 134.5h1M358 131.5h1M343 158.5h1M348 167.5h1M380 146.5h1M356 161.5h1M353 157.5h1M362 141.5h1M390 183.5h1M340 186.5h1M362 140.5h1M377 184.5h1M355 166.5h1M328 145.5h1M377 137.5h1M365 177.5h1M398 149.5h1M366 190.5h1M357 172.5h1M352 170.5h1M334 157.5h1M386 130.5h1M351 93.5h1M330 175.5h1M372 120.5h1M382 173.5h1M359 101.5h1M367 154.5h1M395 134.5h1M395 188.5h1M381 155.5h1M357 114.5h1M351 198.5h1M397 177.5h1M364 148.5h1M357 157.5h1M376 170.5h1M377 181.5h1M365 154.5h1M367 191.5h1M337 112.5h1M349 118.5h1M331 123.5h1M335 169.5h1M348 119.5h1M375 141.5h1M371 134.5h1M351 160.5h1M372 126.5h1M369 130.5h1M367 110.5h1M356 165.5h1M349 189.5h1M384 185.5h1M350 180.5h1M343 184.5h1M388 144.5h1M359 196.5h1M365 110.5h1M352 135.5h1M343 88.5h1M368 83.5h1M342 92.5h1M392 137.5h1M333 129.5h1M352 176.5h1M326 149.5h1M384 161.5h1M381 132.5h1M337 114.5h1M373 125.5h1M358 134.5h1M367 123.5h1M388 124.5h1M377 119.5h1M395 145.5h1M399 164.5h1M396 143.5h1M378 183.5h1M357 187.5h1M334 130.5h1M340 133.5h1M327 120.5h1M325 102.5h1M349 165.5h1M351 175.5h1M358 147.5h1M356 193.5h1M380 158.5h1M348 139.5h1M392 195.5h1M328 102.5h1M359 195.5h1M369 141.5h1M337 131.5h1M336 75.5h1M333 183.5h1M378 133.5h1M395 150.5h1M345 165.5h1M331 144.5h1M399 171.5h1M382 130.5h1M378 131.5h1M398 186.5h1M400 98.5h1M344 194.5h1M337 126.5h1M375 187.5h1M329 179.5h1M380 139.5h1M331 110.5h1M378 156.5h1M333 141.5h1M333 131.5h1M376 151.5h1M336 184.5h1M374 130.5h1M331 194.5h1M324 145.5h1M329 125.5h1M351 163.5h1M333 161.5h1M333 148.5h1M377 139.5h1M382 108.5h1M389 180.5h1M368 111.5h1M356 131.5h1M340 146.5h1M377 162.5h1M384 114.5h1M355 154.5h1M371 184.5h1M399 182.5h1M353 190.5h1M370 133.5h1M356 108.5h1M333 104.5h1M351 91.5h1M342 121.5h1M342 144.5h1M390 174.5h1M375 120.5h1M360 186.5h1M375 164.5h1M346 132.5h1M330 184.5h1M352 141.5h1M357 147.5h1M362 136.5h1M343 191.5h1M383 165.5h1M378 141.5h1M399 132.5h1M358 135.5h1M331 182.5h1M361 168.5h1M332 118.5h1M365 128.5h1M362 145.5h1M399 169.5h1M415 111.5h1M399 136.5h1M398 105.5h1M406 88.5h1M404 139.5h1M407 166.5h1M402 170.5h1M404 177.5h1M409 180.5h1M419 134.5h1M408 153.5h1M406 187.5h1M406 112.5h1M405 104.5h1M417 179.5h1M413 121.5h1M399 151.5h1M414 145.5h1M397 126.5h1M402 124.5h1M412 117.5h1M406 120.5h1M408 114.5h1M413 162.5h1M403 117.5h1M406 184.5h1M396 154.5h1M410 188.5h1M411 109.5h1M400 159.5h1M419 176.5h1M408 169.5h1M406 150.5h1M404 154.5h1M416 114.5h1M398 131.5h1M403 174.5h1M407 134.5h1M396 176.5h1M411 161.5h1M401 120.5h1M401 163.5h1M396 103.5h1M410 132.5h1M418 119.5h1M403 153.5h1M416 185.5h1M408 178.5h1M398 122.5h1M408 186.5h1M412 161.5h1M410 156.5h1M400 193.5h1M403 138.5h1M401 129.5h1M399 179.5h1M397 137.5h1M397 167.5h1M398 107.5h1M401 182.5h1M410 196.5h1M406 166.5h1M413 110.5h1M415 142.5h1M406 163.5h1M402 139.5h1M405 130.5h1M416 158.5h1M396 168.5h1M408 146.5h1M400 170.5h1M397 105.5h1M395 118.5h1M403 193.5h1M407 165.5h1M398 118.5h1M404 136.5h1M411 127.5h1M412 123.5h1M398 135.5h1M411 144.5h1M396 150.5h1M411 160.5h1M417 165.5h1M407 139.5h1M401 165.5h1M403 155.5h1M405 129.5h1M412 185.5h1M399 128.5h1M405 161.5h1M411 132.5h1M407 178.5h1M400 128.5h1M408 166.5h1M418 161.5h1M399 147.5h1M413 173.5h1M412 180.5h1M396 139.5h1M401 140.5h1M396 142.5h1M397 160.5h1M398 102.5h1M406 175.5h1M403 190.5h1M396 133.5h1M399 166.5h1M416 177.5h1M410 140.5h1M397 123.5h1M395 113.5h1M400 95.5h1M404 103.5h1M406 148.5h1M401 121.5h1M406 139.5h1M408 181.5h1M403 113.5h1M410 134.5h1M412 138.5h1M411 152.5h1M419 191.5h1M418 150.5h1M396 125.5h1M402 137.5h1M398 146.5h1M406 180.5h1M411 167.5h1M409 154.5h1M414 108.5h1M413 84.5h1M408 144.5h1M414 137.5h1M412 171.5h1M402 198.5h1M415 159.5h1M401 177.5h1M413 190.5h1M404 184.5h1M408 130.5h1M412 176.5h1M400 116.5h1M403 133.5h1M404 132.5h1M397 144.5h1M411 173.5h1M400 158.5h1M396 164.5h1M405 169.5h1M402 162.5h1M395 127.5h1M400 196.5h1M408 164.5h1" stroke="#b2bebc" stroke-width="1.0" fill="none" id="d7"/></g>
<use href="#d7" stroke-opacity="1.0"/>
<g opacity="0.5" filter="url(#hz)"><path d="M451 112.5h1M445 121.5h1M476 121.5h1M454 109.5h1M463 109.5h1M450 98.5h1M451 97.5h1M458 110.5h1M455 117.5h1M457 95.5h1M462 105.5h1M460 94.5h1M442 110.5h1M467 97.5h1M465 100.5h1M456 95.5h1M436 104.5h1M470 96.5h1M467 98.5h1M454 98.5h1M449 113.5h1M480 75.5h1M454 91.5h1M455 103.5h1M453 103.5h1M448 94.5h1M454 105.5h1M451 101.5h1M459 108.5h1M444 100.5h1M445 119.5h1M446 93.5h1M465 106.5h1M439 112.5h1M463 100.5h1M461 100.5h1M467 103.5h1M449 98.5h1M450 108.5h1M429 79.5h1M450 116.5h1M462 119.5h1M457 114.5h1M465 103.5h1M456 92.5h1M470 102.5h1M451 107.5h1M460 99.5h1M446 101.5h1M466 134.5h1M440 112.5h1M456 97.5h1M446 115.5h1M459 101.5h1M460 115.5h1M460 97.5h1M449 104.5h1M451 84.5h1M461 113.5h1M445 114.5h1M460 90.5h1M444 93.5h1M466 88.5h1M459 117.5h1M451 100.5h1M457 97.5h1M455 99.5h1M448 117.5h1M473 119.5h1M460 101.5h1M450 103.5h1M450 101.5h1M454 104.5h1M447 112.5h1M438 105.5h1M450 120.5h1M454 69.5h1M439 93.5h1M448 97.5h1M464 95.5h1M457 107.5h1M458 108.5h1M460 112.5h1M446 109.5h1M473 91.5h1M444 97.5h1M447 109.5h1M454 78.5h1M446 89.5h1M441 100.5h1M456 108.5h1M443 101.5h1M465 122.5h1M463 86.5h1M463 103.5h1M459 99.5h1M450 114.5h1M482 123.5h1M462 120.5h1M457 122.5h1M466 97.5h1M468 92.5h1M452 115.5h1M465 114.5h1M467 82.5h1M456 111.5h1M459 113.5h1M438 101.5h1M471 112.5h1M457 109.5h1M460 103.5h1M461 118.5h1M441 127.5h1M459 107.5h1M449 108.5h1M443 112.5h1M469 116.5h1M441 82.5h1M445 97.5h1M454 90.5h1M467 105.5h1M451 124.5h1M462 95.5h1M466 111.5h1M437 97.5h1M447 98.5h1M456 103.5h1M444 115.5h1M454 112.5h1M450 106.5h1M452 101.5h1M458 123.5h1M456 110.5h1M455 118.5h1M441 84.5h1M469 85.5h1M463 99.5h1M467 114.5h1M472 116.5h1M451 98.5h1M453 119.5h1M450 102.5h1M452 105.5h1M469 133.5h1M458 119.5h1M460 123.5h1M459 97.5h1M438 124.5h1M442 103.5h1M473 106.5h1M452 95.5h1M457 105.5h1M461 103.5h1M458 102.5h1M466 104.5h1M463 104.5h1M445 106.5h1M465 95.5h1M465 97.5h1M456 98.5h1M464 86.5h1M466 82.5h1M463 85.5h1M460 100.5h1M466 95.5h1M450 90.5h1M470 112.5h1M465 99.5h1M472 98.5h1M455 82.5h1M453 101.5h1M454 96.5h1M456 105.5h1M443 100.5h1M463 105.5h1M458 80.5h1M461 102.5h1M455 119.5h1M474 123.5h1M464 104.5h1M457 117.5h1M469 86.5h1M465 93.5h1M449 101.5h1M470 104.5h1M451 133.5h1M451 85.5h1M466 101.5h1M454 116.5h1M450 107.5h1M450 113.5h1M473 120.5h1M458 87.5h1M459 109.5h1M474 87.5h1M464 106.5h1M455 88.5h1M460 108.5h1M451 87.5h1M453 96.5h1M452 93.5h1M459 86.5h1M461 94.5h1M445 104.5h1M460 89.5h1M448 103.5h1M460 88.5h1M455 93.5h1M462 108.5h1M458 101.5h1M449 124.5h1M434 109.5h1M459 105.5h1M460 75.5h1M457 92.5h1M455 95.5h1M457 99.5h1M440 89.5h1M467 123.5h1M460 106.5h1M470 111.5h1M447 100.5h1M462 100.5h1M455 105.5h1M463 121.5h1M452 97.5h1M470 105.5h1M467 96.5h1M463 78.5h1M461 119.5h1M467 83.5h1M464 89.5h1M468 114.5h1M437 101.5h1M435 99.5h1M472 120.5h1M463 108.5h1M465 128.5h1M464 109.5h1M473 90.5h1M453 109.5h1M472 100.5h1M440 95.5h1M459 120.5h1M455 104.5h1M429 104.5h1M470 103.5h1M440 102.5h1M451 104.5h1M452 108.5h1M447 111.5h1M464 122.5h1M448 108.5h1M456 104.5h1M465 112.5h1M456 119.5h1M446 104.5h1M456 125.5h1M448 101.5h1M448 109.5h1M447 108.5h1M456 109.5h1M459 84.5h1M451 109.5h1M459 80.5h1M449 114.5h1M458 120.5h1M444 96.5h1M447 97.5h1M459 91.5h1M446 114.5h1M453 106.5h1M465 118.5h1M450 96.5h1M459 119.5h1M481 111.5h1M460 110.5h1M467 93.5h1M453 89.5h1M453 115.5h1M467 106.5h1M461 101.5h1M441 108.5h1M446 123.5h1M460 111.5h1M471 103.5h1M450 104.5h1M458 96.5h1M440 126.5h1M462 83.5h1M465 113.5h1M456 88.5h1M483 109.5h1M448 111.5h1M464 121.5h1M447 96.5h1M475 92.5h1M463 97.5h1M447 91.5h1M463 110.5h1M464 92.5h1M459 115.5h1M461 97.5h1M459 94.5h1M468 98.5h1M461 105.5h1M460 96.5h1M469 108.5h1M455 72.5h1M445 102.5h1M452 98.5h1M464 93.5h1M446 107.5h1M454 94.5h1M457 125.5h1M453 87.5h1M464 107.5h1M454 103.5h1M460 105.5h1M453 90.5h1M450 105.5h1M454 95.5h1M456 91.5h1M446 95.5h1M457 115.5h1M459 100.5h1M462 107.5h1M457 129.5h1M471 105.5h1M446 100.5h1M457 121.5h1M462 122.5h1M437 107.5h1M466 113.5h1M448 112.5h1M456 96.5h1M472 90.5h1M462 96.5h1M435 115.5h1M445 108.5h1M455 101.5h1M461 108.5h1M462 103.5h1M468 90.5h1M462 110.5h1M479 108.5h1M459 112.5h1M457 104.5h1M452 94.5h1M455 108.5h1M453 117.5h1M463 80.5h1M457 103.5h1M473 101.5h1M456 117.5h1M437 111.5h1M441 123.5h1M462 116.5h1M452 85.5h1M450 110.5h1M448 107.5h1M449 95.5h1M454 106.5h1M452 89.5h1M456 99.5h1M466 117.5h1M457 96.5h1M462 115.5h1M456 81.5h1M455 110.5h1M445 98.5h1M470 117.5h1M462 87.5h1M430 117.5h1M458 97.5h1M454 113.5h1M453 102.5h1M458 103.5h1M458 121.5h1M448 114.5h1M463 101.5h1M461 98.5h1M467 107.5h1M456 118.5h1M450 95.5h1M451 102.5h1M447 114.5h1M460 114.5h1M470 108.5h1M453 86.5h1M464 100.5h1M443 118.5h1M469 73.5h1M449 111.5h1M464 111.5h1M459 103.5h1M465 108.5h1M452 84.5h1M453 107.5h1M454 93.5h1M480 109.5h1M459 102.5h1M452 121.5h1M462 109.5h1M448 118.5h1M460 120.5h1M482 108.5h1M472 101.5h1M463 111.5h1M465 104.5h1M456 102.5h1M458 115.5h1M447 106.5h1M446 102.5h1M452 113.5h1M456 112.5h1M448 93.5h1M457 90.5h1M458 111.5h1M441 136.5h1M460 109.5h1M472 105.5h1M451 108.5h1M453 105.5h1M462 102.5h1M457 119.5h1M442 96.5h1M465 90.5h1M469 107.5h1M466 84.5h1M462 133.5h1M456 113.5h1M480 87.5h1M460 125.5h1M449 92.5h1M446 103.5h1M477 112.5h1M453 100.5h1M464 102.5h1M453 83.5h1M454 66.5h1M440 96.5h1M453 113.5h1M443 113.5h1M461 109.5h1M441 114.5h1M468 108.5h1M447 118.5h1M449 106.5h1M452 134.5h1M444 99.5h1M455 97.5h1M450 100.5h1M465 102.5h1M467 116.5h1M466 108.5h1M454 88.5h1M446 97.5h1M464 113.5h1M452 106.5h1M451 96.5h1M436 82.5h1M467 124.5h1M448 105.5h1M447 92.5h1M462 134.5h1M471 108.5h1M449 110.5h1M463 106.5h1M453 88.5h1M462 97.5h1M433 96.5h1M465 115.5h1M469 97.5h1M469 103.5h1M451 99.5h1M454 87.5h1M471 102.5h1M444 107.5h1M458 90.5h1M469 114.5h1M455 116.5h1M458 107.5h1M475 106.5h1M458 113.5h1M460 95.5h1M458 94.5h1M451 78.5h1M454 118.5h1M438 115.5h1M447 119.5h1M465 96.5h1M453 99.5h1M467 108.5h1M461 116.5h1M450 111.5h1M472 84.5h1M474 95.5h1M464 99.5h1M468 100.5h1M453 123.5h1M458 114.5h1M441 97.5h1M450 87.5h1M456 90.5h1M462 117.5h1M441 118.5h1M442 97.5h1M451 90.5h1M462 89.5h1M471 92.5h1M466 100.5h1M465 63.5h1M443 98.5h1M436 83.5h1M464 112.5h1M476 105.5h1M442 112.5h1M452 119.5h1M472 87.5h1M444 112.5h1M459 110.5h1M462 98.5h1M459 90.5h1M454 81.5h1M462 113.5h1M454 86.5h1M481 67.5h1M440 88.5h1M448 106.5h1M475 101.5h1M461 95.5h1M452 102.5h1M464 110.5h1M462 94.5h1M455 107.5h1M463 123.5h1M457 102.5h1M459 104.5h1M453 92.5h1M456 89.5h1M467 112.5h1M455 98.5h1M466 87.5h1M475 100.5h1M474 115.5h1M449 112.5h1M453 111.5h1M442 111.5h1M450 117.5h1M444 88.5h1M455 86.5h1M474 102.5h1M449 115.5h1M451 117.5h1M462 84.5h1M456 122.5h1M442 114.5h1M460 118.5h1M465 123.5h1M459 81.5h1M465 101.5h1M441 116.5h1M480 96.5h1M459 87.5h1M440 109.5h1M458 99.5h1M451 110.5h1M459 125.5h1M474 109.5h1M445 132.5h1M469 110.5h1M444 120.5h1M439 98.5h1M457 112.5h1M464 123.5h1M466 119.5h1M459 116.5h1M454 117.5h1M474 83.5h1M446 105.5h1M453 124.5h1M446 91.5h1M474 108.5h1M453 93.5h1M447 90.5h1M449 99.5h1M453 85.5h1M469 89.5h1M461 114.5h1M450 91.5h1M462 99.5h1M449 118.5h1M436 98.5h1M453 122.5h1M470 116.5h1M445 115.5h1M458 95.5h1M454 122.5h1M457 116.5h1M468 117.5h1M458 92.5h1M451 116.5h1M458 106.5h1M438 117.5h1M445 118.5h1M463 95.5h1M439 110.5h1M455 122.5h1M457 118.5h1M472 110.5h1M465 91.5h1M450 92.5h1M456 84.5h1M455 112.5h1M451 79.5h1M469 113.5h1M453 82.5h1M455 115.5h1M458 100.5h1M466 102.5h1M476 95.5h1M464 114.5h1M461 126.5h1M447 80.5h1M438 120.5h1M459 93.5h1M447 124.5h1M473 110.5h1M452 103.5h1M451 105.5h1M445 91.5h1M461 107.5h1M455 81.5h1M455 109.5h1M451 115.5h1M456 124.5h1M450 99.5h1M452 112.5h1M470 121.5h1M450 130.5h1M469 106.5h1M464 117.5h1M444 98.5h1M470 87.5h1M447 107.5h1M467 109.5h1M460 98.5h1M451 103.5h1M468 104.5h1M461 112.5h1M445 88.5h1M470 127.5h1M448 115.5h1M455 111.5h1M462 104.5h1M462 93.5h1M470 99.5h1M478 99.5h1M448 98.5h1M469 104.5h1M465 109.5h1M448 92.5h1M460 87.5h1M464 97.5h1M455 106.5h1M460 92.5h1M457 91.5h1M448 82.5h1M455 100.5h1M465 121.5h1M439 120.5h1M452 104.5h1M449 102.5h1M472 113.5h1M456 114.5h1M473 115.5h1M448 122.5h1M452 92.5h1M464 118.5h1M479 107.5h1M472 115.5h1M442 95.5h1M454 76.5h1M448 99.5h1M458 132.5h1M468 116.5h1M447 95.5h1M452 96.5h1M469 109.5h1M447 123.5h1M442 88.5h1M440 103.5h1M444 108.5h1M474 104.5h1M457 86.5h1M457 108.5h1M471 95.5h1M475 107.5h1M456 115.5h1M450 77.5h1M450 126.5h1M466 105.5h1M446 128.5h1M455 142.5h1M472 94.5h1M467 90.5h1M464 84.5h1M462 86.5h1M454 108.5h1M470 114.5h1M445 112.5h1M470 115.5h1M472 117.5h1M467 102.5h1M454 120.5h1M446 87.5h1M473 103.5h1M441 104.5h1M461 110.5h1M434 89.5h1M476 125.5h1M460 126.5h1M472 99.5h1" stroke="#ec2238" stroke-width="1.0" fill="none" id="d8"/></g>
<use href="#d8" stroke-opacity="1.0"/>
<g opacity="0.5" filter="url(#hz)"><path d="M485 121.5h1M458 104.5h1M470 104.5h1M461 128.5h1M456 102.5h1M455 152.5h1M431 111.5h1M467 87.5h1M459 88.5h1M416 86.5h1M462 122.5h1M433 78.5h1M460 106.5h1M474 104.5h1M469 130.5h1M458 90.5h1M470 108.5h1M464 92.5h1M467 138.5h1M430 135.5h1M458 105.5h1M431 113.5h1M441 110.5h1M461 109.5h1M436 116.5h1M431 112.5h1M431 129.5h1M447 139.5h1M442 96.5h1M444 106.5h1M427 112.5h1M480 144.5h1M432 101.5h1M444 76.5h1M461 100.5h1M469 108.5h1M468 89.5h1M474 82.5h1M450 125.5h1M439 94.5h1M466 121.5h1M453 124.5h1M457 162.5h1M433 108.5h1M484 125.5h1M457 78.5h1M451 130.5h1M451 92.5h1M441 122.5h1M426 146.5h1M450 139.5h1M446 92.5h1M464 129.5h1M484 118.5h1M472 102.5h1M451 106.5h1M456 112.5h1M472 79.5h1M460 111.5h1M428 125.5h1M430 138.5h1M422 111.5h1M450 122.5h1M437 102.5h1M472 127.5h1M475 152.5h1M487 111.5h1M483 125.5h1M431 97.5h1M443 105.5h1M441 140.5h1M428 130.5h1M436 124.5h1M448 65.5h1M473 114.5h1M424 131.5h1M457 119.5h1M481 147.5h1M433 101.5h1M435 128.5h1M486 114.5h1M451 91.5h1M463 112.5h1M476 119.5h1M410 87.5h1M448 84.5h1M412 74.5h1M454 90.5h1M458 113.5h1M430 126.5h1M430 133.5h1M451 109.5h1M445 97.5h1M491 104.5h1M451 113.5h1M497 128.5h1M445 81.5h1M441 100.5h1M454 154.5h1M436 83.5h1M447 74.5h1M489 79.5h1M443 82.5h1M448 69.5h1M442 91.5h1M463 97.5h1M419 123.5h1M449 117.5h1M475 112.5h1M474 90.5h1M473 113.5h1M430 123.5h1M440 113.5h1M461 79.5h1M477 128.5h1M423 125.5h1M433 120.5h1M476 97.5h1M442 115.5h1M461 116.5h1M461 87.5h1M464 105.5h1M428 112.5h1M445 104.5h1M437 114.5h1M445 112.5h1M456 121.5h1M434 116.5h1M433 92.5h1M432 110.5h1M467 84.5h1M433 123.5h1M486 95.5h1M455 128.5h1M416 125.5h1M464 96.5h1M439 133.5h1M483 80.5h1M462 103.5h1M440 163.5h1M471 150.5h1M472 121.5h1M465 104.5h1M443 106.5h1M442 102.5h1M445 115.5h1M440 143.5h1M471 139.5h1M465 96.5h1M431 98.5h1M489 115.5h1M494 70.5h1M458 96.5h1M456 113.5h1M456 126.5h1M432 104.5h1M429 111.5h1M488 119.5h1M477 96.5h1M452 79.5h1M434 132.5h1M432 122.5h1M451 102.5h1M449 126.5h1M442 118.5h1M454 102.5h1M452 102.5h1M476 121.5h1M446 111.5h1M461 120.5h1M489 132.5h1M447 101.5h1M472 101.5h1M461 107.5h1M455 112.5h1M415 96.5h1M449 92.5h1M453 117.5h1M436 81.5h1M455 80.5h1M454 80.5h1M446 99.5h1M434 100.5h1M420 92.5h1M474 123.5h1M459 112.5h1M431 131.5h1M461 113.5h1M447 120.5h1M447 93.5h1M443 130.5h1M422 81.5h1M438 118.5h1M462 104.5h1M475 107.5h1M430 160.5h1M444 127.5h1M455 93.5h1M439 92.5h1M447 76.5h1M466 85.5h1M476 154.5h1M465 133.5h1M461 101.5h1M437 155.5h1M428 97.5h1M451 131.5h1M443 119.5h1M427 122.5h1M476 100.5h1M483 86.5h1M424 100.5h1M466 115.5h1M480 108.5h1M486 134.5h1M462 85.5h1M470 95.5h1M445 106.5h1M476 98.5h1M446 123.5h1M479 96.5h1M454 114.5h1M433 87.5h1M452 105.5h1M446 105.5h1M427 126.5h1M471 129.5h1M445 129.5h1M455 121.5h1M462 152.5h1M448 118.5h1M461 108.5h1M440 141.5h1M479 105.5h1M470 126.5h1M445 73.5h1M457 124.5h1M449 101.5h1M451 93.5h1M461 72.5h1M431 103.5h1M450 123.5h1M467 152.5h1M427 125.5h1M447 103.5h1M458 80.5h1M464 125.5h1M474 117.5h1M450 93.5h1M452 134.5h1M453 120.5h1M465 119.5h1M459 117.5h1M427 143.5h1M473 79.5h1M448 95.5h1M455 117.5h1M459 109.5h1M453 78.5h1M469 103.5h1M429 141.5h1M417 102.5h1M429 119.5h1M445 119.5h1M443 147.5h1M438 131.5h1M410 89.5h1M453 88.5h1M494 124.5h1M482 107.5h1M436 93.5h1M466 107.5h1M489 123.5h1M428 117.5h1M449 97.5h1M455 97.5h1M491 110.5h1M450 135.5h1M444 97.5h1M438 138.5h1M457 114.5h1M459 97.5h1M466 142.5h1M453 96.5h1M416 81.5h1M454 111.5h1M470 107.5h1M435 91.5h1M451 103.5h1M442 100.5h1M472 81.5h1M480 126.5h1M447 116.5h1M468 124.5h1M467 119.5h1M436 112.5h1M444 112.5h1M429 105.5h1M443 150.5h1M448 100.5h1M416 98.5h1M435 105.5h1M396 140.5h1M442 113.5h1M476 124.5h1M437 135.5h1M423 99.5h1M472 115.5h1M454 104.5h1M434 112.5h1M429 99.5h1M468 141.5h1M476 141.5h1M452 150.5h1M439 81.5h1M412 144.5h1M437 140.5h1M477 136.5h1M445 87.5h1M475 122.5h1M452 138.5h1M439 87.5h1M465 103.5h1M440 94.5h1M473 102.5h1M478 97.5h1M474 96.5h1M476 125.5h1M448 129.5h1M435 102.5h1M463 77.5h1M476 88.5h1M461 106.5h1M460 78.5h1M458 134.5h1M474 102.5h1M453 119.5h1M465 99.5h1M446 110.5h1M455 119.5h1M451 86.5h1M461 96.5h1M481 91.5h1M439 138.5h1M409 78.5h1M462 98.5h1M485 120.5h1M455 146.5h1M444 113.5h1M434 127.5h1M460 99.5h1M471 127.5h1M455 89.5h1M451 82.5h1M456 122.5h1M446 119.5h1M445 149.5h1M432 88.5h1M474 83.5h1M468 116.5h1M445 126.5h1M456 93.5h1M456 149.5h1M457 127.5h1M477 129.5h1M447 81.5h1M451 80.5h1M474 78.5h1M462 107.5h1M469 91.5h1M425 109.5h1M463 102.5h1M450 158.5h1M426 126.5h1M471 101.5h1M428 109.5h1M444 68.5h1M472 103.5h1M478 81.5h1M429 98.5h1M437 105.5h1M466 102.5h1M449 90.5h1M445 91.5h1M465 75.5h1M485 64.5h1M429 120.5h1M453 123.5h1M427 91.5h1M464 81.5h1M474 92.5h1M438 110.5h1M455 70.5h1M457 115.5h1M453 102.5h1M480 112.5h1M466 128.5h1M459 120.5h1M459 111.5h1M455 86.5h1M416 169.5h1M446 103.5h1M494 112.5h1M463 151.5h1M437 94.5h1M424 97.5h1M443 89.5h1M456 99.5h1M437 147.5h1M439 115.5h1M457 95.5h1M452 97.5h1M457 118.5h1M461 121.5h1M436 127.5h1M453 115.5h1M459 139.5h1M429 86.5h1M451 112.5h1M449 98.5h1M443 117.5h1M423 135.5h1M439 107.5h1M436 96.5h1M465 90.5h1M462 121.5h1M450 115.5h1M467 92.5h1M469 73.5h1M455 111.5h1M442 140.5h1M467 73.5h1M415 108.5h1M450 99.5h1M441 119.5h1M424 162.5h1M460 90.5h1M458 112.5h1M455 109.5h1M445 108.5h1M463 105.5h1M439 99.5h1M457 146.5h1M473 122.5h1M474 110.5h1M481 79.5h1M451 129.5h1M460 112.5h1M421 103.5h1M447 99.5h1M455 87.5h1M452 104.5h1M470 100.5h1M441 115.5h1M448 93.5h1M439 86.5h1M451 139.5h1M425 110.5h1M435 100.5h1M440 116.5h1M459 136.5h1M462 155.5h1M481 93.5h1M424 112.5h1M459 129.5h1M447 140.5h1M437 119.5h1M435 86.5h1M434 158.5h1M475 106.5h1M464 103.5h1M440 136.5h1M447 118.5h1M467 145.5h1M423 146.5h1M435 151.5h1M493 131.5h1M439 110.5h1M468 79.5h1M453 122.5h1M470 111.5h1M446 133.5h1M464 128.5h1M448 111.5h1M452 91.5h1M472 80.5h1M446 89.5h1M441 88.5h1M461 80.5h1M466 124.5h1M465 102.5h1M488 149.5h1M473 128.5h1M459 102.5h1M490 103.5h1M459 128.5h1M473 97.5h1M463 126.5h1M446 121.5h1M456 104.5h1M441 136.5h1M439 117.5h1M450 126.5h1M442 119.5h1M438 104.5h1M428 90.5h1M476 90.5h1M483 117.5h1M448 96.5h1M465 126.5h1M450 108.5h1M450 105.5h1M487 115.5h1M454 142.5h1M469 110.5h1M442 86.5h1M444 79.5h1M445 85.5h1M443 118.5h1M464 107.5h1M440 109.5h1M448 103.5h1M478 93.5h1M456 82.5h1M466 108.5h1M482 114.5h1M456 134.5h1M450 94.5h1M470 91.5h1M453 151.5h1M458 145.5h1M448 102.5h1M433 131.5h1M472 88.5h1M420 124.5h1M488 133.5h1M434 120.5h1M462 77.5h1M403 113.5h1M447 82.5h1M464 110.5h1M447 104.5h1M432 111.5h1M454 99.5h1M475 102.5h1M434 79.5h1M414 121.5h1M418 180.5h1M413 153.5h1M413 196.5h1M404 150.5h1M434 138.5h1M424 189.5h1M428 151.5h1M459 190.5h1M422 163.5h1M407 90.5h1M440 154.5h1M436 193.5h1M427 156.5h1M433 186.5h1M408 116.5h1M409 138.5h1M442 145.5h1M413 152.5h1M439 167.5h1M413 172.5h1M426 154.5h1M405 186.5h1M425 130.5h1M432 167.5h1M434 149.5h1M416 113.5h1M411 141.5h1M406 197.5h1M447 157.5h1M440 91.5h1M410 178.5h1M432 143.5h1M437 110.5h1M414 180.5h1M409 165.5h1M430 102.5h1M425 163.5h1M408 159.5h1M412 157.5h1M437 156.5h1M411 117.5h1M413 150.5h1M445 131.5h1M403 166.5h1M436 132.5h1M403 163.5h1M421 196.5h1M410 149.5h1M406 124.5h1M444 155.5h1M438 148.5h1M420 144.5h1M402 155.5h1M406 107.5h1M447 177.5h1M405 185.5h1M414 182.5h1M404 114.5h1M418 166.5h1M426 132.5h1M429 145.5h1M430 161.5h1M424 153.5h1M428 191.5h1M415 154.5h1M413 161.5h1M428 143.5h1M410 188.5h1M433 166.5h1M426 137.5h1M403 137.5h1M456 183.5h1M416 128.5h1M402 149.5h1M416 144.5h1M418 165.5h1M413 149.5h1M425 141.5h1M403 184.5h1M401 129.5h1M417 193.5h1M404 146.5h1M416 104.5h1M416 142.5h1M433 185.5h1M429 89.5h1M403 161.5h1M418 191.5h1M433 162.5h1M431 101.5h1M416 180.5h1M421 122.5h1M415 189.5h1M403 132.5h1M438 89.5h1M423 167.5h1M432 166.5h1M428 138.5h1M435 111.5h1M409 175.5h1M415 159.5h1M425 135.5h1M420 110.5h1M410 156.5h1M405 114.5h1M408 139.5h1M401 171.5h1M419 115.5h1M423 174.5h1M443 112.5h1M404 190.5h1M403 174.5h1M432 173.5h1M423 182.5h1M435 186.5h1M412 95.5h1M441 157.5h1M413 195.5h1M413 138.5h1M415 144.5h1M406 164.5h1M419 151.5h1M420 180.5h1M452 124.5h1M410 113.5h1M430 175.5h1M410 81.5h1M420 172.5h1M417 188.5h1M446 193.5h1M443 165.5h1M409 193.5h1M422 137.5h1M419 189.5h1M433 99.5h1M441 128.5h1M409 154.5h1M441 95.5h1M406 115.5h1M428 119.5h1M408 189.5h1M437 198.5h1M431 158.5h1M405 102.5h1M401 178.5h1M465 122.5h1M432 155.5h1M421 194.5h1M459 173.5h1M421 77.5h1M439 134.5h1M441 158.5h1M403 112.5h1M430 162.5h1M425 153.5h1M409 147.5h1M432 91.5h1M409 105.5h1M414 97.5h1M420 134.5h1M409 155.5h1M446 177.5h1M426 144.5h1M417 132.5h1M427 175.5h1M408 149.5h1M405 152.5h1M428 108.5h1M432 92.5h1M433 113.5h1M401 182.5h1M418 97.5h1M409 153.5h1M402 133.5h1M404 154.5h1M422 161.5h1M416 196.5h1M437 128.5h1M409 79.5h1M414 175.5h1M408 153.5h1M419 169.5h1M410 190.5h1M407 101.5h1M428 186.5h1M413 102.5h1M432 130.5h1M433 115.5h1M434 99.5h1M421 111.5h1M430 179.5h1M445 176.5h1M410 151.5h1M421 160.5h1M421 108.5h1M413 120.5h1M430 184.5h1M401 170.5h1M426 172.5h1M406 173.5h1M415 183.5h1M409 139.5h1M435 158.5h1M428 107.5h1M411 197.5h1M425 123.5h1M439 158.5h1M419 113.5h1M418 174.5h1M417 166.5h1M418 162.5h1M402 125.5h1M410 95.5h1M412 161.5h1M407 196.5h1M409 88.5h1M419 103.5h1M438 126.5h1M451 89.5h1M416 101.5h1M444 134.5h1M416 133.5h1M425 167.5h1M444 95.5h1M401 197.5h1M421 176.5h1M429 109.5h1M417 170.5h1M413 177.5h1M403 146.5h1M443 135.5h1M432 184.5h1M427 94.5h1M435 84.5h1M412 180.5h1M443 195.5h1M402 102.5h1M426 189.5h1M422 170.5h1M432 180.5h1M439 174.5h1M417 186.5h1M432 123.5h1M416 191.5h1M405 89.5h1M416 123.5h1M428 102.5h1M403 195.5h1M411 138.5h1M417 120.5h1M420 189.5h1M402 176.5h1M416 163.5h1M412 179.5h1M423 169.5h1M426 178.5h1M406 166.5h1M431 179.5h1M413 139.5h1M415 156.5h1M434 183.5h1M413 173.5h1M422 127.5h1M405 120.5h1M414 189.5h1M437 124.5h1M432 116.5h1M412 115.5h1M440 167.5h1M418 111.5h1M416 79.5h1M436 192.5h1M404 127.5h1M414 84.5h1M422 174.5h1M430 164.5h1M423 177.5h1M420 137.5h1M412 96.5h1M414 179.5h1M442 84.5h1M432 154.5h1M436 172.5h1M433 117.5h1M413 188.5h1M426 194.5h1M410 147.5h1M415 119.5h1M432 134.5h1M412 176.5h1M440 140.5h1M404 163.5h1M436 133.5h1M410 184.5h1M431 169.5h1M423 131.5h1M433 175.5h1M410 160.5h1M426 92.5h1M412 128.5h1M416 109.5h1M401 145.5h1M416 160.5h1M436 151.5h1M415 150.5h1M421 110.5h1M412 165.5h1M406 140.5h1M419 101.5h1M411 72.5h1M406 143.5h1M406 105.5h1M407 179.5h1M419 135.5h1M419 188.5h1M411 172.5h1M415 195.5h1M420 179.5h1M409 116.5h1M408 165.5h1M415 170.5h1M447 127.5h1M450 157.5h1M428 122.5h1M456 164.5h1M430 129.5h1M426 153.5h1M438 157.5h1M488 100.5h1M446 117.5h1M443 120.5h1M417 137.5h1M457 131.5h1M457 182.5h1M449 170.5h1M444 133.5h1M474 134.5h1M471 168.5h1M466 119.5h1M425 118.5h1M434 180.5h1M410 93.5h1M488 192.5h1M454 103.5h1M425 143.5h1M478 169.5h1M429 97.5h1M453 169.5h1M440 172.5h1M431 134.5h1M442 124.5h1M445 153.5h1M454 182.5h1M452 130.5h1M446 174.5h1M461 159.5h1M444 159.5h1M459 159.5h1M438 143.5h1M479 142.5h1M424 140.5h1M450 86.5h1M426 89.5h1M437 154.5h1M449 188.5h1M432 84.5h1M467 113.5h1M444 99.5h1M421 139.5h1M431 139.5h1M463 130.5h1M456 182.5h1M457 185.5h1M451 182.5h1M467 115.5h1M431 183.5h1M466 153.5h1M483 154.5h1M410 115.5h1M449 190.5h1M426 159.5h1M453 177.5h1M446 165.5h1M458 142.5h1M424 139.5h1M474 118.5h1M427 154.5h1M424 187.5h1" stroke="#e63e5c" stroke-width="1.0" fill="none" id="d9"/></g>
<use href="#d9" stroke-opacity="1.0"/>
</g>
<ellipse cx="458" cy="103" rx="5" ry="5" fill="#f01420" filter="url(#bl2)"/>
<path d="M367 60.5h1.6M377 55.5h1.6M386 47.5h1.6M358 55.5h1.6M371 56.5h1.6M385 35.5h1.6M386 54.5h1.6M368 54.5h1.6M372 48.5h1.6M374 47.5h1.6M382 43.5h1.6M398 50.5h1.6M356 57.5h1.6M374 56.5h1.6M373 42.5h1.6M387 60.5h1.6M345 57.5h1.6M383 48.5h1.6M384 53.5h1.6M359 60.5h1.6M393 55.5h1.6M375 52.5h1.6M390 63.5h1.6M394 59.5h1.6M362 60.5h1.6M373 58.5h1.6M378 57.5h1.6M361 60.5h1.6M354 60.5h1.6M396 44.5h1.6M374 68.5h1.6M385 54.5h1.6M387 56.5h1.6M385 55.5h1.6M350 71.5h1.6M400 50.5h1.6M391 47.5h1.6M372 54.5h1.6M399 53.5h1.6M365 60.5h1.6M366 65.5h1.6M386 64.5h1.6M349 54.5h1.6M346 51.5h1.6M366 67.5h1.6M389 63.5h1.6M379 45.5h1.6M419 63.5h1.6M402 49.5h1.6M389 46.5h1.6M360 53.5h1.6M370 57.5h1.6M362 61.5h1.6M350 59.5h1.6M352 55.5h1.6M420 37.5h1.6M381 47.5h1.6M348 62.5h1.6M383 47.5h1.6M364 58.5h1.6M361 40.5h1.6M415 45.5h1.6M401 39.5h1.6M373 68.5h1.6M377 46.5h1.6M411 40.5h1.6M395 60.5h1.6M349 47.5h1.6M391 65.5h1.6M367 51.5h1.6M388 50.5h1.6M397 44.5h1.6M404 53.5h1.6M344 52.5h1.6M369 52.5h1.6M405 63.5h1.6M356 50.5h1.6M364 63.5h1.6M354 53.5h1.6M349 42.5h1.6M400 49.5h1.6M356 61.5h1.6M363 54.5h1.6M360 55.5h1.6M363 44.5h1.6M392 55.5h1.6M387 46.5h1.6M363 59.5h1.6M375 62.5h1.6M364 67.5h1.6M387 45.5h1.6M364 44.5h1.6M374 40.5h1.6M390 51.5h1.6M356 51.5h1.6M372 43.5h1.6M353 35.5h1.6M368 50.5h1.6M404 58.5h1.6M369 45.5h1.6M338 61.5h1.6M372 56.5h1.6M364 50.5h1.6M372 49.5h1.6M387 43.5h1.6M361 47.5h1.6M347 61.5h1.6M391 55.5h1.6M376 46.5h1.6M357 58.5h1.6M405 67.5h1.6M383 72.5h1.6M377 67.5h1.6M358 66.5h1.6M359 57.5h1.6M377 45.5h1.6M390 45.5h1.6M419 59.5h1.6M407 44.5h1.6M369 55.5h1.6M340 46.5h1.6M336 55.5h1.6M367 52.5h1.6M400 45.5h1.6M356 62.5h1.6M351 56.5h1.6M369 61.5h1.6M402 55.5h1.6M378 48.5h1.6M378 54.5h1.6M371 50.5h1.6M375 59.5h1.6M399 56.5h1.6M373 49.5h1.6M350 55.5h1.6M401 65.5h1.6M372 42.5h1.6M360 61.5h1.6M386 50.5h1.6M380 67.5h1.6M391 53.5h1.6M353 57.5h1.6M406 55.5h1.6M415 46.5h1.6M369 62.5h1.6M358 52.5h1.6M399 55.5h1.6M394 51.5h1.6M388 47.5h1.6M373 46.5h1.6M398 47.5h1.6M386 45.5h1.6M381 46.5h1.6M372 51.5h1.6M399 47.5h1.6M375 60.5h1.6M347 58.5h1.6M420 48.5h1.6M365 55.5h1.6M383 42.5h1.6M376 51.5h1.6M383 57.5h1.6M397 54.5h1.6M379 47.5h1.6M367 58.5h1.6M392 40.5h1.6M389 52.5h1.6M368 49.5h1.6M374 51.5h1.6M402 44.5h1.6M347 60.5h1.6M336 47.5h1.6M382 41.5h1.6M396 63.5h1.6M381 55.5h1.6M380 46.5h1.6M373 62.5h1.6M387 57.5h1.6M372 39.5h1.6M413 54.5h1.6M390 61.5h1.6M392 61.5h1.6M413 44.5h1.6M387 66.5h1.6" stroke="#1a1a1a" stroke-width="1.6" stroke-opacity="1.0" fill="none"/>
<rect x="322.3" y="19.5" width="178.2" height="179.5" fill="none" stroke="#1a1a1a" stroke-width="1.4"/>
<path d="M322.3,199v4.5M322.3,199.0h-4.5M335.7,199v2.2M322.3,185.5h-2.2M343.6,199v2.2M322.3,177.6h-2.2M349.1,199v2.2M322.3,172.0h-2.2M353.4,199v2.2M322.3,167.6h-2.2M357.0,199v2.2M322.3,164.1h-2.2M359.9,199v2.2M322.3,161.1h-2.2M362.5,199v2.2M322.3,158.5h-2.2M364.8,199v2.2M322.3,156.2h-2.2M366.9,199v4.5M322.3,154.1h-4.5M380.3,199v2.2M322.3,140.6h-2.2M388.1,199v2.2M322.3,132.7h-2.2M393.7,199v2.2M322.3,127.1h-2.2M398.0,199v2.2M322.3,122.8h-2.2M401.5,199v2.2M322.3,119.2h-2.2M404.5,199v2.2M322.3,116.2h-2.2M407.1,199v2.2M322.3,113.6h-2.2M409.4,199v2.2M322.3,111.3h-2.2M411.4,199v4.5M322.3,109.2h-4.5M424.8,199v2.2M322.3,95.7h-2.2M432.7,199v2.2M322.3,87.8h-2.2M438.2,199v2.2M322.3,82.2h-2.2M442.5,199v2.2M322.3,77.9h-2.2M446.1,199v2.2M322.3,74.3h-2.2M449.0,199v2.2M322.3,71.3h-2.2M451.6,199v2.2M322.3,68.7h-2.2M453.9,199v2.2M322.3,66.4h-2.2M455.9,199v4.5M322.3,64.4h-4.5M469.4,199v2.2M322.3,50.9h-2.2M477.2,199v2.2M322.3,43.0h-2.2M482.8,199v2.2M322.3,37.4h-2.2M487.1,199v2.2M322.3,33.0h-2.2M490.6,199v2.2M322.3,29.5h-2.2M493.6,199v2.2M322.3,26.5h-2.2M496.2,199v2.2M322.3,23.8h-2.2M498.5,199v2.2M322.3,21.6h-2.2M500.5,199v4.5M322.3,19.5h-4.5" stroke="#1a1a1a" stroke-width="1" fill="none"/>
<text x="318.8" y="211" font-family='"Liberation Sans", sans-serif' font-weight="bold" font-size="6.3" fill="#222" stroke="#222" stroke-width="0.35">10<tspan dy="-2.5" font-size="4.6">0</tspan></text>
<text transform="translate(316.3,202.5) rotate(-90)" font-family='"Liberation Sans", sans-serif' font-weight="bold" font-size="6.3" fill="#222" stroke="#222" stroke-width="0.35">10<tspan dy="-2.5" font-size="4.6">0</tspan></text>
<text x="363.4" y="211" font-family='"Liberation Sans", sans-serif' font-weight="bold" font-size="6.3" fill="#222" stroke="#222" stroke-width="0.35">10<tspan dy="-2.5" font-size="4.6">1</tspan></text>
<text transform="translate(316.3,157.6) rotate(-90)" font-family='"Liberation Sans", sans-serif' font-weight="bold" font-size="6.3" fill="#222" stroke="#222" stroke-width="0.35">10<tspan dy="-2.5" font-size="4.6">1</tspan></text>
<text x="407.9" y="211" font-family='"Liberation Sans", sans-serif' font-weight="bold" font-size="6.3" fill="#222" stroke="#222" stroke-width="0.35">10<tspan dy="-2.5" font-size="4.6">2</tspan></text>
<text transform="translate(316.3,112.8) rotate(-90)" font-family='"Liberation Sans", sans-serif' font-weight="bold" font-size="6.3" fill="#222" stroke="#222" stroke-width="0.35">10<tspan dy="-2.5" font-size="4.6">2</tspan></text>
<text x="452.4" y="211" font-family='"Liberation Sans", sans-serif' font-weight="bold" font-size="6.3" fill="#222" stroke="#222" stroke-width="0.35">10<tspan dy="-2.5" font-size="4.6">3</tspan></text>
<text transform="translate(316.3,67.9) rotate(-90)" font-family='"Liberation Sans", sans-serif' font-weight="bold" font-size="6.3" fill="#222" stroke="#222" stroke-width="0.35">10<tspan dy="-2.5" font-size="4.6">3</tspan></text>
<text x="497.0" y="211" font-family='"Liberation Sans", sans-serif' font-weight="bold" font-size="6.3" fill="#222" stroke="#222" stroke-width="0.35">10<tspan dy="-2.5" font-size="4.6">4</tspan></text>
<text transform="translate(316.3,23.0) rotate(-90)" font-family='"Liberation Sans", sans-serif' font-weight="bold" font-size="6.3" fill="#222" stroke="#222" stroke-width="0.35">10<tspan dy="-2.5" font-size="4.6">4</tspan></text>
<text x="142.3" y="16.3" text-anchor="middle" font-family='"Liberation Serif", serif' font-weight="bold" font-size="18.5" fill="#111" stroke="#111" stroke-width="0.45">CASE 1</text>
<text x="410.9" y="15.8" text-anchor="middle" font-family='"Liberation Serif", serif' font-weight="bold" font-size="18.5" fill="#111" stroke="#111" stroke-width="0.45">CASE 3</text>
<text transform="translate(37.9,171.5) rotate(-90)" text-anchor="middle" font-family='"Liberation Serif", serif' font-weight="bold" font-size="14" fill="#111" stroke="#111" stroke-width="0.3">CD117 PE</text>
<text transform="translate(304.8,170.4) rotate(-90)" text-anchor="middle" font-family='"Liberation Serif", serif' font-weight="bold" font-size="14" fill="#111" stroke="#111" stroke-width="0.3">CD117 PE</text>
<text x="54" y="231.2" textLength="65.2" lengthAdjust="spacingAndGlyphs" font-family='"Liberation Serif", serif' font-weight="bold" font-size="14" fill="#111" stroke="#111" stroke-width="0.3">CD34 APC</text>
<text x="321.7" y="229.9" textLength="64.8" lengthAdjust="spacingAndGlyphs" font-family='"Liberation Serif", serif' font-weight="bold" font-size="14" fill="#111" stroke="#111" stroke-width="0.3">CD34 APC</text>
<text x="0" y="19.6" font-family='"Liberation Sans", sans-serif' font-weight="bold" font-size="25.5" fill="#111">A</text>
<text x="268.6" y="20.2" font-family='"Liberation Sans", sans-serif' font-weight="bold" font-size="25.5" fill="#111">B</text>
<text x="0" y="257" font-family='"Liberation Sans", sans-serif' font-weight="bold" font-size="25.5" fill="#111">C</text>
<text x="269" y="257" font-family='"Liberation Sans", sans-serif' font-weight="bold" font-size="25.5" fill="#111">D</text>
<text x="0" y="491.8" font-family='"Liberation Sans", sans-serif' font-weight="bold" font-size="25.5" fill="#111">E</text>
<text x="268.8" y="491.8" font-family='"Liberation Sans", sans-serif' font-weight="bold" font-size="25.5" fill="#111">F</text>
<path d="M53.5,263.4V431.2M45.5,431.2H242.2M53.5,263.4h-8M53.5,280.2h-8M53.5,297.0h-8M53.5,313.7h-8M53.5,330.5h-8M53.5,347.3h-8M53.5,364.1h-8M53.5,380.9h-8M53.5,397.6h-8M53.5,414.4h-8M53.5,271.8h-3.8M53.5,288.6h-3.8M53.5,305.4h-3.8M53.5,322.1h-3.8M53.5,338.9h-3.8M53.5,355.7h-3.8M53.5,372.5h-3.8M53.5,389.2h-3.8M53.5,406.0h-3.8M53.5,422.8h-3.8M54.0,431.2v8M62.5,431.2v3.8M71.1,431.2v8M79.7,431.2v3.8M88.2,431.2v8M96.8,431.2v3.8M105.3,431.2v8M113.9,431.2v3.8M122.4,431.2v8M130.9,431.2v3.8M139.5,431.2v8M148.1,431.2v3.8M156.6,431.2v8M165.2,431.2v3.8M173.7,431.2v8M182.2,431.2v3.8M190.8,431.2v8M199.4,431.2v3.8M207.9,431.2v8M216.5,431.2v3.8M225.0,431.2v8M233.6,431.2v3.8M242.1,431.2v8" stroke="#1a1a1a" stroke-width="1.3" fill="none"/>
<text x="40.9" y="267.6" text-anchor="end" textLength="21.8" lengthAdjust="spacingAndGlyphs" font-family='"Liberation Serif", serif' font-weight="bold" font-size="12.0" fill="#111" stroke="#111" stroke-width="0.2">0.09</text>
<text x="40.9" y="284.4" text-anchor="end" textLength="21.8" lengthAdjust="spacingAndGlyphs" font-family='"Liberation Serif", serif' font-weight="bold" font-size="12.0" fill="#111" stroke="#111" stroke-width="0.2">0.08</text>
<text x="40.9" y="301.2" text-anchor="end" textLength="21.8" lengthAdjust="spacingAndGlyphs" font-family='"Liberation Serif", serif' font-weight="bold" font-size="12.0" fill="#111" stroke="#111" stroke-width="0.2">0.07</text>
<text x="40.9" y="317.9" text-anchor="end" textLength="21.8" lengthAdjust="spacingAndGlyphs" font-family='"Liberation Serif", serif' font-weight="bold" font-size="12.0" fill="#111" stroke="#111" stroke-width="0.2">0.06</text>
<text x="40.9" y="334.7" text-anchor="end" textLength="21.8" lengthAdjust="spacingAndGlyphs" font-family='"Liberation Serif", serif' font-weight="bold" font-size="12.0" fill="#111" stroke="#111" stroke-width="0.2">0.05</text>
<text x="40.9" y="351.5" text-anchor="end" textLength="21.8" lengthAdjust="spacingAndGlyphs" font-family='"Liberation Serif", serif' font-weight="bold" font-size="12.0" fill="#111" stroke="#111" stroke-width="0.2">0.04</text>
<text x="40.9" y="368.3" text-anchor="end" textLength="21.8" lengthAdjust="spacingAndGlyphs" font-family='"Liberation Serif", serif' font-weight="bold" font-size="12.0" fill="#111" stroke="#111" stroke-width="0.2">0.03</text>
<text x="40.9" y="385.1" text-anchor="end" textLength="21.8" lengthAdjust="spacingAndGlyphs" font-family='"Liberation Serif", serif' font-weight="bold" font-size="12.0" fill="#111" stroke="#111" stroke-width="0.2">0.02</text>
<text x="40.9" y="401.8" text-anchor="end" textLength="21.8" lengthAdjust="spacingAndGlyphs" font-family='"Liberation Serif", serif' font-weight="bold" font-size="12.0" fill="#111" stroke="#111" stroke-width="0.2">0.01</text>
<text x="40.9" y="418.6" text-anchor="end" textLength="6.2" lengthAdjust="spacingAndGlyphs" font-family='"Liberation Serif", serif' font-weight="bold" font-size="12.0" fill="#111" stroke="#111" stroke-width="0.2">0</text>
<text x="40.9" y="435.4" text-anchor="end" textLength="26.0" lengthAdjust="spacingAndGlyphs" font-family='"Liberation Serif", serif' font-weight="bold" font-size="12.0" fill="#111" stroke="#111" stroke-width="0.2">-0.01</text>
<text x="54.0" y="450.6" text-anchor="middle" font-family='"Liberation Serif", serif' font-weight="bold" font-size="12.2" fill="#111" stroke="#111" stroke-width="0.2">50</text>
<text x="88.2" y="450.6" text-anchor="middle" font-family='"Liberation Serif", serif' font-weight="bold" font-size="12.2" fill="#111" stroke="#111" stroke-width="0.2">54</text>
<text x="122.4" y="450.6" text-anchor="middle" font-family='"Liberation Serif", serif' font-weight="bold" font-size="12.2" fill="#111" stroke="#111" stroke-width="0.2">58</text>
<text x="156.6" y="450.6" text-anchor="middle" font-family='"Liberation Serif", serif' font-weight="bold" font-size="12.2" fill="#111" stroke="#111" stroke-width="0.2">62</text>
<text x="190.8" y="450.6" text-anchor="middle" font-family='"Liberation Serif", serif' font-weight="bold" font-size="12.2" fill="#111" stroke="#111" stroke-width="0.2">66</text>
<text x="225.0" y="450.6" text-anchor="middle" font-family='"Liberation Serif", serif' font-weight="bold" font-size="12.2" fill="#111" stroke="#111" stroke-width="0.2">70</text>
<text x="109.5" y="464.6" textLength="92.5" lengthAdjust="spacingAndGlyphs" font-family='"Liberation Serif", serif' font-size="13.6" fill="#111" stroke="#111" stroke-width="0.4">Temperature (ºC)</text>
<text transform="translate(11.6,409.0) rotate(-90)" textLength="130" lengthAdjust="spacingAndGlyphs" font-family='"Liberation Serif", serif' font-size="13.6" fill="#111" stroke="#111" stroke-width="0.4">Fluorescence –d(F2)/dT</text>
<path d="M131.9,264.5V431.2" stroke="#444" stroke-width="1.2"/>
<path d="M175.5,264V431.2" stroke="#c07886" stroke-width="1.0"/>
<path d="M56.3,424.8 57.1,424.4 58.1,423.8 59.4,423.0 60.8,422.3 62.2,421.6 63.5,421.0 64.8,420.5 66.0,420.1 67.3,419.7 68.6,419.3 69.9,419.0 71.2,418.8 72.5,418.6 73.8,418.5 75.1,418.5 76.4,418.5 77.6,418.5 78.8,418.5 79.8,418.6 80.7,418.8 81.4,418.9 82.3,419.1 83.3,419.1 84.6,419.0 86.2,418.7 88.2,418.1 90.3,417.5 92.4,416.9 94.4,416.2 96.2,415.6 97.7,415.1 99.1,414.5 100.3,414.0 101.5,413.5 102.7,413.0 104.0,412.5 105.3,412.0 106.6,411.5 107.9,411.0 109.2,410.5 110.5,410.0 112.0,409.5 113.6,409.0 115.2,408.4 116.9,407.8 118.6,407.3 120.4,406.7 122.1,406.2 123.8,405.7 125.6,405.3 127.4,405.0 129.2,404.6 130.8,404.2 132.3,403.7 133.6,403.2 134.8,402.8 135.9,402.3 136.9,401.7 138.0,401.1 139.0,400.3 140.1,399.4 141.1,398.5 142.1,397.5 143.1,396.4 144.1,395.1 145.0,393.5 145.9,391.7 146.8,389.6 147.7,387.3 148.5,384.9 149.3,382.4 150.1,379.9 150.9,377.3 151.6,374.6 152.3,371.8 152.9,368.9 153.6,366.0 154.3,362.9 155.0,359.8 155.7,356.7 156.4,353.6 157.1,350.2 157.8,346.5 158.6,342.5 159.4,337.8 160.3,332.5 161.2,326.9 162.1,321.3 163.0,316.2 163.8,311.7 164.6,308.0 165.3,304.9 166.0,302.2 166.6,299.7 167.3,297.2 168.0,294.7 168.7,292.0 169.5,289.3 170.2,286.6 170.9,284.1 171.6,281.8 172.3,279.9 172.9,278.3 173.5,277.0 174.0,275.8 174.5,275.0 175.0,274.4 175.5,274.1 176.0,274.0 176.5,274.3 177.1,274.7 177.6,275.5 178.1,276.5 178.6,277.7 179.1,279.2 179.6,281.0 180.1,283.0 180.6,285.3 181.2,287.8 181.8,290.5 182.5,293.6 183.2,297.1 184.0,300.8 184.7,304.6 185.4,308.3 186.1,311.7 186.7,314.7 187.3,317.5 187.8,320.2 188.3,322.9 188.8,325.7 189.3,328.7 189.8,332.0 190.3,335.5 190.8,339.0 191.4,342.7 191.9,346.3 192.4,349.9 192.9,353.4 193.4,357.0 193.9,360.5 194.4,364.0 195.0,367.6 195.6,371.1 196.3,374.7 197.0,378.5 197.7,382.2 198.4,385.9 199.2,389.3 199.9,392.3 200.6,395.0 201.3,397.4 201.9,399.6 202.6,401.5 203.3,403.3 204.1,405.0 204.9,406.5 205.8,407.8 206.8,408.9 207.7,409.8 208.6,410.7 209.4,411.4 210.1,412.0 210.8,412.5 211.5,412.8 212.1,413.0 212.8,413.2 213.5,413.4 214.3,413.5 215.1,413.6 216.0,413.7 216.9,413.6 217.8,413.6 218.8,413.4 219.9,413.1 221.0,412.8 222.2,412.4 223.4,411.9 224.6,411.5 225.8,411.1 227.0,410.7 228.1,410.4 229.3,410.1 230.5,409.7 231.6,409.4 232.7,409.2 233.8,409.0 234.9,408.9 236.0,408.7 237.0,408.6 237.9,408.6 238.5,408.5" stroke="#a24a5c" stroke-width="1.1" fill="none"/>
<path d="M56.3,424.8 57.1,424.4 58.1,424.0 59.3,423.4 60.7,422.8 62.1,422.1 63.5,421.3 65.0,420.4 66.6,419.3 68.3,418.1 70.0,416.9 71.6,415.9 73.1,415.2 74.4,414.8 75.5,414.7 76.5,414.7 77.5,414.8 78.6,414.8 79.8,414.6 81.2,414.2 82.7,413.8 84.2,413.3 85.7,412.8 87.2,412.2 88.5,411.7 89.6,411.2 90.6,410.7 91.5,410.2 92.3,409.7 93.2,409.2 94.2,408.8 95.3,408.5 96.4,408.3 97.6,408.1 98.7,407.9 99.8,407.6 100.8,407.0 101.7,406.2 102.4,405.3 103.1,404.2 103.8,403.0 104.5,401.7 105.1,400.3 105.7,398.8 106.3,397.3 106.9,395.6 107.4,393.9 107.9,392.0 108.5,390.1 109.1,388.0 109.6,385.8 110.2,383.5 110.7,381.2 111.3,378.8 111.9,376.5 112.6,374.3 113.3,372.1 114.0,369.9 114.7,367.7 115.4,365.4 116.1,362.9 116.7,360.3 117.3,357.5 117.8,354.6 118.4,351.7 118.9,348.8 119.5,345.9 120.1,343.0 120.6,340.1 121.1,337.2 121.7,334.4 122.3,331.6 122.9,329.0 123.6,326.5 124.2,324.1 124.9,321.8 125.7,319.6 126.4,317.5 127.2,315.4 128.0,313.2 128.9,311.0 129.8,308.8 130.7,306.9 131.5,305.3 132.3,304.3 133.0,303.8 133.6,303.7 134.1,304.1 134.6,304.7 135.2,305.7 135.7,306.9 136.2,308.5 136.8,310.4 137.3,312.6 137.8,315.1 138.4,317.7 139.0,320.5 139.7,323.5 140.4,326.8 141.1,330.3 141.9,333.9 142.6,337.4 143.3,340.8 143.9,344.0 144.5,347.2 145.1,350.4 145.6,353.5 146.1,356.5 146.7,359.5 147.3,362.5 147.8,365.5 148.4,368.4 149.0,371.3 149.5,374.0 150.1,376.5 150.7,378.7 151.3,380.7 151.9,382.6 152.5,384.4 153.1,386.2 153.7,388.1 154.3,390.2 154.9,392.5 155.4,394.8 156.0,397.0 156.7,399.0 157.4,400.8 158.2,402.3 159.0,403.6 159.9,404.7 160.8,405.7 161.7,406.5 162.7,407.2 163.7,407.7 164.8,408.0 165.8,408.1 166.9,408.2 168.0,408.2 169.1,408.2 170.2,408.2 171.2,408.1 172.3,408.0 173.4,407.9 174.4,407.7 175.5,407.6 176.6,407.4 177.6,407.3 178.7,407.1 179.7,406.9 180.7,406.7 181.8,406.7 182.9,406.8 183.9,406.9 185.0,407.1 186.1,407.3 187.1,407.5 188.2,407.6 189.3,407.6 190.3,407.5 191.4,407.4 192.5,407.2 193.5,407.2 194.6,407.2 195.7,407.4 196.7,407.6 197.8,407.9 198.9,408.2 199.9,408.6 200.9,408.9 201.9,409.2 202.9,409.6 203.8,410.0 204.8,410.4 205.7,410.7 206.5,411.0 207.3,411.3 208.0,411.5 208.6,411.7 209.2,411.9 209.9,412.0 210.5,412.0 211.1,411.9 211.7,411.7 212.3,411.4 212.9,411.1 213.5,410.8 214.2,410.4 214.9,410.0 215.6,409.4 216.4,408.8 217.1,408.3 218.0,407.9 218.8,407.6 219.7,407.5 220.6,407.6 221.6,407.8 222.5,408.0 223.6,408.3 224.6,408.5 225.7,408.7 226.7,409.0 227.8,409.2 229.0,409.5 230.2,409.6 231.5,409.7 233.0,409.6 234.8,409.4 236.6,409.2 238.3,408.9 239.8,408.7 240.8,408.5" stroke="#2a2a2a" stroke-width="1.2" fill="none"/>
<path d="M320.7,263V430.8M312.7,430.8H513.3M320.7,274.2h-8M320.7,293.8h-8M320.7,313.3h-8M320.7,332.9h-8M320.7,352.5h-8M320.7,372.1h-8M320.7,391.6h-8M320.7,411.2h-8M320.7,284.0h-3.8M320.7,303.6h-3.8M320.7,323.1h-3.8M320.7,342.7h-3.8M320.7,362.3h-3.8M320.7,381.9h-3.8M320.7,401.4h-3.8M320.7,421.0h-3.8M323.3,430.8v8M332.3,430.8v3.8M341.3,430.8v8M350.3,430.8v3.8M359.3,430.8v8M368.2,430.8v3.8M377.2,430.8v8M386.2,430.8v3.8M395.2,430.8v8M404.2,430.8v3.8M413.2,430.8v8M422.2,430.8v3.8M431.2,430.8v8M440.2,430.8v3.8M449.2,430.8v8M458.1,430.8v3.8M467.1,430.8v8M476.1,430.8v3.8M485.1,430.8v8M494.1,430.8v3.8M503.1,430.8v8M512.1,430.8v3.8" stroke="#1a1a1a" stroke-width="1.3" fill="none"/>
<text x="308.2" y="278.4" text-anchor="end" textLength="21.8" lengthAdjust="spacingAndGlyphs" font-family='"Liberation Serif", serif' font-weight="bold" font-size="12.0" fill="#111" stroke="#111" stroke-width="0.2">0.07</text>
<text x="308.2" y="298.0" text-anchor="end" textLength="21.8" lengthAdjust="spacingAndGlyphs" font-family='"Liberation Serif", serif' font-weight="bold" font-size="12.0" fill="#111" stroke="#111" stroke-width="0.2">0.06</text>
<text x="308.2" y="317.5" text-anchor="end" textLength="21.8" lengthAdjust="spacingAndGlyphs" font-family='"Liberation Serif", serif' font-weight="bold" font-size="12.0" fill="#111" stroke="#111" stroke-width="0.2">0.05</text>
<text x="308.2" y="337.1" text-anchor="end" textLength="21.8" lengthAdjust="spacingAndGlyphs" font-family='"Liberation Serif", serif' font-weight="bold" font-size="12.0" fill="#111" stroke="#111" stroke-width="0.2">0.04</text>
<text x="308.2" y="356.7" text-anchor="end" textLength="21.8" lengthAdjust="spacingAndGlyphs" font-family='"Liberation Serif", serif' font-weight="bold" font-size="12.0" fill="#111" stroke="#111" stroke-width="0.2">0.03</text>
<text x="308.2" y="376.3" text-anchor="end" textLength="21.8" lengthAdjust="spacingAndGlyphs" font-family='"Liberation Serif", serif' font-weight="bold" font-size="12.0" fill="#111" stroke="#111" stroke-width="0.2">0.02</text>
<text x="308.2" y="395.8" text-anchor="end" textLength="21.8" lengthAdjust="spacingAndGlyphs" font-family='"Liberation Serif", serif' font-weight="bold" font-size="12.0" fill="#111" stroke="#111" stroke-width="0.2">0.01</text>
<text x="308.2" y="415.4" text-anchor="end" textLength="6.2" lengthAdjust="spacingAndGlyphs" font-family='"Liberation Serif", serif' font-weight="bold" font-size="12.0" fill="#111" stroke="#111" stroke-width="0.2">0</text>
<text x="308.2" y="435.0" text-anchor="end" textLength="26.0" lengthAdjust="spacingAndGlyphs" font-family='"Liberation Serif", serif' font-weight="bold" font-size="12.0" fill="#111" stroke="#111" stroke-width="0.2">-0.01</text>
<text x="323.3" y="453.3" text-anchor="middle" font-family='"Liberation Serif", serif' font-weight="bold" font-size="12.2" fill="#111" stroke="#111" stroke-width="0.2">52</text>
<text x="359.3" y="453.3" text-anchor="middle" font-family='"Liberation Serif", serif' font-weight="bold" font-size="12.2" fill="#111" stroke="#111" stroke-width="0.2">56</text>
<text x="395.2" y="453.3" text-anchor="middle" font-family='"Liberation Serif", serif' font-weight="bold" font-size="12.2" fill="#111" stroke="#111" stroke-width="0.2">60</text>
<text x="431.2" y="453.3" text-anchor="middle" font-family='"Liberation Serif", serif' font-weight="bold" font-size="12.2" fill="#111" stroke="#111" stroke-width="0.2">64</text>
<text x="467.1" y="453.3" text-anchor="middle" font-family='"Liberation Serif", serif' font-weight="bold" font-size="12.2" fill="#111" stroke="#111" stroke-width="0.2">68</text>
<text x="503.1" y="453.3" text-anchor="middle" font-family='"Liberation Serif", serif' font-weight="bold" font-size="12.2" fill="#111" stroke="#111" stroke-width="0.2">72</text>
<text x="379.5" y="467.3" textLength="93.10000000000002" lengthAdjust="spacingAndGlyphs" font-family='"Liberation Serif", serif' font-size="13.6" fill="#111" stroke="#111" stroke-width="0.4">Temperature (ºC)</text>
<text transform="translate(282,409.5) rotate(-90)" textLength="133" lengthAdjust="spacingAndGlyphs" font-family='"Liberation Serif", serif' font-size="13.6" fill="#111" stroke="#111" stroke-width="0.4">Fluorescence –d(F2)/dT</text>
<path d="M387.3,266.7V430.8" stroke="#444" stroke-width="1.2"/>
<path d="M424.5,266.7V430.8" stroke="#c07886" stroke-width="1.0"/>
<path d="M323.8,415.0 324.6,414.9 325.8,414.7 327.2,414.4 328.6,414.2 330.1,413.9 331.5,413.7 332.8,413.5 334.0,413.4 335.2,413.3 336.5,413.1 337.8,412.9 339.2,412.7 340.7,412.4 342.4,411.9 344.1,411.5 345.8,411.0 347.4,410.6 348.8,410.2 350.0,410.0 351.0,409.8 351.8,409.7 352.7,409.6 353.8,409.4 355.0,409.1 356.5,408.7 358.2,408.3 360.0,407.8 361.9,407.3 363.8,406.7 365.6,406.1 367.4,405.5 369.1,404.8 370.9,404.1 372.7,403.4 374.4,402.6 376.2,401.9 378.0,401.2 379.8,400.5 381.7,399.8 383.5,399.1 385.2,398.4 386.8,397.6 388.2,396.8 389.6,396.0 390.8,395.2 392.0,394.3 393.2,393.4 394.3,392.3 395.4,391.1 396.5,389.8 397.6,388.4 398.6,386.9 399.6,385.4 400.6,383.8 401.6,382.2 402.5,380.4 403.4,378.6 404.2,376.8 405.1,375.0 405.9,373.2 406.7,371.5 407.4,369.8 408.1,368.1 408.8,366.4 409.5,364.6 410.2,362.6 411.0,360.4 411.8,358.0 412.6,355.4 413.5,352.9 414.3,350.6 415.0,348.5 415.7,346.7 416.4,345.1 417.0,343.7 417.6,342.4 418.2,341.2 418.8,340.0 419.4,338.9 419.9,337.9 420.4,337.0 420.9,336.2 421.4,335.5 421.9,334.8 422.4,334.2 422.9,333.6 423.4,333.1 423.9,332.6 424.4,332.4 424.9,332.3 425.4,332.4 426.0,332.7 426.6,333.1 427.2,333.6 427.7,334.3 428.3,335.0 428.8,335.8 429.4,336.8 429.9,337.9 430.4,339.0 431.0,340.3 431.5,341.5 432.0,342.8 432.5,344.0 433.0,345.4 433.5,346.8 434.1,348.3 434.6,350.0 435.1,351.8 435.7,353.6 436.3,355.5 436.8,357.6 437.4,359.8 438.1,362.3 438.8,365.1 439.6,368.1 440.3,371.3 441.1,374.6 441.9,377.8 442.7,380.8 443.5,383.7 444.2,386.6 444.9,389.4 445.7,392.1 446.5,394.6 447.3,396.9 448.2,398.9 449.1,400.7 450.1,402.4 451.0,403.8 452.1,405.1 453.1,406.2 454.2,407.1 455.2,407.8 456.3,408.3 457.5,408.6 458.7,408.9 460.0,409.2 461.4,409.4 462.8,409.6 464.3,409.7 465.9,409.7 467.5,409.7 469.2,409.6 471.0,409.5 472.9,409.4 474.9,409.2 476.9,409.0 478.8,408.7 480.8,408.5 482.7,408.2 484.6,407.9 486.6,407.5 488.5,407.2 490.4,406.8 492.3,406.6 494.3,406.4 496.6,406.3 498.8,406.3 500.8,406.2 502.5,406.2 503.8,406.2" stroke="#a24a5c" stroke-width="1.1" fill="none"/>
<path d="M323.8,412.7 324.6,412.2 325.8,411.5 327.2,410.7 328.6,409.9 330.1,409.1 331.5,408.3 332.8,407.6 334.1,406.9 335.4,406.3 336.6,405.6 337.9,405.0 339.2,404.4 340.5,403.9 341.9,403.3 343.2,402.8 344.5,402.4 345.8,401.9 346.9,401.5 347.9,401.1 348.8,400.8 349.6,400.5 350.3,400.1 351.0,399.8 351.7,399.3 352.3,398.8 352.9,398.3 353.4,397.7 353.9,397.1 354.4,396.4 355.0,395.5 355.6,394.5 356.3,393.5 357.0,392.4 357.8,391.1 358.5,389.7 359.2,388.1 359.9,386.3 360.6,384.4 361.4,382.3 362.1,380.1 362.8,377.7 363.5,375.3 364.2,372.7 364.9,369.9 365.7,367.0 366.4,364.0 367.1,361.1 367.7,358.4 368.3,355.8 368.8,353.4 369.4,351.0 369.9,348.5 370.4,346.1 370.9,343.5 371.4,340.8 372.0,338.0 372.5,335.1 373.0,332.2 373.6,329.4 374.1,326.5 374.6,323.7 375.2,320.9 375.7,318.2 376.2,315.4 376.8,312.5 377.3,309.6 377.8,306.5 378.4,303.1 378.9,299.7 379.4,296.4 380.0,293.3 380.5,290.5 381.0,288.0 381.5,285.8 382.0,283.8 382.5,282.0 383.0,280.3 383.6,278.8 384.2,277.4 384.8,276.1 385.4,275.0 386.0,274.2 386.7,273.6 387.3,273.5 387.9,273.8 388.6,274.5 389.2,275.6 389.9,276.9 390.5,278.3 391.1,279.9 391.7,281.6 392.2,283.4 392.7,285.5 393.3,287.7 393.8,290.0 394.3,292.6 394.8,295.4 395.3,298.3 395.9,301.5 396.4,304.8 396.9,308.2 397.4,311.7 397.9,315.3 398.5,319.2 399.0,323.1 399.5,327.1 400.1,331.1 400.6,335.0 401.1,338.9 401.7,342.9 402.2,346.8 402.7,350.8 403.3,354.6 403.8,358.4 404.3,362.1 404.9,365.7 405.4,369.3 405.9,372.8 406.4,376.2 407.0,379.6 407.6,383.0 408.2,386.5 408.8,389.9 409.4,393.1 410.0,396.1 410.6,398.7 411.2,400.9 411.8,402.9 412.4,404.6 413.1,406.0 413.7,407.3 414.4,408.5 415.1,409.5 415.9,410.3 416.6,411.0 417.4,411.5 418.2,411.9 419.0,412.3 419.8,412.6 420.5,412.9 421.2,413.1 422.1,413.1 423.0,413.2 424.2,413.1 425.6,412.9 427.2,412.7 429.0,412.3 430.9,412.0 432.7,411.6 434.6,411.2 436.5,410.8 438.4,410.4 440.3,409.9 442.3,409.5 444.3,409.2 446.2,408.9 448.1,408.8 450.0,408.7 452.0,408.7 453.9,408.8 455.8,408.8 457.7,408.9 459.6,409.0 461.5,409.1 463.4,409.3 465.4,409.4 467.3,409.6 469.2,409.6 471.1,409.6 473.1,409.5 475.0,409.4 476.9,409.3 478.9,409.1 480.8,408.9 482.7,408.7 484.6,408.3 486.6,408.0 488.5,407.7 490.4,407.4 492.3,407.3 494.3,407.4 496.6,407.5 498.8,407.8 500.8,408.1 502.5,408.3 503.8,408.5" stroke="#2a2a2a" stroke-width="1.2" fill="none"/>
<path d="M51.7,498.6V667.3M43.7,667.3H248.4M51.7,498.6h-8M51.7,515.5h-8M51.7,532.3h-8M51.7,549.2h-8M51.7,566.1h-8M51.7,583.0h-8M51.7,599.8h-8M51.7,616.7h-8M51.7,633.6h-8M51.7,650.4h-8M51.7,507.0h-3.8M51.7,523.9h-3.8M51.7,540.8h-3.8M51.7,557.6h-3.8M51.7,574.5h-3.8M51.7,591.4h-3.8M51.7,608.3h-3.8M51.7,625.1h-3.8M51.7,642.0h-3.8M51.7,658.9h-3.8M57.8,667.3v8M65.7,667.3v3.8M73.7,667.3v8M81.6,667.3v3.8M89.6,667.3v8M97.5,667.3v3.8M105.4,667.3v8M113.4,667.3v3.8M121.3,667.3v8M129.3,667.3v3.8M137.2,667.3v8M145.1,667.3v3.8M153.1,667.3v8M161.0,667.3v3.8M169.0,667.3v8M176.9,667.3v3.8M184.8,667.3v8M192.8,667.3v3.8M200.7,667.3v8M208.7,667.3v3.8M216.6,667.3v8M224.5,667.3v3.8M232.5,667.3v8M240.4,667.3v3.8M248.4,667.3v8" stroke="#1a1a1a" stroke-width="1.3" fill="none"/>
<text x="40.2" y="502.8" text-anchor="end" textLength="21.8" lengthAdjust="spacingAndGlyphs" font-family='"Liberation Serif", serif' font-weight="bold" font-size="12.0" fill="#111" stroke="#111" stroke-width="0.2">0.09</text>
<text x="40.2" y="519.7" text-anchor="end" textLength="21.8" lengthAdjust="spacingAndGlyphs" font-family='"Liberation Serif", serif' font-weight="bold" font-size="12.0" fill="#111" stroke="#111" stroke-width="0.2">0.08</text>
<text x="40.2" y="536.5" text-anchor="end" textLength="21.8" lengthAdjust="spacingAndGlyphs" font-family='"Liberation Serif", serif' font-weight="bold" font-size="12.0" fill="#111" stroke="#111" stroke-width="0.2">0.07</text>
<text x="40.2" y="553.4" text-anchor="end" textLength="21.8" lengthAdjust="spacingAndGlyphs" font-family='"Liberation Serif", serif' font-weight="bold" font-size="12.0" fill="#111" stroke="#111" stroke-width="0.2">0.06</text>
<text x="40.2" y="570.3" text-anchor="end" textLength="21.8" lengthAdjust="spacingAndGlyphs" font-family='"Liberation Serif", serif' font-weight="bold" font-size="12.0" fill="#111" stroke="#111" stroke-width="0.2">0.05</text>
<text x="40.2" y="587.2" text-anchor="end" textLength="21.8" lengthAdjust="spacingAndGlyphs" font-family='"Liberation Serif", serif' font-weight="bold" font-size="12.0" fill="#111" stroke="#111" stroke-width="0.2">0.04</text>
<text x="40.2" y="604.0" text-anchor="end" textLength="21.8" lengthAdjust="spacingAndGlyphs" font-family='"Liberation Serif", serif' font-weight="bold" font-size="12.0" fill="#111" stroke="#111" stroke-width="0.2">0.03</text>
<text x="40.2" y="620.9" text-anchor="end" textLength="21.8" lengthAdjust="spacingAndGlyphs" font-family='"Liberation Serif", serif' font-weight="bold" font-size="12.0" fill="#111" stroke="#111" stroke-width="0.2">0.02</text>
<text x="40.2" y="637.8" text-anchor="end" textLength="21.8" lengthAdjust="spacingAndGlyphs" font-family='"Liberation Serif", serif' font-weight="bold" font-size="12.0" fill="#111" stroke="#111" stroke-width="0.2">0.01</text>
<text x="40.2" y="654.6" text-anchor="end" textLength="6.2" lengthAdjust="spacingAndGlyphs" font-family='"Liberation Serif", serif' font-weight="bold" font-size="12.0" fill="#111" stroke="#111" stroke-width="0.2">0</text>
<text x="40.2" y="671.5" text-anchor="end" textLength="26.0" lengthAdjust="spacingAndGlyphs" font-family='"Liberation Serif", serif' font-weight="bold" font-size="12.0" fill="#111" stroke="#111" stroke-width="0.2">-0.01</text>
<text x="57.8" y="685.4" text-anchor="middle" font-family='"Liberation Serif", serif' font-weight="bold" font-size="12.2" fill="#111" stroke="#111" stroke-width="0.2">50</text>
<text x="89.6" y="685.4" text-anchor="middle" font-family='"Liberation Serif", serif' font-weight="bold" font-size="12.2" fill="#111" stroke="#111" stroke-width="0.2">54</text>
<text x="121.3" y="685.4" text-anchor="middle" font-family='"Liberation Serif", serif' font-weight="bold" font-size="12.2" fill="#111" stroke="#111" stroke-width="0.2">58</text>
<text x="153.1" y="685.4" text-anchor="middle" font-family='"Liberation Serif", serif' font-weight="bold" font-size="12.2" fill="#111" stroke="#111" stroke-width="0.2">62</text>
<text x="184.8" y="685.4" text-anchor="middle" font-family='"Liberation Serif", serif' font-weight="bold" font-size="12.2" fill="#111" stroke="#111" stroke-width="0.2">66</text>
<text x="216.6" y="685.4" text-anchor="middle" font-family='"Liberation Serif", serif' font-weight="bold" font-size="12.2" fill="#111" stroke="#111" stroke-width="0.2">70</text>
<text x="248.4" y="685.4" text-anchor="middle" font-family='"Liberation Serif", serif' font-weight="bold" font-size="12.2" fill="#111" stroke="#111" stroke-width="0.2">74</text>
<text x="108.5" y="701.9" textLength="93.0" lengthAdjust="spacingAndGlyphs" font-family='"Liberation Serif", serif' font-size="13.6" fill="#111" stroke="#111" stroke-width="0.4">Temperature (ºC)</text>
<text transform="translate(11.6,647.0) rotate(-90)" textLength="128" lengthAdjust="spacingAndGlyphs" font-family='"Liberation Serif", serif' font-size="13.6" fill="#111" stroke="#111" stroke-width="0.4">Fluorescence –d(F2)/dT</text>
<path d="M129.9,498.1V667.3" stroke="#444" stroke-width="1.2"/>
<path d="M163.5,498.1V667.3" stroke="#c07886" stroke-width="1.0"/>
<path d="M53.8,652.7 54.5,652.7 55.4,652.8 56.5,652.8 57.6,652.9 58.7,653.0 59.6,653.1 60.3,653.3 61.0,653.5 61.6,653.7 62.1,653.9 62.8,654.0 63.5,654.0 64.4,653.9 65.3,653.7 66.3,653.4 67.3,653.1 68.3,652.6 69.2,652.1 70.1,651.4 70.9,650.5 71.7,649.6 72.4,648.7 73.2,647.9 74.0,647.3 74.7,647.1 75.4,647.1 76.1,647.3 76.8,647.5 77.7,647.5 78.8,647.3 80.2,646.7 81.8,646.0 83.5,645.0 85.3,644.1 87.0,643.2 88.5,642.5 89.8,642.0 91.0,641.6 92.0,641.3 93.1,641.0 94.0,640.8 95.0,640.5 95.9,640.3 96.6,640.2 97.4,640.1 98.1,639.9 99.0,639.6 100.0,639.0 101.2,638.1 102.6,637.0 104.0,635.7 105.5,634.4 107.0,633.0 108.5,631.6 109.9,630.2 111.3,628.8 112.8,627.4 114.2,626.0 115.6,624.5 117.0,623.1 118.4,621.7 119.9,620.2 121.4,618.8 122.8,617.4 124.2,616.0 125.5,614.6 126.7,613.3 127.8,612.1 128.8,611.0 129.8,609.8 130.8,608.5 131.8,607.2 132.9,605.7 134.0,604.2 135.1,602.6 136.1,601.0 137.2,599.3 138.2,597.6 139.2,595.9 140.1,594.3 141.0,592.6 141.9,590.9 142.7,589.0 143.5,587.0 144.3,584.8 145.0,582.5 145.7,580.1 146.3,577.5 147.0,574.9 147.7,572.1 148.4,569.2 149.1,566.1 149.8,562.9 150.6,559.7 151.3,556.4 152.0,553.0 152.7,549.6 153.4,546.0 154.1,542.4 154.8,538.8 155.5,535.2 156.2,531.8 156.9,528.3 157.7,524.7 158.4,521.2 159.1,517.9 159.8,515.0 160.5,512.7 161.1,511.0 161.7,509.7 162.2,508.8 162.7,508.3 163.2,508.0 163.7,507.9 164.2,508.0 164.7,508.4 165.2,509.1 165.8,510.0 166.3,511.2 166.8,512.7 167.3,514.5 167.8,516.5 168.3,518.9 168.8,521.5 169.4,524.4 170.0,527.6 170.7,531.2 171.4,535.0 172.1,539.2 172.8,543.7 173.6,548.3 174.3,553.0 175.0,558.0 175.7,563.5 176.5,569.1 177.2,574.7 177.9,580.0 178.5,584.9 179.1,589.4 179.6,593.5 180.2,597.5 180.7,601.2 181.2,604.8 181.7,608.2 182.2,611.5 182.7,614.6 183.2,617.5 183.8,620.2 184.3,622.8 184.9,625.2 185.5,627.4 186.2,629.5 186.9,631.5 187.6,633.2 188.4,634.6 189.1,635.8 189.8,636.6 190.5,637.1 191.2,637.4 192.0,637.5 192.7,637.5 193.5,637.6 194.3,637.7 195.2,637.8 196.1,637.9 197.0,637.8 197.9,637.7 198.8,637.4 199.7,637.0 200.7,636.3 201.6,635.6 202.6,634.9 203.6,634.1 204.6,633.5 205.7,632.9 206.9,632.4 208.0,631.8 209.2,631.3 210.4,630.9 211.5,630.5 212.5,630.2 213.6,629.9 214.5,629.7 215.5,629.5 216.4,629.5 217.3,629.5 218.1,629.7 218.9,630.2 219.6,630.7 220.3,631.2 221.1,631.6 221.9,631.8 222.8,631.8 223.7,631.7 224.6,631.5 225.6,631.3 226.6,630.9 227.7,630.5 228.9,630.0 230.2,629.3 231.5,628.6 232.9,627.9 234.4,627.1 235.8,626.5 237.4,625.9 239.1,625.3 240.9,624.8 242.6,624.2 244.0,623.8 245.0,623.5" stroke="#a24a5c" stroke-width="1.1" fill="none"/>
<path d="M53.8,655.6 54.6,655.6 55.8,655.6 57.2,655.5 58.6,655.4 60.1,655.3 61.5,655.0 62.8,654.6 64.2,654.1 65.5,653.5 66.8,652.8 68.1,652.2 69.2,651.5 70.2,650.9 71.0,650.3 71.8,649.7 72.5,649.0 73.2,648.2 74.0,647.3 74.8,646.2 75.6,644.8 76.4,643.4 77.2,642.0 78.0,640.7 78.8,639.6 79.6,638.7 80.4,638.0 81.2,637.4 82.1,636.9 82.9,636.6 83.7,636.3 84.5,636.2 85.3,636.3 86.1,636.5 86.9,636.8 87.7,637.1 88.5,637.3 89.3,637.5 90.1,637.8 90.9,638.0 91.7,638.2 92.5,638.4 93.3,638.3 94.1,638.1 94.8,637.7 95.5,637.1 96.2,636.6 96.9,636.0 97.5,635.5 98.0,635.1 98.4,634.8 98.8,634.5 99.2,634.1 99.6,633.5 100.0,632.6 100.5,631.5 101.0,630.1 101.6,628.6 102.1,626.9 102.7,625.1 103.2,623.1 103.7,621.0 104.2,618.8 104.7,616.4 105.3,613.8 105.8,611.1 106.4,608.2 107.0,605.0 107.7,601.6 108.4,598.0 109.2,594.3 109.9,590.6 110.6,587.0 111.3,583.5 112.0,579.9 112.8,576.4 113.5,572.9 114.2,569.3 114.9,565.8 115.6,562.3 116.3,558.7 117.0,555.2 117.7,551.7 118.4,548.1 119.1,544.6 119.8,540.9 120.5,537.1 121.3,533.3 122.0,529.6 122.7,526.2 123.3,523.3 123.9,520.8 124.4,518.7 125.0,516.9 125.5,515.4 126.0,514.0 126.5,512.7 127.0,511.5 127.6,510.5 128.1,509.7 128.6,509.0 129.2,508.6 129.7,508.5 130.2,508.6 130.8,509.0 131.3,509.5 131.8,510.4 132.4,511.4 132.9,512.7 133.4,514.3 134.0,516.1 134.5,518.2 135.0,520.4 135.6,522.9 136.1,525.5 136.6,528.2 137.2,531.2 137.7,534.3 138.2,537.5 138.8,541.0 139.3,544.6 139.8,548.5 140.3,552.7 140.8,557.0 141.4,561.4 141.9,565.8 142.4,570.0 142.9,574.1 143.5,578.1 144.0,582.1 144.5,586.0 145.1,589.8 145.6,593.4 146.1,596.9 146.6,600.2 147.1,603.5 147.7,606.6 148.2,609.6 148.8,612.5 149.4,615.3 150.1,617.9 150.8,620.4 151.5,622.8 152.2,625.1 153.0,627.3 153.8,629.4 154.7,631.4 155.6,633.4 156.5,635.1 157.4,636.6 158.3,637.9 159.2,638.8 160.0,639.5 160.8,639.9 161.7,640.2 162.6,640.4 163.7,640.5 164.9,640.5 166.3,640.4 167.7,640.2 169.2,639.9 170.7,639.7 172.1,639.6 173.6,639.7 175.1,639.9 176.6,640.2 178.1,640.4 179.4,640.5 180.6,640.5 181.6,640.3 182.3,640.0 183.0,639.6 183.6,639.1 184.2,638.5 184.9,637.9 185.6,637.1 186.3,636.2 187.0,635.2 187.7,634.2 188.4,633.3 189.1,632.6 189.7,632.1 190.3,631.7 190.9,631.3 191.6,631.1 192.3,630.9 193.1,630.8 194.1,630.7 195.1,630.7 196.2,630.8 197.4,630.9 198.7,631.0 200.0,631.2 201.4,631.4 202.9,631.7 204.5,632.0 206.0,632.3 207.6,632.6 209.2,632.8 210.8,632.9 212.4,633.0 214.0,633.1 215.6,633.1 217.1,633.1 218.5,633.0 219.8,632.8 220.9,632.6 222.0,632.4 223.0,632.0 224.1,631.7 225.4,631.2 226.8,630.7 228.3,630.0 229.8,629.3 231.4,628.6 233.0,627.9 234.6,627.2 236.4,626.5 238.4,625.8 240.4,625.1 242.3,624.4 243.9,623.9 245.0,623.5" stroke="#2a2a2a" stroke-width="1.2" fill="none"/>
<path d="M320.9,499.2V668.6M312.9,668.6H517.7M320.9,508.6h-8M320.9,526.4h-8M320.9,544.2h-8M320.9,561.9h-8M320.9,579.7h-8M320.9,597.5h-8M320.9,615.3h-8M320.9,633.1h-8M320.9,650.8h-8M320.9,517.5h-3.8M320.9,535.3h-3.8M320.9,553.1h-3.8M320.9,570.8h-3.8M320.9,588.6h-3.8M320.9,606.4h-3.8M320.9,624.2h-3.8M320.9,642.0h-3.8M320.9,659.7h-3.8M323.3,668.6v8M332.4,668.6v3.8M341.6,668.6v8M350.8,668.6v3.8M359.9,668.6v8M369.1,668.6v3.8M378.2,668.6v8M387.4,668.6v3.8M396.5,668.6v8M405.7,668.6v3.8M414.8,668.6v8M424.0,668.6v3.8M433.1,668.6v8M442.2,668.6v3.8M451.4,668.6v8M460.6,668.6v3.8M469.7,668.6v8M478.9,668.6v3.8M488.0,668.6v8M497.1,668.6v3.8M506.3,668.6v8M515.5,668.6v3.8" stroke="#1a1a1a" stroke-width="1.3" fill="none"/>
<text x="309.6" y="512.8" text-anchor="end" textLength="21.8" lengthAdjust="spacingAndGlyphs" font-family='"Liberation Serif", serif' font-weight="bold" font-size="12.0" fill="#111" stroke="#111" stroke-width="0.2">0.15</text>
<text x="309.6" y="530.6" text-anchor="end" textLength="21.8" lengthAdjust="spacingAndGlyphs" font-family='"Liberation Serif", serif' font-weight="bold" font-size="12.0" fill="#111" stroke="#111" stroke-width="0.2">0.13</text>
<text x="309.6" y="548.4" text-anchor="end" textLength="21.2" lengthAdjust="spacingAndGlyphs" font-family='"Liberation Serif", serif' font-weight="bold" font-size="12.0" fill="#111" stroke="#111" stroke-width="0.2">0.11</text>
<text x="309.6" y="566.1" text-anchor="end" textLength="21.8" lengthAdjust="spacingAndGlyphs" font-family='"Liberation Serif", serif' font-weight="bold" font-size="12.0" fill="#111" stroke="#111" stroke-width="0.2">0.09</text>
<text x="309.6" y="583.9" text-anchor="end" textLength="21.8" lengthAdjust="spacingAndGlyphs" font-family='"Liberation Serif", serif' font-weight="bold" font-size="12.0" fill="#111" stroke="#111" stroke-width="0.2">0.07</text>
<text x="309.6" y="601.7" text-anchor="end" textLength="21.8" lengthAdjust="spacingAndGlyphs" font-family='"Liberation Serif", serif' font-weight="bold" font-size="12.0" fill="#111" stroke="#111" stroke-width="0.2">0.05</text>
<text x="309.6" y="619.5" text-anchor="end" textLength="21.8" lengthAdjust="spacingAndGlyphs" font-family='"Liberation Serif", serif' font-weight="bold" font-size="12.0" fill="#111" stroke="#111" stroke-width="0.2">0.03</text>
<text x="309.6" y="637.3" text-anchor="end" textLength="21.8" lengthAdjust="spacingAndGlyphs" font-family='"Liberation Serif", serif' font-weight="bold" font-size="12.0" fill="#111" stroke="#111" stroke-width="0.2">0.01</text>
<text x="309.6" y="655.0" text-anchor="end" textLength="6.2" lengthAdjust="spacingAndGlyphs" font-family='"Liberation Serif", serif' font-weight="bold" font-size="12.0" fill="#111" stroke="#111" stroke-width="0.2">0</text>
<text x="309.6" y="672.8" text-anchor="end" textLength="26.0" lengthAdjust="spacingAndGlyphs" font-family='"Liberation Serif", serif' font-weight="bold" font-size="12.0" fill="#111" stroke="#111" stroke-width="0.2">-0.01</text>
<text x="323.3" y="688.6" text-anchor="middle" font-family='"Liberation Serif", serif' font-weight="bold" font-size="12.2" fill="#111" stroke="#111" stroke-width="0.2">52</text>
<text x="359.9" y="688.6" text-anchor="middle" font-family='"Liberation Serif", serif' font-weight="bold" font-size="12.2" fill="#111" stroke="#111" stroke-width="0.2">56</text>
<text x="396.5" y="688.6" text-anchor="middle" font-family='"Liberation Serif", serif' font-weight="bold" font-size="12.2" fill="#111" stroke="#111" stroke-width="0.2">60</text>
<text x="433.1" y="688.6" text-anchor="middle" font-family='"Liberation Serif", serif' font-weight="bold" font-size="12.2" fill="#111" stroke="#111" stroke-width="0.2">64</text>
<text x="469.7" y="688.6" text-anchor="middle" font-family='"Liberation Serif", serif' font-weight="bold" font-size="12.2" fill="#111" stroke="#111" stroke-width="0.2">68</text>
<text x="506.3" y="688.6" text-anchor="middle" font-family='"Liberation Serif", serif' font-weight="bold" font-size="12.2" fill="#111" stroke="#111" stroke-width="0.2">72</text>
<text x="368.5" y="701.5" textLength="92.60000000000002" lengthAdjust="spacingAndGlyphs" font-family='"Liberation Serif", serif' font-size="13.6" fill="#111" stroke="#111" stroke-width="0.4">Temperature (ºC)</text>
<text transform="translate(282,645.8) rotate(-90)" textLength="129" lengthAdjust="spacingAndGlyphs" font-family='"Liberation Serif", serif' font-size="13.6" fill="#111" stroke="#111" stroke-width="0.4">Fluorescence –d(F2)/dT</text>
<path d="M386.8,501V668.6" stroke="#444" stroke-width="1.2"/>
<path d="M422.5,501V668.6" stroke="#c07886" stroke-width="1.0"/>
<path d="M324.6,651.6 326.1,651.4 328.1,651.1 330.5,650.8 333.2,650.5 335.9,650.2 338.5,650.0 341.0,649.9 343.6,649.8 346.2,649.8 348.9,649.7 351.9,649.7 355.0,649.6 358.4,649.4 362.1,649.3 366.0,649.0 369.9,648.8 373.9,648.6 377.7,648.4 381.5,648.2 385.3,648.0 389.1,647.8 392.9,647.6 396.7,647.4 400.3,647.3 403.9,647.2 407.6,647.1 411.2,647.0 414.7,646.9 417.9,646.9 420.7,646.8 423.0,646.7 425.0,646.7 426.6,646.7 428.2,646.6 429.8,646.6 431.5,646.6 433.3,646.6 435.2,646.7 437.0,646.7 438.9,646.8 440.9,646.8 443.1,646.8 445.4,646.7 447.8,646.7 450.3,646.5 452.9,646.4 455.7,646.3 458.5,646.2 461.4,646.1 464.2,646.1 467.2,646.0 470.4,646.0 473.8,645.9 477.7,645.8 482.4,645.7 488.0,645.5 493.8,645.4 499.4,645.2 504.1,645.1 507.5,645.0" stroke="#a24a5c" stroke-width="1.1" fill="none"/>
<path d="M324.6,647.7 325.1,647.5 325.7,647.2 326.5,646.8 327.3,646.4 328.2,645.9 329.2,645.4 330.2,644.8 331.4,644.1 332.6,643.3 333.8,642.5 335.0,641.8 336.2,641.2 337.3,640.8 338.5,640.4 339.6,640.1 340.7,639.9 341.9,639.6 343.1,639.2 344.4,638.8 345.9,638.3 347.3,637.7 348.8,637.2 350.1,636.7 351.2,636.2 352.1,635.8 352.8,635.6 353.3,635.3 353.8,635.0 354.4,634.5 355.0,633.7 355.7,632.6 356.4,631.4 357.2,630.0 358.0,628.4 358.7,626.6 359.5,624.6 360.3,622.4 361.0,619.9 361.8,617.3 362.6,614.5 363.3,611.6 364.1,608.8 364.9,606.0 365.6,603.2 366.4,600.3 367.1,597.3 367.9,594.0 368.6,590.6 369.3,586.8 370.1,582.8 370.8,578.6 371.6,574.2 372.3,569.9 373.1,565.7 373.9,561.5 374.6,557.3 375.4,553.1 376.2,548.9 376.9,544.8 377.7,540.8 378.5,536.7 379.2,532.5 380.0,528.4 380.7,524.5 381.5,521.0 382.2,518.1 382.9,515.7 383.7,513.6 384.4,512.0 385.2,510.7 385.9,509.9 386.7,509.5 387.5,509.6 388.2,510.1 389.0,511.0 389.8,512.3 390.5,514.0 391.3,515.9 392.1,518.2 392.8,520.8 393.6,523.8 394.3,527.0 395.1,530.5 395.8,534.0 396.5,537.7 397.3,541.7 398.0,545.9 398.8,550.2 399.5,554.5 400.3,558.9 401.1,563.3 401.8,567.8 402.6,572.4 403.4,576.9 404.1,581.5 404.9,586.1 405.7,590.7 406.4,595.4 407.2,600.1 407.9,604.7 408.7,609.2 409.4,613.3 410.1,617.2 410.9,620.9 411.6,624.5 412.3,627.8 413.1,630.9 413.9,633.7 414.8,636.2 415.7,638.4 416.7,640.3 417.7,642.1 418.6,643.6 419.6,645.0 420.5,646.2 421.4,647.1 422.3,647.9 423.3,648.6 424.2,649.1 425.2,649.6 426.2,650.1 427.3,650.4 428.4,650.7 429.5,650.9 430.7,651.0 431.9,651.0 433.1,650.9 434.4,650.8 435.7,650.5 437.0,650.2 438.5,649.9 440.0,649.5 441.6,649.1 443.2,648.5 444.8,647.9 446.6,647.4 448.6,646.9 450.8,646.5 453.3,646.3 456.2,646.1 459.2,646.0 462.3,646.0 465.3,646.0 468.0,646.0 470.5,646.0 472.8,646.1 475.1,646.2 477.3,646.3 479.4,646.3 481.5,646.3 483.5,646.2 485.4,646.1 487.2,645.9 489.0,645.7 490.9,645.5 493.0,645.4 495.4,645.3 498.1,645.2 501.0,645.1 503.6,645.1 505.9,645.0 507.5,645.0" stroke="#2a2a2a" stroke-width="1.2" fill="none"/>
</svg>
</body></html>
